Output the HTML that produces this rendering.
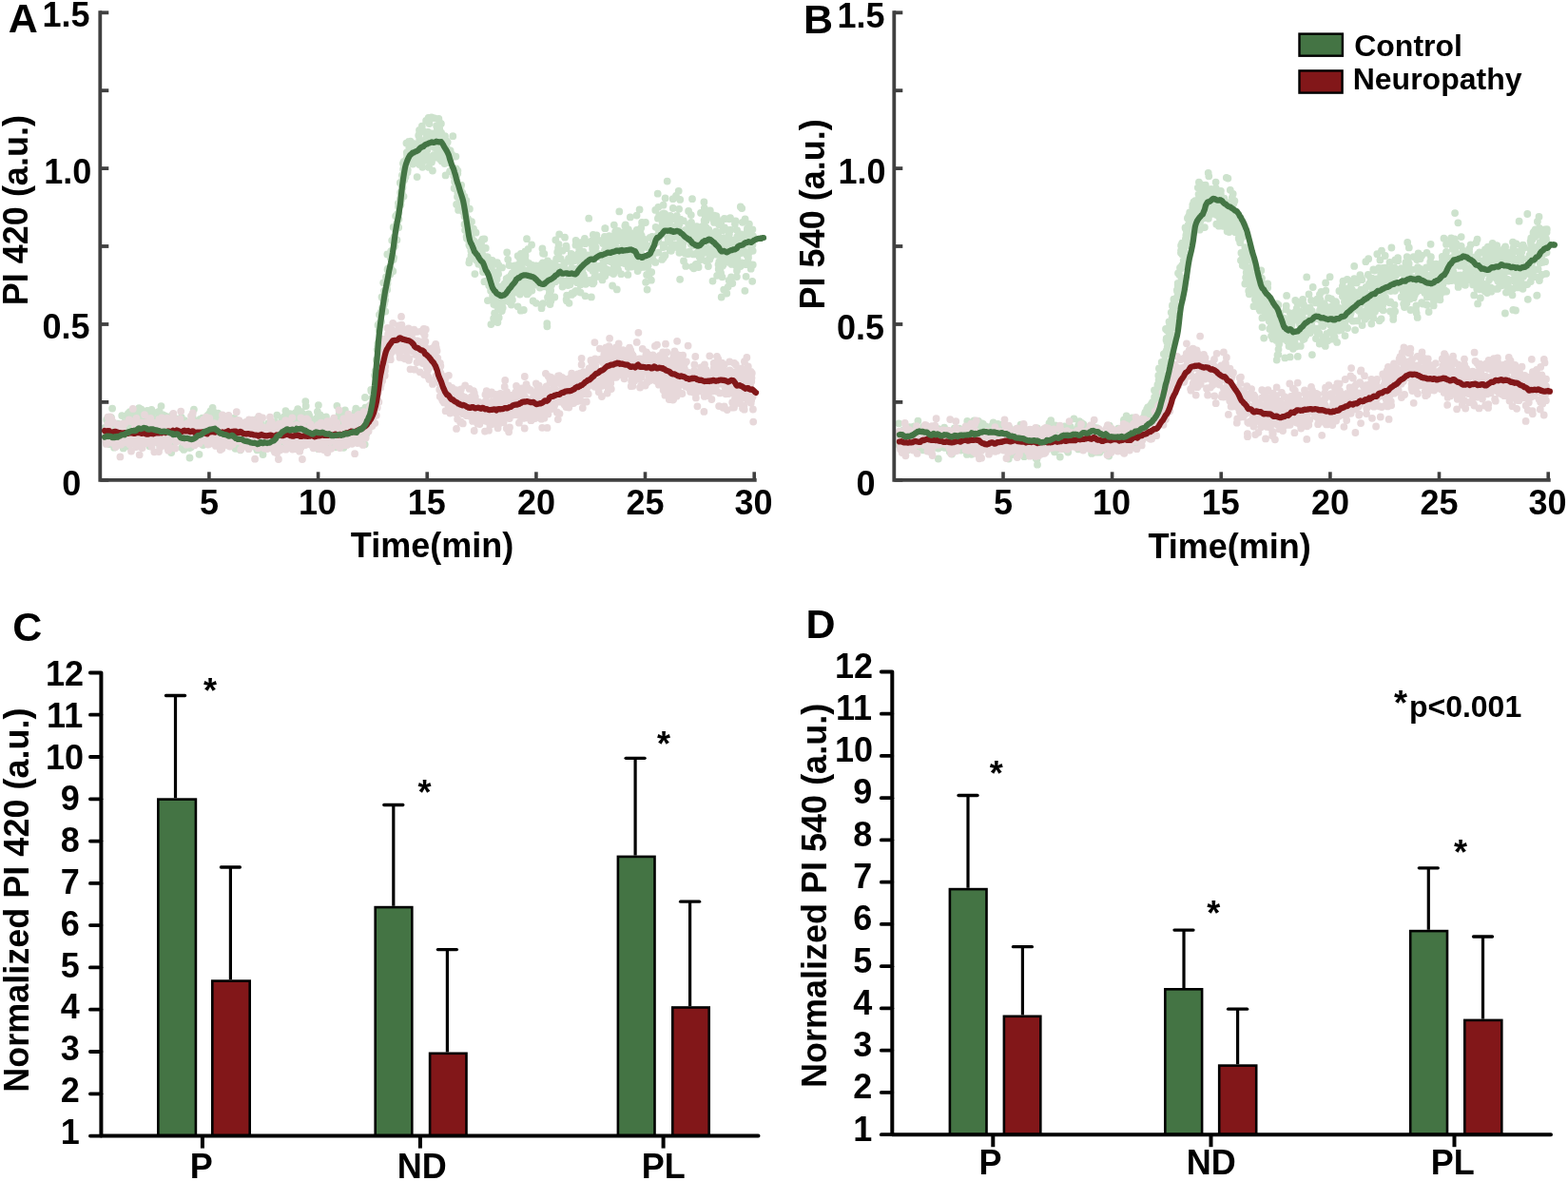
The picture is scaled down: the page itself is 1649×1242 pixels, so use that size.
<!DOCTYPE html>
<html><head><meta charset="utf-8"><title>Figure</title>
<style>html,body{margin:0;padding:0;background:#fff;}body{width:1649px;height:1242px;overflow:hidden;}svg{display:block;}</style>
</head><body><svg width="1649" height="1242" viewBox="0 0 1649 1242" font-family="&quot;Liberation Sans&quot;, Arial, sans-serif"><path d="M459.3 165.7h0M758.4 233.0h0M208.6 455.4h0M757.2 260.3h0M322.9 446.3h0M399.0 331.0h0M674.7 248.0h0M389.3 441.2h0M485.1 194.7h0M129.1 460.1h0M624.1 281.4h0M477.3 185.0h0M335.1 456.6h0M647.9 242.5h0M317.0 442.7h0M419.5 230.5h0M201.7 446.0h0M385.2 456.5h0M249.0 451.1h0M289.2 456.5h0M622.0 253.6h0M301.5 450.2h0M441.2 146.9h0M779.1 253.1h0M766.1 243.1h0M604.5 306.9h0M479.4 164.6h0M299.1 452.2h0M219.8 448.9h0M771.7 268.0h0M462.2 135.4h0M189.3 462.8h0M535.5 317.3h0M639.9 267.3h0M528.3 314.2h0M735.8 253.4h0M137.3 454.8h0M470.7 149.6h0M423.5 197.2h0M152.8 449.2h0M547.6 267.8h0M691.7 203.7h0M514.6 289.2h0M287.7 457.0h0M683.0 285.7h0M457.7 148.2h0M458.7 141.6h0M623.8 247.0h0M211.2 450.8h0M669.2 255.3h0M576.2 276.0h0M647.0 261.1h0M241.0 462.0h0M657.4 263.3h0M240.8 444.0h0M165.9 450.3h0M693.5 227.5h0M697.6 215.7h0M708.0 249.5h0M432.1 154.5h0M297.2 459.0h0M115.1 457.0h0M550.6 276.0h0M601.2 290.3h0M680.1 289.0h0M302.5 445.2h0M257.1 449.2h0M546.3 280.2h0M659.3 247.7h0M767.4 242.0h0M212.9 439.6h0M439.1 161.6h0M720.4 266.3h0M398.6 347.3h0M512.3 295.8h0M127.0 461.1h0M569.5 324.2h0M737.0 252.3h0M674.1 263.1h0M714.1 249.3h0M560.6 292.7h0M277.7 463.2h0M634.4 288.2h0M254.6 453.9h0M677.1 272.1h0M153.1 437.4h0M673.2 266.1h0M222.5 440.4h0M366.1 443.9h0M326.3 448.0h0M581.7 282.5h0M232.1 452.6h0M380.5 454.5h0M114.3 441.6h0M289.3 465.5h0M397.5 341.9h0M182.5 453.5h0M542.1 304.7h0M369.7 444.3h0M604.9 282.9h0M556.2 276.9h0M404.4 318.8h0M701.7 190.6h0M541.4 279.5h0M662.8 228.4h0M343.4 452.6h0M481.0 207.0h0M244.2 464.3h0M789.6 263.6h0M276.1 462.9h0M285.5 452.7h0M160.2 457.1h0M286.1 464.3h0M630.7 253.0h0M586.2 265.2h0M198.0 451.9h0M366.9 459.4h0M397.3 378.1h0M563.8 318.8h0M421.2 202.4h0M510.2 275.0h0M682.9 288.6h0M605.7 290.1h0M359.2 458.0h0M416.1 227.3h0M361.0 448.1h0M185.1 452.3h0M248.9 452.8h0M303.8 443.2h0M324.5 435.4h0M323.8 462.8h0M503.6 271.5h0M772.9 235.5h0M638.5 283.4h0M649.8 264.0h0M628.0 280.6h0M517.4 296.3h0M736.1 242.8h0M580.6 278.6h0M451.5 152.3h0M162.9 453.8h0M443.4 159.4h0M255.4 463.4h0M200.8 467.4h0M455.4 151.1h0M645.6 280.8h0M311.5 456.3h0M634.5 271.5h0M468.7 154.7h0M211.9 447.7h0M768.3 241.8h0M384.2 430.0h0M311.6 458.1h0M687.9 256.6h0M195.2 452.2h0M610.5 307.6h0M238.4 460.6h0M377.9 449.8h0M268.4 470.1h0M683.9 261.8h0M376.3 452.7h0M774.9 291.1h0M536.7 318.0h0M583.3 284.8h0M465.9 159.7h0M321.0 457.9h0M380.0 447.5h0M751.9 249.2h0M247.5 471.8h0M784.2 250.5h0M627.4 247.3h0M355.6 453.9h0M547.7 326.7h0M370.1 455.9h0M370.4 458.7h0M453.8 123.3h0M121.7 450.5h0M446.9 166.3h0M772.8 255.2h0M305.0 458.9h0M620.5 281.9h0M412.2 273.5h0M253.0 472.4h0M727.4 246.7h0M121.8 451.5h0M317.3 448.7h0M791.5 257.5h0M289.1 443.9h0M689.3 275.9h0M523.3 313.4h0M659.9 260.9h0M540.1 307.9h0M357.6 449.6h0M629.1 290.8h0M128.4 454.6h0M415.0 258.9h0M363.9 444.3h0M435.6 156.9h0M197.3 461.5h0M262.0 453.0h0M493.6 242.9h0M374.7 450.2h0M650.1 283.9h0M522.9 321.2h0M697.6 260.1h0M609.7 288.8h0M520.7 320.7h0M306.4 460.9h0M644.1 268.7h0M281.6 464.8h0M161.6 453.0h0M766.9 230.3h0M478.5 182.4h0M638.0 274.3h0M471.2 171.0h0M527.3 306.2h0M133.4 460.0h0M237.7 447.4h0M570.4 296.2h0M499.4 288.1h0M218.4 437.0h0M759.5 263.3h0M215.6 448.8h0M458.3 147.7h0M208.5 449.3h0M599.5 299.2h0M298.7 440.3h0M201.8 446.4h0M141.7 452.5h0M229.5 438.7h0M241.1 457.1h0M476.5 176.8h0M417.9 225.2h0M763.1 258.7h0M760.9 263.0h0M653.5 271.3h0M568.3 287.8h0M686.5 257.4h0M750.4 230.9h0M125.7 452.1h0M190.8 439.0h0M356.0 452.3h0M174.1 445.7h0M519.1 335.0h0M287.8 469.7h0M290.6 454.8h0M306.9 455.3h0M176.9 452.5h0M615.6 256.2h0M554.0 251.2h0M523.9 325.7h0M133.5 454.4h0M403.2 297.3h0M577.5 304.2h0M216.9 456.4h0M373.3 444.2h0M123.8 461.3h0M166.1 433.3h0M257.9 457.0h0M393.0 413.1h0M426.2 183.4h0M713.5 249.1h0M326.2 452.1h0M124.9 459.0h0M673.7 258.4h0M152.5 458.6h0M173.7 446.3h0M767.1 276.1h0M624.0 270.5h0M340.7 448.5h0M200.4 462.4h0M374.0 453.6h0M341.6 462.2h0M706.6 259.8h0M395.8 378.5h0M166.2 452.1h0M742.3 254.0h0M534.7 291.9h0M189.9 445.1h0M187.5 455.7h0M428.0 162.4h0M173.1 437.2h0M541.1 293.8h0M530.6 313.0h0M132.2 452.3h0M660.9 241.4h0M646.8 253.8h0M734.4 280.1h0M567.4 284.0h0M582.8 283.9h0M222.0 466.0h0M126.6 456.7h0M155.0 441.9h0M768.0 229.2h0M550.6 293.8h0M756.0 236.1h0M348.5 452.5h0M625.3 255.0h0M154.9 431.9h0M223.6 460.2h0M299.3 447.4h0M485.6 217.3h0M490.4 239.3h0M450.6 140.3h0M399.7 340.6h0M502.9 263.6h0M769.5 277.9h0M422.7 202.6h0M681.4 260.3h0M148.4 459.8h0M373.2 454.1h0M492.5 249.5h0M533.3 294.0h0M280.8 463.6h0M382.6 433.0h0M756.1 267.4h0M552.8 273.8h0M509.2 281.0h0M154.8 443.6h0M145.9 448.1h0M254.5 460.6h0M204.3 455.0h0M781.1 255.1h0M112.2 441.5h0M359.8 435.3h0M150.1 456.3h0M546.7 299.3h0M142.0 434.9h0M156.9 462.5h0M164.8 441.3h0M295.6 454.9h0M503.3 275.1h0M659.5 263.4h0M292.5 458.5h0M303.4 435.0h0M672.5 267.9h0M619.0 268.3h0M196.8 457.8h0M660.1 256.8h0M677.1 257.5h0M231.6 443.0h0M537.8 313.0h0M244.5 447.1h0M276.3 463.9h0M447.2 155.0h0M466.4 150.4h0M437.0 162.7h0M479.3 191.5h0M255.7 453.3h0M641.2 270.0h0M299.8 464.1h0M732.7 238.1h0M461.6 143.9h0M317.4 440.2h0M229.2 464.7h0M441.2 139.2h0M366.9 450.2h0M535.2 317.2h0M450.2 138.8h0M135.5 448.7h0M678.4 255.8h0M145.5 434.8h0M674.6 267.8h0M664.5 269.7h0M740.4 246.3h0M563.4 295.2h0M219.8 452.7h0M411.7 283.9h0M409.9 266.8h0M541.5 303.9h0M370.2 444.5h0M571.0 266.5h0M249.3 449.3h0M351.2 458.0h0M480.8 193.7h0M401.9 313.2h0M193.9 469.7h0M768.9 268.4h0M581.7 288.7h0M678.3 258.7h0M354.1 455.9h0M754.6 251.3h0M664.3 280.6h0M778.2 263.0h0M244.9 459.7h0M435.7 155.0h0M373.4 437.1h0M528.9 317.5h0M280.9 451.6h0M178.8 449.2h0M435.3 158.5h0M546.4 278.3h0M372.2 457.3h0M783.6 230.5h0M387.1 451.4h0M314.7 441.7h0M665.3 277.9h0M428.5 181.2h0M296.6 442.6h0M305.7 440.5h0M756.2 275.5h0M766.1 265.6h0M551.0 289.9h0M300.4 432.1h0M595.4 258.7h0M258.1 463.1h0M329.9 462.2h0M479.7 177.3h0M383.8 436.4h0M349.7 454.4h0M774.6 267.4h0M226.4 451.3h0M528.8 302.8h0M136.6 433.1h0M172.8 461.0h0M253.5 453.0h0M786.5 274.7h0M605.6 252.9h0M702.2 247.8h0M144.0 442.5h0M575.0 277.3h0M410.3 288.4h0M394.3 413.5h0M593.3 276.1h0M320.5 452.7h0M460.4 134.9h0M288.1 452.8h0M377.2 447.0h0M474.0 163.9h0M218.0 453.1h0M298.6 438.4h0M397.0 379.7h0M432.7 171.1h0M655.8 258.2h0M548.7 270.9h0M493.9 219.7h0M703.5 240.3h0M244.9 448.4h0M181.3 451.8h0M378.8 439.8h0M203.8 455.8h0M489.4 222.3h0M501.5 266.7h0M200.0 459.6h0M598.6 291.2h0M489.8 238.2h0M398.9 339.8h0M735.9 268.2h0M693.9 248.4h0M261.0 456.0h0M223.9 437.6h0M734.6 281.0h0M217.5 450.0h0M626.6 260.2h0M323.4 449.3h0M356.6 452.0h0M487.9 207.7h0M741.7 229.0h0M111.7 455.5h0M221.0 445.1h0M601.4 282.0h0M379.3 456.7h0M306.6 435.7h0M766.9 246.2h0M290.3 457.2h0M597.3 300.1h0M767.8 272.3h0M630.4 279.8h0M594.0 249.7h0M603.5 295.1h0M659.4 268.6h0M295.2 456.6h0M537.6 289.2h0M657.8 270.3h0M716.0 260.4h0M728.0 280.6h0M726.7 256.8h0M176.9 438.5h0M367.0 450.7h0M421.5 215.3h0M718.3 254.3h0M396.2 398.2h0M290.9 453.5h0M123.8 445.7h0M307.2 441.4h0M642.7 275.2h0M124.1 447.5h0M222.8 437.4h0M322.3 441.2h0M473.1 180.1h0M357.9 453.8h0M712.2 235.7h0M251.8 463.9h0M493.3 257.5h0M640.7 248.2h0M744.2 265.0h0M705.9 245.4h0M202.7 439.1h0M650.2 243.0h0M570.8 301.4h0M397.8 364.8h0M127.7 450.8h0M224.8 437.8h0M621.4 275.7h0M167.6 432.6h0M323.5 453.6h0M284.3 458.3h0M619.1 272.4h0M355.1 446.8h0M169.8 455.3h0M362.9 431.4h0M333.2 443.0h0M599.2 296.3h0M328.6 444.3h0M583.3 312.5h0M477.6 184.3h0M715.6 230.7h0M610.4 299.4h0M388.5 434.5h0M441.0 162.3h0M431.7 154.5h0M704.7 231.7h0M204.4 461.7h0M399.6 342.2h0M475.1 162.5h0M407.8 282.6h0M518.1 310.9h0M450.5 169.3h0M392.4 409.4h0M578.6 304.0h0M334.9 426.1h0M524.1 288.2h0M607.1 297.2h0M199.4 471.0h0M332.9 451.1h0M754.5 267.7h0M769.0 266.7h0M787.0 271.0h0M139.3 439.8h0M673.9 280.5h0M748.1 245.3h0M725.3 246.6h0M597.8 287.0h0M571.0 294.5h0M601.0 274.7h0M502.3 264.9h0M647.9 248.0h0M452.6 165.4h0M264.4 466.8h0M174.6 446.0h0M729.6 282.3h0M625.1 292.0h0M231.2 453.5h0M671.1 259.3h0M315.1 449.3h0M543.8 301.7h0M353.2 464.5h0M256.3 457.0h0M230.0 444.0h0M158.7 466.2h0M161.1 459.0h0M157.4 449.4h0M171.6 441.2h0M679.0 276.7h0M463.4 161.7h0M198.0 464.0h0M468.3 164.9h0M480.3 189.4h0M448.9 163.3h0M251.1 451.9h0M406.5 293.8h0M704.1 233.8h0M372.0 444.8h0M454.0 170.6h0M744.6 223.2h0M269.0 463.6h0M605.0 271.1h0M440.2 142.5h0M647.2 265.7h0M355.6 439.4h0M480.1 187.0h0M361.4 470.8h0M700.9 240.6h0M734.1 264.9h0M541.1 282.4h0M779.3 266.0h0M609.5 257.4h0M676.6 272.5h0M720.4 246.0h0M295.7 469.1h0M783.1 254.1h0M376.5 446.4h0M449.3 143.3h0M233.3 440.1h0M670.5 280.1h0M340.0 462.7h0M580.4 285.3h0M259.2 465.1h0M349.9 449.8h0M372.3 453.3h0M271.7 465.2h0M134.2 438.4h0M635.5 253.1h0M758.3 278.0h0M264.6 444.6h0M221.2 446.6h0M347.3 449.6h0M166.7 440.0h0M553.4 289.5h0M361.6 453.8h0M493.9 258.7h0M728.0 209.2h0M697.8 271.1h0M738.8 246.4h0M747.9 269.5h0M512.5 283.2h0M452.8 141.0h0M135.9 449.3h0M180.2 476.0h0M467.6 172.1h0M694.0 239.9h0M405.3 306.6h0M112.8 463.8h0M255.1 462.7h0M628.5 269.7h0M218.3 446.0h0M246.4 445.9h0M305.0 453.1h0M525.8 325.6h0M680.6 304.6h0M259.6 454.4h0M519.1 312.4h0M471.7 161.4h0M413.7 272.9h0M506.1 271.9h0M665.4 250.7h0M258.6 444.4h0M449.4 157.7h0M177.1 451.0h0M460.3 160.8h0M649.7 253.5h0M791.2 295.8h0M434.7 151.0h0M312.6 451.1h0M505.5 278.2h0M363.8 460.1h0M190.1 453.0h0M468.0 143.1h0M655.2 245.2h0M718.0 259.1h0M777.3 260.0h0M361.1 454.2h0M281.9 453.0h0M185.9 453.9h0M407.8 293.7h0M660.6 271.9h0M270.3 448.8h0M689.6 238.8h0M595.6 314.9h0M247.3 451.9h0M541.1 293.6h0M669.2 258.5h0M746.4 225.4h0M220.9 437.3h0M670.8 273.4h0M639.4 253.4h0M276.5 478.0h0M311.2 434.0h0M762.9 230.1h0M357.2 448.6h0M307.4 436.4h0M601.3 309.9h0M200.9 453.4h0M439.8 162.2h0M354.5 440.2h0M481.2 199.7h0M521.7 316.1h0M546.8 309.5h0M405.2 307.3h0M715.1 251.4h0M680.1 269.7h0M746.8 266.6h0M414.4 249.5h0M608.1 292.9h0M404.0 305.8h0M300.4 453.5h0M554.8 284.3h0M755.4 247.5h0M658.8 249.9h0M304.8 459.1h0M265.8 447.6h0M636.5 240.2h0M591.1 296.0h0M699.2 224.9h0M210.1 448.0h0M697.9 233.8h0M405.3 327.6h0M296.7 444.1h0M344.4 445.2h0M787.8 246.2h0M762.2 266.9h0M167.4 452.0h0M325.2 437.0h0M601.0 294.0h0M134.4 466.9h0M134.8 434.9h0M140.9 452.7h0M702.5 254.5h0M337.9 451.5h0M327.6 448.3h0M651.3 222.4h0M327.5 460.2h0M613.8 270.4h0M362.2 449.2h0M313.2 457.1h0M374.3 429.6h0M224.9 445.5h0M161.5 452.0h0M704.4 253.5h0M702.5 251.8h0M424.5 206.6h0M579.7 296.1h0M698.5 259.4h0M376.7 455.7h0M595.7 261.2h0M625.0 256.5h0M163.5 464.9h0M204.5 453.1h0M622.0 269.9h0M591.5 263.7h0M236.6 448.5h0M674.0 246.7h0M656.4 251.5h0M337.2 454.9h0M342.3 443.6h0M185.7 447.4h0M414.1 270.8h0M185.1 456.4h0M480.8 196.5h0M536.2 316.8h0M507.1 267.1h0M159.2 443.3h0M534.2 272.8h0M623.2 282.9h0M207.0 452.1h0M516.1 295.4h0M668.8 246.2h0M242.3 458.8h0M733.2 267.1h0M773.0 263.2h0M595.6 259.5h0M704.9 226.9h0M295.6 450.3h0M563.7 279.5h0M741.8 258.6h0M140.8 456.5h0M670.0 253.3h0M271.9 459.6h0M656.6 250.1h0M548.4 305.6h0M656.9 277.0h0M383.7 467.3h0M417.3 234.7h0M740.6 237.1h0M158.9 450.0h0M216.8 446.4h0M773.7 263.2h0M733.0 277.6h0M210.4 449.5h0M774.1 272.0h0M291.3 436.7h0M718.6 263.8h0M727.3 255.2h0M126.5 451.5h0M116.9 450.1h0M333.3 462.2h0M745.3 242.2h0M649.9 284.4h0M374.1 445.3h0M695.4 245.1h0M320.0 450.1h0M347.2 469.6h0M240.2 454.9h0M764.6 266.9h0M658.3 260.6h0M425.6 173.8h0M290.5 450.5h0M769.0 292.5h0M380.9 460.0h0M254.0 451.6h0M399.9 340.2h0M600.7 267.0h0M635.8 282.0h0M184.6 458.2h0M755.3 260.8h0M570.3 284.3h0M152.9 452.4h0M681.3 277.0h0M773.0 257.4h0M681.6 278.9h0M117.0 443.1h0M432.9 153.5h0M512.1 270.1h0M715.8 245.5h0M453.1 167.2h0M163.0 447.7h0M746.9 270.6h0M759.3 262.3h0M441.8 150.3h0M146.7 454.6h0M682.3 275.0h0M616.0 298.8h0M772.6 277.1h0M115.3 447.5h0M407.3 267.4h0M303.8 448.0h0M183.7 441.9h0M611.6 254.8h0M343.0 438.4h0M136.9 444.1h0M201.4 455.2h0M659.9 261.7h0M523.4 339.0h0M256.9 448.0h0M584.9 287.1h0M199.2 446.8h0M569.3 281.1h0M557.0 290.7h0M114.1 457.9h0M459.1 132.4h0M605.6 305.9h0M627.5 252.8h0M591.5 301.6h0M713.8 241.1h0M626.0 284.7h0M739.0 263.8h0M393.2 409.0h0M133.6 454.7h0M233.7 438.9h0M306.5 435.7h0M138.8 445.7h0M184.1 463.7h0M464.1 139.7h0M282.5 454.8h0M305.0 460.9h0M615.9 275.3h0M693.1 246.7h0M698.1 224.5h0M363.0 451.4h0M594.2 295.8h0M691.5 247.7h0M213.2 456.9h0M247.1 458.0h0M552.1 305.1h0M291.4 461.6h0M241.7 452.2h0M360.9 458.6h0M121.2 469.8h0M409.2 287.1h0M142.5 436.9h0M277.2 462.3h0M258.6 457.1h0M334.9 472.2h0M195.8 463.2h0M431.6 148.7h0M579.3 288.8h0M341.4 462.9h0M742.6 231.9h0M696.6 234.8h0M319.0 446.7h0M136.8 448.2h0M634.1 256.1h0M274.0 462.1h0M336.8 438.1h0M505.3 263.8h0M791.4 241.3h0M314.7 444.1h0M429.8 160.4h0M538.2 298.7h0M576.3 288.0h0M255.0 454.0h0M516.2 301.1h0M481.3 202.8h0M559.4 305.6h0M188.7 443.8h0M196.4 458.9h0M775.5 271.5h0M670.3 261.7h0M674.6 276.6h0M747.3 247.1h0M765.4 268.7h0M378.6 435.6h0M624.5 277.3h0M547.8 281.9h0M492.1 230.1h0M573.5 290.6h0M328.1 458.2h0M698.2 257.9h0M387.8 438.6h0M211.3 458.6h0M117.8 450.7h0M546.2 270.8h0M268.2 445.1h0M762.2 262.2h0M243.3 452.4h0M325.9 449.9h0M781.4 256.6h0M464.8 163.4h0M739.0 238.0h0M643.2 250.3h0M191.4 471.0h0M257.6 464.7h0M374.3 446.8h0M711.0 205.9h0M338.0 442.8h0M426.1 170.4h0M438.1 156.0h0M331.8 451.5h0M646.6 258.9h0M147.7 455.2h0M264.3 450.2h0M672.9 263.4h0M530.6 298.4h0M459.3 156.2h0M362.3 452.2h0M199.0 463.7h0M421.8 206.2h0M783.4 305.8h0M516.1 305.7h0M503.5 258.3h0M785.5 253.2h0M714.1 234.7h0M791.7 263.8h0M760.6 279.1h0M565.5 300.1h0M318.5 444.9h0M538.6 287.5h0M347.7 465.8h0M663.2 279.9h0M203.9 430.6h0M425.7 177.1h0M683.6 249.9h0M420.2 214.3h0M520.1 329.5h0M177.3 439.9h0M304.7 437.7h0M761.2 304.6h0M558.3 282.3h0M359.2 449.4h0M462.8 161.0h0M638.7 256.1h0M647.3 263.6h0M674.9 273.0h0M307.8 458.6h0M272.8 447.3h0M545.7 277.8h0M469.8 155.7h0M495.5 268.6h0M256.6 452.7h0M327.6 453.9h0M623.1 261.7h0M354.6 448.9h0M626.8 290.5h0M142.1 445.4h0M758.7 312.5h0M252.2 459.9h0M436.4 171.0h0M738.3 267.3h0M283.1 446.5h0M265.4 447.7h0M782.4 263.6h0M727.0 234.0h0M473.2 159.4h0M151.9 442.8h0M522.6 293.6h0M281.9 470.0h0M256.2 464.7h0M745.9 253.7h0M532.7 315.5h0M413.1 253.0h0M153.0 453.2h0M363.7 443.5h0M699.5 268.5h0M316.7 441.0h0M330.4 445.4h0M524.1 325.9h0M282.2 465.4h0M490.1 214.7h0M634.5 276.4h0M305.8 446.7h0M432.7 160.5h0M503.3 277.7h0M358.1 457.0h0M262.8 468.8h0M188.3 457.7h0M495.9 261.7h0M749.5 251.3h0M123.1 467.1h0M700.6 228.6h0M766.6 294.8h0M480.1 214.9h0M770.3 298.0h0M590.9 283.3h0M482.1 220.9h0M426.5 186.0h0M428.3 179.4h0M575.4 343.3h0M270.2 462.9h0M598.1 296.1h0M445.1 137.9h0M570.4 261.4h0M751.9 260.4h0M269.5 464.9h0M385.3 448.0h0M297.9 451.7h0M146.2 429.2h0M534.5 309.9h0M538.9 315.4h0M791.8 278.4h0M520.1 290.2h0M380.4 440.2h0M724.8 239.4h0M120.8 449.0h0M316.7 433.0h0M623.0 259.0h0M220.4 460.1h0M356.6 443.0h0M689.3 220.9h0M345.3 449.4h0M276.0 456.5h0M717.6 256.4h0M163.1 440.8h0M694.5 242.0h0M325.4 442.5h0M252.0 448.5h0M443.0 158.1h0M439.9 157.6h0M768.1 260.9h0M623.4 279.1h0M424.1 178.0h0M491.8 238.5h0M327.4 451.7h0M780.4 276.5h0M373.5 433.5h0M714.3 236.1h0M557.7 296.9h0M735.0 246.4h0M352.1 453.2h0M394.4 405.8h0M362.1 455.0h0M674.3 239.5h0M760.2 242.4h0M672.6 220.4h0M418.1 237.6h0M675.7 272.3h0M608.2 306.5h0M464.3 149.3h0M235.4 441.1h0M272.5 470.2h0M590.2 263.5h0M245.8 454.7h0M492.4 239.7h0M658.7 274.7h0M556.2 303.6h0M526.1 302.4h0M286.0 452.8h0M192.1 454.8h0M133.4 445.7h0M141.9 455.5h0M268.3 464.4h0M490.6 249.0h0M399.2 369.9h0M249.5 448.6h0M316.7 441.5h0M424.8 187.2h0M655.1 268.8h0M557.6 284.2h0M138.2 434.3h0M438.6 186.1h0M237.1 452.3h0M693.2 226.5h0M713.7 200.8h0M488.5 236.0h0M612.5 283.0h0M578.6 292.4h0M667.3 245.2h0M300.4 446.7h0M266.7 457.7h0M619.2 229.7h0M764.3 308.5h0M267.0 464.8h0M497.5 255.3h0M481.4 179.6h0M365.0 445.3h0M621.9 312.4h0M200.2 460.5h0M363.8 439.2h0M404.2 319.3h0M760.2 271.4h0M576.9 302.0h0M595.1 283.6h0M792.1 248.3h0M264.9 462.5h0M521.8 303.4h0M183.7 439.7h0M221.1 437.7h0M585.0 287.1h0M673.5 241.4h0M543.9 289.8h0M505.7 267.9h0M649.4 275.2h0M762.4 265.7h0M741.4 247.1h0M661.8 256.1h0M405.0 310.5h0M632.9 282.6h0M269.8 451.9h0M726.8 226.1h0M301.1 440.8h0M778.8 217.5h0M316.0 439.9h0M290.4 462.8h0M339.6 458.6h0M441.1 173.0h0M246.8 455.6h0M290.1 457.3h0M713.3 231.3h0M745.4 241.6h0M216.3 451.0h0M411.3 282.9h0M396.6 379.2h0M675.1 233.9h0M560.6 298.9h0M388.5 434.7h0M648.1 252.7h0M523.0 309.7h0M253.1 464.7h0M650.8 264.8h0M427.8 160.3h0M715.1 293.8h0M563.9 282.6h0M213.4 454.2h0M626.3 290.4h0M506.6 261.5h0M479.6 192.5h0M396.5 367.6h0M562.3 287.4h0M153.5 439.1h0M453.9 168.0h0M748.2 227.9h0M250.0 460.4h0M203.7 456.0h0M390.2 410.0h0M464.6 169.5h0M367.1 445.1h0M440.3 152.7h0M570.4 300.3h0M650.9 246.7h0M145.5 439.4h0M370.6 449.3h0M532.6 293.2h0M124.6 454.8h0M757.6 282.5h0M547.3 273.7h0M441.0 136.9h0M416.0 240.5h0M210.7 455.0h0M155.5 451.6h0M574.7 276.8h0M740.4 212.4h0M650.6 277.3h0M124.9 459.9h0M136.9 462.2h0M459.9 135.8h0M501.2 273.7h0M523.8 323.1h0M707.7 209.2h0M722.6 267.1h0M784.9 278.2h0M337.8 455.0h0M429.8 169.7h0M787.9 265.2h0M587.9 281.0h0M149.5 433.1h0M730.5 239.2h0M530.8 306.0h0M242.4 446.1h0M347.4 460.9h0M504.2 264.3h0M555.4 286.8h0M390.4 411.3h0M617.9 279.7h0M473.6 158.3h0M775.0 284.7h0M692.3 217.8h0M212.7 453.3h0M180.6 447.0h0M692.3 241.0h0M524.7 334.0h0M776.0 274.8h0M407.5 283.6h0M232.6 461.4h0M135.5 444.1h0M634.4 279.4h0M167.3 432.8h0M549.4 283.6h0M494.6 249.7h0M614.6 269.4h0M753.9 229.6h0M271.6 444.8h0M439.4 156.1h0M622.8 280.6h0M248.3 455.7h0M173.0 445.7h0M204.4 442.4h0M745.6 245.7h0M648.6 253.1h0M247.0 448.8h0M121.1 455.7h0M545.2 293.5h0M329.8 453.3h0M265.7 458.5h0M246.4 447.7h0M432.3 158.1h0M343.7 448.3h0M751.4 226.6h0M496.2 252.8h0M724.1 221.9h0M740.8 218.8h0M724.1 236.1h0M450.1 141.1h0M508.0 286.1h0M474.6 165.8h0M124.1 458.5h0M755.7 283.1h0M213.3 451.2h0M487.7 218.2h0M575.8 282.6h0M646.5 276.8h0M480.0 187.7h0M546.1 291.3h0M674.3 249.4h0M549.1 274.1h0M565.0 282.8h0M692.7 248.5h0M160.4 455.8h0M463.9 130.1h0M128.4 449.5h0M213.5 447.4h0M129.7 471.4h0M701.0 237.8h0M335.1 445.4h0M465.7 159.0h0M647.1 243.8h0M580.1 299.6h0M742.0 223.0h0M444.3 175.8h0M589.3 284.3h0M702.0 233.8h0M183.4 440.3h0M430.7 160.3h0M170.3 448.7h0M490.1 217.4h0M324.0 458.9h0M683.4 258.6h0M429.7 164.8h0M221.4 448.5h0M705.9 263.8h0M400.7 328.2h0M123.7 454.6h0M293.5 454.5h0M371.5 454.8h0M128.2 437.1h0M205.8 464.1h0M312.5 445.5h0M340.5 444.0h0M408.7 286.0h0M313.2 430.2h0M329.0 443.4h0M425.4 180.3h0M350.3 464.0h0M621.6 269.5h0M642.9 270.4h0M122.3 451.7h0M220.8 453.7h0M179.7 446.8h0M350.9 456.3h0M353.2 449.4h0M621.2 254.7h0M607.8 267.2h0M712.0 229.9h0M576.0 312.7h0M516.4 341.1h0M788.3 249.1h0M548.1 277.9h0M375.9 453.7h0M318.1 450.8h0M134.7 445.6h0M754.1 289.8h0M623.5 285.0h0M367.4 458.1h0M707.0 242.1h0M630.5 269.5h0M427.5 180.5h0M762.0 239.4h0M718.8 232.2h0M414.5 254.3h0M401.5 312.3h0M213.7 464.1h0M180.1 445.2h0M353.9 448.7h0M256.6 460.9h0M157.1 459.1h0M611.8 277.6h0M765.7 249.5h0M579.0 276.8h0M729.1 258.3h0M703.8 231.5h0M550.8 326.0h0M466.7 166.9h0M354.4 426.8h0M447.8 139.7h0M329.4 453.1h0M227.6 466.7h0M448.1 126.9h0M561.1 284.3h0M509.4 296.2h0M613.4 264.6h0M339.4 450.9h0M110.4 449.8h0M255.3 463.5h0M307.8 437.4h0M487.5 212.9h0M375.9 437.0h0M558.8 305.8h0M263.0 465.3h0M429.4 164.2h0M111.8 454.5h0M578.3 293.1h0M700.4 235.5h0M695.8 246.5h0M706.7 247.4h0M244.0 453.6h0M779.5 246.8h0M486.3 202.6h0M236.8 447.6h0M172.4 452.5h0M158.7 447.8h0M544.6 322.3h0M538.9 295.1h0M646.8 264.5h0M559.4 280.6h0M464.5 150.1h0M221.3 442.6h0M611.1 264.7h0M113.1 455.6h0M560.6 316.5h0M223.0 438.7h0M218.6 441.9h0M728.2 253.0h0M742.6 255.9h0M601.5 308.5h0M266.2 455.4h0M430.4 161.2h0M346.4 445.3h0M190.5 447.1h0M271.8 457.1h0M149.8 436.0h0M773.3 267.5h0M271.4 470.0h0M374.3 445.0h0M278.5 454.4h0M554.4 309.4h0M493.9 248.4h0M632.4 291.7h0M118.1 429.6h0M249.9 454.5h0M518.6 286.0h0M503.5 261.5h0M672.5 281.8h0M165.2 456.5h0M363.4 449.1h0M385.6 449.1h0M460.1 134.0h0M349.9 454.7h0M611.3 276.0h0M181.4 436.3h0M151.6 453.1h0M324.1 443.1h0M171.2 451.9h0M377.9 442.2h0M504.7 273.3h0M167.7 452.8h0M423.8 188.5h0M489.0 213.7h0M495.3 263.6h0M130.9 453.4h0M637.6 257.7h0M602.6 287.1h0M312.8 445.8h0M431.7 157.0h0M614.3 290.6h0M679.1 296.8h0M279.2 455.9h0M635.9 263.4h0M399.6 331.6h0M760.3 240.2h0M709.3 260.0h0M354.4 446.4h0M355.7 454.9h0M441.6 139.3h0M765.4 251.5h0M208.5 456.8h0M484.6 207.9h0M552.0 291.9h0M601.3 293.3h0M156.1 447.8h0M519.0 317.2h0M417.5 252.4h0M341.7 455.2h0M772.1 258.3h0M182.6 442.6h0M593.6 277.4h0M249.7 453.1h0M756.8 284.5h0M451.5 130.0h0M419.5 214.4h0M279.8 451.4h0M474.3 179.3h0M699.7 229.8h0M159.4 430.9h0M559.1 257.5h0M210.2 454.4h0M263.8 446.3h0M692.5 265.6h0M159.6 455.5h0M609.2 262.5h0M149.8 442.5h0M457.8 147.4h0M535.5 279.0h0M210.5 441.0h0M657.3 250.3h0M261.0 458.9h0M434.7 161.6h0M274.1 444.7h0M631.0 270.6h0M281.6 458.7h0M289.1 454.5h0M118.6 450.1h0M723.9 267.1h0M133.2 463.7h0M324.8 445.1h0M551.5 285.1h0M336.7 436.3h0M517.5 292.7h0M358.9 457.0h0M710.3 238.5h0M218.7 450.0h0M122.9 453.0h0M178.3 450.4h0M467.6 160.9h0M514.2 300.3h0M678.9 234.0h0M761.3 259.0h0M383.9 418.0h0M672.0 268.0h0M386.6 434.1h0M363.1 445.6h0M200.8 470.2h0M702.6 247.3h0M339.5 459.8h0M551.3 298.2h0M463.0 167.5h0M790.0 247.8h0M284.6 457.2h0M486.4 206.9h0M648.8 304.4h0M240.6 449.2h0M671.6 268.2h0M490.9 250.8h0M180.9 458.6h0M770.4 252.6h0M391.1 440.3h0M434.5 164.5h0M645.2 288.1h0M768.1 272.1h0M277.7 467.2h0M203.2 449.8h0M618.1 297.2h0M572.0 285.3h0M414.8 251.8h0M551.9 305.6h0M754.1 251.6h0M684.4 265.8h0M497.8 260.7h0M729.9 257.6h0M732.8 266.4h0M636.2 240.2h0M191.1 450.4h0M493.3 276.3h0M524.4 278.8h0M709.9 230.2h0M462.3 157.0h0M528.0 281.4h0M598.0 271.9h0M167.5 441.0h0M148.7 458.9h0M131.0 444.4h0M183.2 457.0h0M284.5 454.1h0M143.3 447.0h0M517.0 281.2h0M500.5 244.7h0M420.8 209.5h0M116.4 442.7h0M464.3 146.7h0M196.5 458.0h0M113.8 457.7h0M653.2 288.2h0M731.3 279.9h0M159.6 437.3h0M559.7 278.8h0M146.6 460.3h0M507.3 274.4h0M535.7 296.1h0M510.4 296.0h0M785.6 243.2h0M528.7 323.7h0M223.6 443.4h0M746.4 272.8h0M314.2 445.5h0M478.1 190.9h0M405.2 315.6h0M660.4 288.9h0M167.6 441.0h0M361.0 448.0h0M412.2 252.8h0M517.7 274.0h0M729.4 246.1h0M315.9 448.0h0M345.9 462.6h0M568.5 290.0h0M252.8 473.3h0M458.0 149.6h0M328.3 457.5h0M535.6 298.3h0M506.2 255.5h0M578.0 318.6h0M403.3 312.8h0M269.6 470.6h0M120.3 451.2h0M520.5 313.7h0M263.6 458.9h0M113.6 451.3h0M366.0 449.0h0M297.2 455.3h0M575.9 274.5h0M313.4 438.4h0M361.0 459.5h0M603.9 274.3h0M570.0 300.0h0M219.9 435.3h0M510.4 277.4h0M746.4 269.4h0M730.4 256.5h0M689.5 255.5h0M302.6 443.4h0M764.6 264.3h0M246.4 439.7h0M384.3 428.7h0M188.1 456.9h0M496.0 233.2h0M603.1 308.5h0M579.2 305.5h0M115.2 443.9h0M780.2 219.1h0M321.7 427.0h0M615.9 279.5h0M742.2 249.9h0M642.3 286.6h0M467.1 158.0h0M477.6 198.0h0M208.3 460.3h0M370.8 441.6h0M671.2 263.9h0M574.8 280.8h0M562.8 286.8h0M575.0 286.0h0M348.7 450.4h0M778.7 280.1h0M339.6 445.4h0M237.9 441.5h0M566.3 284.6h0M225.7 442.0h0M775.3 248.8h0M502.7 265.5h0M192.2 451.5h0M126.4 462.8h0M520.3 317.9h0M139.0 442.0h0M146.1 454.2h0M391.5 434.7h0M416.0 242.1h0M675.6 254.2h0M198.5 460.8h0M702.4 239.9h0M386.5 442.3h0M691.9 229.7h0M213.5 468.0h0M143.1 445.3h0M407.5 298.2h0M257.4 453.2h0M436.4 159.8h0M669.6 226.6h0M714.1 219.8h0M169.5 427.1h0M285.6 467.5h0M318.2 434.9h0M229.2 434.6h0M428.8 178.8h0M146.8 441.7h0M244.8 453.1h0M154.7 455.1h0M421.9 210.3h0M751.3 260.2h0M214.7 455.2h0M715.2 209.9h0M325.6 460.8h0M619.8 295.0h0M684.9 294.7h0M522.9 276.2h0M600.8 272.6h0M541.3 286.1h0M744.9 280.1h0M641.3 274.2h0M396.9 389.0h0M308.7 450.7h0M217.2 442.8h0M459.5 132.5h0M266.5 456.4h0M270.4 473.3h0M711.8 227.0h0M587.5 256.8h0M478.2 184.7h0M685.2 286.2h0M468.6 184.4h0M379.3 459.3h0M577.7 309.2h0M525.4 282.0h0M252.5 453.9h0M327.5 447.0h0M492.8 247.7h0M259.4 451.3h0M735.5 270.1h0M140.5 458.9h0M707.9 243.3h0M778.5 253.0h0M529.8 312.7h0M254.8 461.0h0M662.5 275.2h0M411.2 264.2h0M596.1 310.6h0M330.3 450.6h0M261.3 458.3h0M761.0 275.3h0M162.0 441.2h0M149.9 453.2h0M644.1 300.5h0M639.1 272.5h0M322.7 450.2h0M365.4 446.5h0M579.4 316.5h0M519.3 320.1h0M552.5 264.8h0M407.2 304.8h0M778.7 246.1h0M211.2 441.5h0M541.1 293.8h0M250.8 450.8h0M338.6 460.1h0M313.2 436.0h0M673.0 246.8h0M505.8 259.3h0M335.9 449.0h0M475.5 179.7h0M424.8 169.8h0M481.3 182.5h0M272.3 447.7h0M365.4 448.7h0M422.9 184.3h0M167.0 466.2h0M120.1 470.7h0M515.1 278.5h0M251.5 457.7h0M657.3 268.7h0M127.4 448.5h0M262.5 456.6h0M539.8 306.3h0M200.3 454.8h0M397.2 364.7h0M313.7 446.4h0M293.4 462.7h0M270.5 458.9h0M775.8 265.4h0M328.3 452.0h0M190.7 460.6h0M734.4 253.0h0M218.3 443.3h0M612.7 265.3h0M559.6 294.3h0M599.7 288.7h0M637.7 260.7h0M233.2 451.8h0M135.7 469.8h0M404.0 319.6h0M413.7 239.0h0M271.6 472.1h0M662.6 263.6h0M184.6 443.5h0M449.6 164.8h0M470.7 158.2h0M116.7 462.9h0M663.3 250.7h0M354.5 461.2h0M422.6 194.7h0M220.0 454.9h0M382.5 452.8h0M418.9 213.8h0M521.0 311.1h0M134.5 454.2h0M401.8 324.4h0M443.8 132.7h0M759.8 267.5h0M516.5 291.9h0M577.9 312.3h0M410.5 265.8h0M447.0 162.3h0M780.3 258.7h0M393.3 434.0h0M787.9 235.6h0M525.9 323.2h0M735.2 247.1h0M503.7 256.1h0M670.6 285.0h0M671.0 277.3h0M373.3 458.5h0M334.8 436.4h0M751.0 233.9h0M334.9 455.1h0M644.5 249.1h0M231.3 460.2h0M443.8 172.3h0M368.0 448.9h0M298.5 449.0h0M272.6 461.3h0M768.4 256.7h0M566.4 294.6h0M427.4 167.4h0M500.9 271.6h0M686.8 253.1h0M571.8 288.3h0M197.9 454.7h0M254.1 452.2h0M718.1 243.9h0M490.6 237.7h0M512.9 316.1h0M221.4 432.5h0M203.7 444.1h0M258.1 458.0h0M332.2 450.4h0M491.4 235.2h0M364.3 466.5h0M572.3 266.9h0M404.4 307.7h0M461.0 132.5h0M759.4 257.5h0M139.1 453.0h0M544.6 269.1h0M612.3 295.0h0M233.1 442.8h0M697.1 225.0h0M194.1 442.2h0M661.8 249.5h0M241.7 447.0h0M401.0 338.4h0M380.0 434.7h0M500.6 268.1h0M543.0 305.8h0M137.9 446.9h0M665.9 274.9h0M469.3 147.9h0M736.6 262.7h0M225.5 443.4h0M413.3 285.2h0M761.8 258.3h0M543.1 288.0h0M456.1 152.2h0M431.0 155.9h0M734.3 253.1h0M115.6 457.2h0M785.7 268.6h0M431.4 154.7h0M670.7 267.9h0M439.9 154.3h0M674.2 280.9h0M177.4 456.7h0M400.6 337.3h0M635.4 270.4h0M789.7 282.7h0M460.2 137.2h0M161.0 460.8h0M620.0 281.2h0M552.4 264.4h0M212.4 452.0h0M253.2 445.1h0M452.6 146.3h0M223.6 428.8h0M735.3 268.7h0M785.9 240.3h0M623.4 298.4h0M685.8 248.9h0M336.2 450.7h0M183.0 440.1h0M607.4 282.6h0M651.7 263.3h0M584.1 296.2h0M231.0 469.9h0M128.5 466.9h0M488.5 227.6h0M212.5 448.1h0M311.3 444.3h0M435.2 155.3h0M281.4 452.9h0M746.4 262.5h0M329.5 449.7h0M492.8 252.7h0M773.8 256.0h0M567.8 302.6h0M373.4 464.8h0M623.8 276.5h0M242.3 461.6h0M181.2 444.0h0M136.7 448.5h0M565.7 289.1h0M559.0 299.0h0M567.8 301.8h0M569.5 286.9h0M507.7 281.6h0M752.5 258.9h0M423.9 171.8h0M194.4 456.5h0M280.8 470.8h0M388.8 426.7h0M527.8 327.0h0M354.2 458.8h0M407.4 295.8h0M310.5 451.2h0M606.5 273.5h0M686.6 272.9h0M341.3 439.1h0M656.1 244.3h0M244.7 459.7h0M775.1 242.1h0M353.2 470.3h0M561.3 298.4h0M520.9 320.7h0M166.3 456.7h0M509.8 275.2h0M142.1 448.5h0M441.4 161.7h0M476.6 177.2h0M759.5 291.3h0M234.5 460.2h0M143.4 449.7h0M537.8 320.6h0M321.7 449.3h0M485.5 216.6h0M284.5 461.7h0M581.1 287.8h0M196.1 449.8h0M459.4 140.3h0M636.4 268.2h0M718.7 254.9h0M333.9 432.9h0M484.5 197.6h0M760.2 274.5h0M204.7 454.7h0M676.4 251.4h0M610.0 265.3h0M769.0 291.5h0M443.4 136.1h0M420.7 212.0h0M482.2 205.8h0M356.6 435.6h0M150.1 451.9h0M498.0 240.7h0M376.1 458.5h0M454.9 179.5h0M587.3 266.3h0M378.8 448.6h0M220.8 450.2h0M676.8 260.0h0M754.2 267.8h0M270.4 455.7h0M526.8 301.5h0M367.6 443.7h0M588.9 285.7h0M147.6 450.3h0M737.2 273.0h0M693.1 245.9h0M204.9 446.6h0M547.4 283.3h0M335.7 446.3h0M253.5 454.4h0M688.2 266.3h0M623.8 268.8h0M503.9 272.0h0M533.4 307.5h0M703.4 240.8h0M343.1 447.4h0M446.5 160.4h0M266.7 460.7h0M419.3 223.8h0M226.9 437.6h0M346.0 446.4h0M548.9 280.5h0M299.0 453.6h0M555.5 261.9h0M653.9 275.2h0M539.6 299.3h0M430.3 155.3h0M376.7 442.2h0M159.6 451.2h0M632.8 270.8h0M761.8 230.0h0M274.8 455.3h0M585.1 272.4h0M521.3 305.4h0M664.5 250.9h0M576.0 302.0h0M244.0 449.9h0M202.3 454.4h0M340.0 461.1h0M237.2 449.8h0M521.1 298.6h0M170.2 448.8h0M570.8 276.5h0M645.8 236.6h0M138.5 448.8h0M715.3 233.2h0M669.7 241.8h0M139.4 456.5h0M483.7 208.2h0M129.2 454.5h0M435.5 152.6h0M165.6 445.9h0M503.0 260.7h0M162.9 454.5h0M171.1 436.2h0M772.3 265.1h0M661.7 261.7h0M569.0 278.7h0M647.2 273.7h0M256.1 455.1h0M180.9 466.7h0M329.9 460.1h0M629.2 267.0h0M625.4 263.0h0M599.6 275.1h0M394.6 390.3h0M457.2 151.2h0M614.9 250.9h0M510.9 295.6h0M261.2 465.5h0M430.9 160.5h0M747.8 264.3h0M765.7 301.6h0M163.1 449.7h0M191.9 469.8h0M149.9 443.1h0M454.9 140.4h0M722.8 266.6h0M461.4 124.9h0M337.1 458.4h0M711.1 241.0h0M274.9 456.8h0M485.0 204.6h0M714.1 244.0h0M704.6 262.5h0M200.4 464.3h0M318.3 448.4h0M388.4 433.3h0M637.1 249.3h0M578.6 295.7h0M476.3 143.2h0M367.3 458.3h0M305.9 446.7h0M507.5 251.7h0M658.4 271.2h0M349.8 445.0h0M304.1 442.7h0M117.0 439.2h0M185.6 446.2h0M199.8 458.6h0M405.0 304.9h0M639.3 269.7h0M386.1 433.7h0M209.9 456.9h0M224.8 433.5h0M760.1 253.3h0M533.2 265.4h0M312.5 444.0h0M686.1 251.1h0M756.4 256.3h0M483.1 204.5h0M419.2 239.2h0M373.9 439.5h0M366.1 448.2h0M699.6 208.4h0M595.9 316.3h0M731.9 277.9h0M132.9 454.8h0M200.1 467.4h0M468.1 164.4h0M510.6 271.5h0M403.7 320.9h0M463.2 161.7h0M724.9 264.7h0M494.1 251.3h0M289.0 453.9h0M451.1 175.9h0M313.3 449.0h0M540.2 304.4h0M510.8 260.9h0M593.1 297.1h0M774.5 263.8h0M450.3 138.8h0M135.9 460.7h0M447.8 150.5h0M456.7 155.1h0M649.5 270.6h0M742.9 239.6h0M220.2 449.2h0M714.4 265.8h0M228.0 437.8h0M512.8 270.4h0M113.5 446.5h0M686.5 272.3h0M391.4 418.6h0M258.1 461.1h0M755.5 278.2h0M168.8 438.4h0M350.3 465.1h0M428.2 167.9h0M290.4 454.2h0M354.2 465.3h0M685.8 269.0h0M244.4 443.1h0M490.0 226.0h0M255.1 451.1h0M532.6 311.0h0M281.1 456.1h0M325.4 446.7h0M469.5 168.2h0M282.0 445.5h0M607.8 288.9h0M263.4 458.3h0M681.3 271.7h0M588.2 246.4h0M198.4 449.2h0M465.0 144.7h0M155.4 460.1h0M227.7 436.4h0M323.7 439.3h0M593.0 282.5h0M531.9 312.8h0M473.1 158.2h0M234.7 451.3h0M313.1 432.8h0M578.5 320.0h0M444.8 148.6h0M330.3 451.2h0M157.4 469.3h0M141.7 442.8h0M740.6 231.8h0M394.0 394.6h0M719.0 274.5h0M275.8 459.2h0M512.8 274.2h0M284.5 459.1h0M712.0 240.4h0M262.9 468.7h0M482.5 204.4h0M769.3 267.8h0M608.1 292.0h0M488.4 206.6h0M358.7 440.9h0M471.7 166.7h0M113.0 458.7h0M199.4 458.7h0M300.6 450.0h0M142.2 452.7h0M272.8 451.4h0M397.4 361.1h0M695.5 229.4h0M737.0 223.9h0M124.4 458.7h0M423.9 185.8h0M576.4 300.5h0M623.3 281.1h0M218.9 439.6h0M115.2 467.2h0M280.4 462.8h0M324.6 457.9h0M237.9 466.3h0M260.6 455.4h0M561.7 281.9h0M261.5 461.2h0M239.1 461.8h0M295.0 460.7h0M420.8 192.2h0M245.4 466.9h0M448.3 145.0h0M749.2 261.1h0M670.7 244.4h0M622.7 255.7h0M753.0 262.6h0M738.8 223.9h0M487.4 222.9h0M582.0 280.7h0M350.8 454.9h0M477.4 180.1h0M738.1 245.4h0M456.4 162.9h0M397.6 385.7h0M559.1 300.5h0M427.4 150.6h0M175.1 450.2h0M368.7 448.0h0M202.9 464.0h0M734.0 257.5h0M615.5 311.3h0M409.9 287.7h0M158.6 451.6h0M187.4 450.3h0M289.2 449.4h0M467.8 152.8h0M182.7 453.2h0M357.8 455.9h0M233.8 452.0h0M181.3 448.5h0M192.6 455.9h0M192.5 451.5h0M677.3 251.6h0M233.1 442.6h0M186.3 457.0h0M676.8 280.9h0M765.6 258.9h0M611.0 277.2h0M160.1 451.4h0M202.5 455.3h0M209.5 477.8h0M177.0 450.7h0M438.0 151.5h0M148.4 430.3h0M652.4 265.9h0M390.4 437.3h0M243.5 453.5h0M173.7 459.4h0M498.4 253.5h0M640.9 262.7h0M507.7 273.2h0M272.3 454.7h0M657.8 236.5h0M461.1 136.3h0M509.4 251.3h0M729.3 267.4h0M570.8 294.3h0M189.8 453.4h0M583.9 278.5h0M308.3 454.8h0M649.0 248.5h0M493.8 273.7h0M479.0 197.2h0M206.7 448.1h0M128.8 451.0h0M775.0 270.0h0M131.0 462.4h0M145.6 439.5h0M423.0 189.7h0M749.5 295.6h0M479.5 196.9h0M786.9 268.5h0M598.5 318.8h0M669.9 273.6h0M669.0 257.2h0M753.3 227.2h0M771.0 275.5h0M333.7 440.5h0M593.3 296.9h0M457.0 124.3h0M777.7 249.9h0M513.5 287.3h0M383.1 434.1h0M133.3 446.1h0M607.4 270.7h0M118.9 455.5h0M552.5 268.7h0M291.0 452.8h0M571.0 319.2h0M786.6 277.2h0M347.9 468.5h0M490.2 233.8h0M489.7 219.3h0M221.4 449.1h0M613.5 288.4h0M589.7 290.1h0M636.3 290.3h0M260.9 453.9h0M156.5 444.4h0M378.8 435.7h0M190.2 450.8h0M299.0 458.9h0M121.9 454.8h0M384.6 449.3h0M356.2 455.7h0M332.8 458.3h0M373.2 442.6h0M137.7 453.7h0M406.9 302.9h0M556.1 307.5h0M331.4 462.0h0M496.7 252.0h0M657.3 237.4h0M468.4 147.0h0M742.3 274.3h0M635.9 248.8h0M490.4 211.0h0M167.4 436.6h0M429.9 149.0h0M133.8 456.7h0M762.0 250.1h0M141.8 442.2h0M252.2 466.5h0M235.0 458.7h0M697.6 257.5h0M729.2 241.5h0M605.4 257.7h0M692.3 253.6h0M287.9 473.1h0M720.9 241.8h0M179.3 447.9h0M321.3 422.1h0M696.2 272.9h0M581.4 286.8h0M746.8 221.4h0M689.0 252.3h0M254.2 452.4h0M395.6 391.9h0M784.6 290.8h0M589.7 272.2h0M651.7 265.1h0M166.8 444.4h0M760.7 251.9h0M485.6 211.5h0M215.0 462.5h0M501.5 272.6h0M734.5 249.2h0M481.6 199.1h0M787.5 257.1h0M742.8 265.4h0M449.3 143.0h0M769.8 263.6h0M633.5 294.4h0M284.0 459.7h0M177.5 458.0h0M128.9 452.6h0M465.9 151.6h0M625.1 256.9h0M199.5 481.5h0M248.0 465.7h0M774.4 279.7h0M660.6 281.1h0M330.7 441.4h0M753.1 243.5h0M435.8 156.3h0M283.5 445.3h0M345.6 444.1h0M295.9 457.5h0M584.3 252.5h0M365.2 442.8h0M504.3 269.1h0M533.3 304.4h0M454.3 147.1h0M419.0 217.6h0M350.5 460.3h0M269.6 441.1h0M174.6 452.6h0M587.1 260.9h0M121.2 448.2h0M610.4 279.1h0M624.5 297.1h0M659.9 245.9h0M547.8 267.0h0M759.7 279.4h0M371.1 449.1h0M423.2 193.6h0M307.4 451.4h0M117.3 462.9h0M408.9 287.3h0M450.6 124.0h0M426.6 170.1h0M135.1 450.2h0M219.4 437.2h0M296.6 441.2h0M389.5 437.6h0M250.3 458.3h0M358.6 443.9h0M306.2 451.5h0M184.2 453.2h0M707.8 219.0h0M524.8 304.3h0M780.9 233.8h0M521.7 293.5h0M529.8 314.1h0M358.4 441.2h0M659.2 240.3h0M425.7 180.7h0M671.7 250.7h0M428.9 162.8h0M614.3 271.3h0M562.1 289.2h0M380.8 450.7h0M172.4 444.9h0M269.0 454.6h0M410.7 271.0h0M434.1 172.5h0M256.9 466.1h0M288.4 457.4h0M331.3 460.6h0M483.8 208.5h0M171.3 439.3h0M387.8 450.4h0M575.3 340.2h0M680.6 272.9h0M462.2 128.3h0M758.1 287.2h0M611.8 288.7h0M648.9 261.1h0M202.4 439.1h0M455.0 146.3h0M134.5 447.7h0M566.2 290.0h0M332.0 446.5h0M710.2 257.4h0M199.5 453.7h0M161.1 450.6h0M380.0 431.8h0M218.2 439.2h0M485.3 204.3h0M406.0 291.5h0M126.2 454.0h0M276.3 460.4h0M214.6 451.3h0M232.1 446.6h0M783.0 266.0h0M506.0 253.8h0M641.3 257.5h0M373.1 462.7h0M233.6 446.7h0M339.2 463.4h0M584.8 293.1h0M391.8 418.5h0M117.2 455.2h0M489.1 242.1h0M459.2 143.8h0M574.9 276.8h0M129.3 456.8h0M716.3 256.0h0M425.2 189.3h0M356.5 439.0h0M307.4 450.1h0M689.8 252.8h0M291.0 452.9h0M314.9 442.7h0M717.6 252.8h0M430.7 161.6h0M143.2 446.6h0M193.3 472.9h0M624.3 270.9h0M332.4 440.3h0M317.9 438.9h0M311.6 440.2h0M773.6 232.5h0M441.6 167.5h0M721.2 279.9h0M652.1 251.6h0M647.5 278.5h0M640.2 251.7h0M318.9 440.9h0" stroke="#cde2cd" stroke-width="7.8" stroke-linecap="round" fill="none"/>
<path d="M288.7 456.4h0M313.8 473.1h0M665.5 400.9h0M173.0 464.1h0M519.5 444.5h0M607.1 407.3h0M238.4 461.6h0M147.9 455.3h0M297.8 451.3h0M558.6 442.2h0M493.7 408.9h0M212.6 454.8h0M405.3 366.8h0M566.7 405.3h0M398.6 401.8h0M542.1 427.2h0M770.0 406.5h0M576.1 410.2h0M377.3 458.1h0M238.0 456.7h0M346.2 464.7h0M458.8 365.7h0M718.0 390.9h0M639.2 378.0h0M327.2 463.9h0M740.5 391.4h0M431.4 354.5h0M583.4 403.0h0M183.4 443.1h0M181.6 445.5h0M248.0 462.2h0M713.4 382.3h0M573.9 392.8h0M689.4 390.0h0M549.7 418.2h0M387.5 449.0h0M462.6 403.4h0M515.0 426.4h0M698.2 382.5h0M409.1 358.6h0M718.7 396.1h0M528.8 420.8h0M675.8 388.1h0M449.9 389.5h0M582.5 408.7h0M341.5 452.6h0M466.8 402.0h0M257.7 461.1h0M179.0 459.2h0M136.6 467.4h0M589.0 422.6h0M421.5 357.3h0M722.5 402.4h0M679.8 370.3h0M372.9 457.9h0M774.3 406.0h0M514.0 452.7h0M632.6 405.9h0M388.0 436.3h0M244.1 449.0h0M227.4 461.7h0M233.9 436.5h0M522.0 420.0h0M187.1 456.2h0M123.9 460.2h0M678.3 388.2h0M178.1 463.8h0M417.6 354.0h0M443.4 369.8h0M533.3 426.4h0M454.0 366.7h0M749.5 400.9h0M622.0 390.6h0M502.0 429.9h0M531.2 400.0h0M455.7 382.2h0M768.2 393.9h0M264.8 452.1h0M580.1 418.1h0M488.8 421.5h0M138.9 463.3h0M312.2 468.7h0M742.5 411.0h0M645.3 394.2h0M119.0 457.6h0M312.6 458.4h0M117.0 443.5h0M674.5 381.5h0M185.6 463.4h0M149.5 462.3h0M779.8 400.1h0M414.3 359.4h0M327.4 468.0h0M143.7 454.2h0M376.0 466.0h0M359.9 449.9h0M467.3 418.7h0M114.9 460.1h0M211.2 456.1h0M253.4 457.6h0M410.7 367.5h0M316.4 439.3h0M528.5 434.9h0M304.9 467.4h0M730.6 403.4h0M766.2 414.1h0M150.8 445.8h0M252.9 454.3h0M494.2 431.8h0M635.8 384.1h0M154.0 466.0h0M236.3 458.2h0M421.7 350.7h0M566.3 433.7h0M726.3 407.6h0M701.5 384.2h0M651.6 389.5h0M146.3 458.9h0M776.3 409.3h0M529.4 415.7h0M169.0 466.3h0M284.1 463.0h0M533.6 428.3h0M373.3 456.1h0M414.8 361.5h0M658.9 380.5h0M672.2 378.8h0M483.2 425.7h0M650.7 374.7h0M387.2 440.3h0M774.8 390.5h0M523.0 427.2h0M770.2 413.0h0M140.3 457.3h0M712.2 395.4h0M491.7 424.1h0M596.9 406.2h0M241.6 441.2h0M484.5 443.3h0M307.6 451.6h0M182.2 440.7h0M112.5 457.5h0M728.7 401.3h0M567.8 418.2h0M250.1 441.8h0M286.1 445.8h0M427.8 375.4h0M668.3 384.2h0M190.5 447.6h0M770.2 423.2h0M754.0 393.9h0M277.1 449.6h0M547.2 430.5h0M355.9 460.0h0M585.8 433.8h0M169.6 442.1h0M430.8 362.9h0M511.6 411.2h0M537.5 432.6h0M582.7 409.0h0M718.1 390.7h0M274.8 451.2h0M214.8 461.7h0M376.7 465.7h0M498.2 427.7h0M765.3 397.3h0M594.8 406.1h0M613.8 409.2h0M773.6 391.2h0M292.9 483.0h0M287.2 455.5h0M398.4 422.7h0M311.7 459.3h0M554.3 406.9h0M759.3 381.6h0M215.0 450.9h0M463.5 392.4h0M572.3 419.2h0M446.6 358.6h0M733.4 427.3h0M612.8 429.1h0M711.9 372.9h0M186.5 457.1h0M243.8 464.0h0M155.1 453.0h0M675.8 383.1h0M766.8 413.3h0M119.8 459.0h0M648.5 367.1h0M606.6 421.5h0M729.6 392.3h0M294.7 473.2h0M597.7 399.3h0M272.2 437.8h0M162.1 456.7h0M618.5 414.2h0M139.1 459.6h0M587.4 416.5h0M303.6 449.5h0M442.7 378.0h0M718.2 373.6h0M276.3 464.0h0M429.7 345.5h0M352.4 451.9h0M240.1 442.4h0M433.3 350.7h0M234.2 466.4h0M655.1 368.1h0M529.5 431.1h0M303.4 450.3h0M773.9 415.6h0M345.7 445.7h0M568.0 423.6h0M610.3 415.4h0M291.2 476.4h0M118.3 443.8h0M719.0 385.1h0M762.5 399.1h0M226.4 466.5h0M215.0 445.3h0M405.3 379.8h0M517.8 422.5h0M784.7 393.7h0M767.3 380.3h0M783.9 407.6h0M277.8 465.4h0M518.7 428.2h0M407.5 344.9h0M268.1 452.1h0M154.9 463.6h0M225.4 461.2h0M354.7 458.8h0M170.3 467.3h0M213.1 443.0h0M140.7 444.2h0M535.1 454.3h0M446.3 377.8h0M276.4 455.1h0M469.2 407.4h0M399.7 371.2h0M559.8 432.0h0M746.3 374.3h0M351.2 439.7h0M550.2 421.9h0M259.6 468.7h0M751.2 394.6h0M531.5 432.4h0M218.5 450.1h0M285.6 460.3h0M218.8 439.4h0M232.5 471.6h0M319.5 449.7h0M671.6 391.7h0M422.0 332.9h0M299.3 472.2h0M396.1 425.3h0M292.6 474.2h0M610.6 396.0h0M150.4 464.2h0M307.5 455.6h0M330.7 457.9h0M234.1 464.7h0M613.6 391.2h0M233.2 459.9h0M315.2 474.7h0M148.8 470.4h0M625.5 406.8h0M358.4 458.9h0M557.6 410.7h0M258.4 468.1h0M125.2 448.5h0M330.2 468.9h0M641.5 379.6h0M681.4 385.7h0M348.2 457.2h0M687.8 393.4h0M144.6 451.4h0M466.3 409.6h0M285.8 452.6h0M409.7 368.4h0M261.4 458.9h0M719.6 401.2h0M316.4 450.8h0M754.9 403.8h0M184.7 453.2h0M403.4 384.5h0M412.7 359.7h0M594.1 400.2h0M345.6 463.7h0M446.1 362.9h0M158.3 458.0h0M322.4 440.5h0M604.7 413.4h0M182.5 458.7h0M425.7 346.3h0M271.7 462.1h0M223.1 450.7h0M193.0 464.9h0M665.3 392.9h0M578.5 402.9h0M369.1 452.1h0M377.4 435.9h0M607.0 402.2h0M522.1 435.8h0M734.9 409.0h0M737.2 397.9h0M439.1 362.3h0M559.8 424.4h0M481.7 416.7h0M321.9 461.3h0M419.6 368.0h0M602.1 410.9h0M487.2 435.2h0M541.5 417.0h0M442.4 362.1h0M760.1 404.1h0M639.8 409.3h0M199.5 462.4h0M665.4 405.9h0M736.0 400.0h0M667.2 400.4h0M344.3 443.2h0M361.2 460.4h0M276.1 439.3h0M148.3 466.2h0M432.2 365.8h0M690.2 400.7h0M634.6 392.9h0M561.9 417.7h0M688.0 377.4h0M559.7 425.3h0M262.6 469.9h0M658.0 391.4h0M360.9 451.4h0M717.2 389.2h0M332.9 452.7h0M173.0 453.0h0M608.0 405.2h0M183.7 449.1h0M703.7 390.9h0M391.2 424.0h0M642.3 403.0h0M146.1 457.8h0M481.1 440.8h0M571.9 425.9h0M198.6 452.2h0M525.2 431.2h0M207.8 456.6h0M317.6 453.0h0M359.4 453.2h0M532.8 450.4h0M199.0 462.1h0M236.3 449.7h0M643.0 390.1h0M598.5 400.8h0M420.0 371.6h0M302.6 449.0h0M582.3 427.6h0M429.3 359.5h0M322.7 459.4h0M706.7 383.2h0M247.9 452.0h0M658.7 375.1h0M531.6 419.6h0M550.8 428.8h0M575.5 449.9h0M620.5 394.4h0M711.0 406.9h0M738.0 400.1h0M284.5 451.6h0M222.1 466.1h0M721.5 404.9h0M249.3 464.2h0M261.7 458.0h0M659.4 386.3h0M769.1 390.9h0M686.2 383.5h0M462.7 416.9h0M366.4 435.6h0M784.4 412.0h0M612.2 422.1h0M539.3 436.4h0M117.9 462.2h0M243.4 451.9h0M119.5 464.5h0M728.8 412.6h0M271.5 457.5h0M226.9 468.9h0M507.6 424.5h0M248.8 433.2h0M483.0 424.7h0M758.0 399.5h0M699.4 378.4h0M277.5 453.9h0M735.0 393.4h0M382.6 433.1h0M467.0 423.4h0M331.9 459.2h0M792.2 443.6h0M319.7 458.9h0M613.0 408.7h0M533.0 412.1h0M580.1 430.0h0M181.2 444.5h0M476.3 427.4h0M790.2 421.0h0M494.3 436.9h0M244.5 447.0h0M146.1 449.1h0M335.3 465.3h0M618.7 414.3h0M127.2 467.6h0M143.5 455.6h0M558.3 421.9h0M711.6 416.7h0M409.5 358.0h0M536.0 436.8h0M285.7 455.1h0M296.2 445.6h0M434.2 349.8h0M259.7 460.5h0M419.8 358.9h0M211.5 459.0h0M740.4 396.3h0M552.1 417.4h0M174.5 457.2h0M242.0 452.6h0M675.7 366.8h0M364.2 451.9h0M287.7 472.2h0M126.2 448.5h0M570.7 429.7h0M499.2 428.1h0M683.4 395.3h0M226.0 447.0h0M623.3 381.0h0M674.3 391.5h0M672.3 377.5h0M619.2 399.0h0M411.9 357.3h0M142.6 463.9h0M549.6 426.6h0M127.8 456.3h0M168.8 447.3h0M389.3 427.9h0M192.7 446.3h0M418.5 365.6h0M690.6 395.1h0M229.1 459.3h0M654.6 377.9h0M790.5 397.4h0M135.7 465.1h0M398.8 405.2h0M592.8 419.3h0M609.2 394.4h0M301.2 451.7h0M662.0 392.8h0M363.5 461.9h0M247.2 445.5h0M463.4 403.3h0M527.9 416.8h0M681.6 400.9h0M563.1 431.5h0M167.0 475.1h0M502.3 445.7h0M345.0 452.3h0M591.1 416.0h0M141.0 451.5h0M558.6 424.5h0M650.1 391.2h0M137.7 455.3h0M120.8 455.1h0M718.5 380.3h0M720.9 403.7h0M230.7 454.0h0M739.3 407.6h0M387.6 453.4h0M464.2 402.9h0M431.4 367.8h0M338.7 453.2h0M713.3 406.5h0M526.7 429.7h0M746.2 393.3h0M534.5 425.7h0M741.0 383.3h0M461.6 388.0h0M434.1 357.1h0M499.9 429.1h0M114.3 453.4h0M633.8 380.9h0M205.5 452.9h0M754.0 374.8h0M140.5 456.2h0M593.2 419.3h0M634.4 397.6h0M479.6 434.7h0M175.6 452.6h0M663.7 384.2h0M329.3 454.8h0M306.7 453.6h0M582.4 418.1h0M773.0 419.0h0M175.9 439.9h0M407.8 361.5h0M569.5 426.7h0M299.1 449.0h0M741.1 405.1h0M521.3 415.0h0M161.9 452.9h0M215.8 440.4h0M208.0 456.7h0M421.2 347.5h0M731.0 406.1h0M186.9 450.4h0M213.5 446.3h0M254.7 451.5h0M501.1 430.0h0M403.7 377.7h0M395.5 421.4h0M209.1 451.4h0M672.4 385.5h0M437.2 373.0h0M700.6 381.7h0M130.8 458.5h0M422.4 341.6h0M361.5 463.4h0M684.0 390.2h0M582.3 412.3h0M465.5 402.1h0M220.3 439.9h0M575.8 420.6h0M721.3 393.5h0M639.9 368.0h0M769.8 395.1h0M513.5 435.9h0M324.2 460.2h0M261.0 458.7h0M655.4 375.9h0M663.9 395.0h0M543.1 425.3h0M643.6 393.1h0M441.7 391.3h0M691.0 362.6h0M584.0 410.0h0M275.3 457.3h0M510.9 421.5h0M557.7 434.1h0M248.6 451.0h0M748.4 420.0h0M659.6 393.1h0M209.4 458.0h0M260.2 456.2h0M111.8 461.0h0M750.9 406.1h0M229.2 466.5h0M678.9 390.9h0M459.2 399.0h0M149.2 459.2h0M254.5 458.0h0M286.0 444.4h0M631.5 390.4h0M361.0 459.4h0M207.1 444.7h0M755.6 383.9h0M461.2 390.4h0M155.7 458.4h0M773.8 383.5h0M570.8 426.6h0M411.0 371.2h0M209.7 452.5h0M583.1 419.3h0M176.4 458.1h0M750.8 392.6h0M622.8 404.0h0M596.6 416.7h0M635.6 372.7h0M699.3 394.3h0M430.1 368.9h0M663.7 372.5h0M185.4 460.5h0M587.9 411.7h0M622.5 380.9h0M254.4 446.5h0M186.2 445.7h0M735.5 406.0h0M718.2 390.5h0M185.3 449.8h0M512.2 416.1h0M233.6 454.3h0M249.9 443.8h0M743.9 392.4h0M562.3 430.7h0M627.5 401.1h0M302.7 453.1h0M639.3 384.6h0M566.7 430.4h0M346.4 457.7h0M448.7 386.4h0M280.1 468.8h0M515.7 429.1h0M237.8 443.6h0M416.2 355.8h0M693.5 402.9h0M558.9 435.7h0M521.0 443.2h0M186.6 462.5h0M670.6 379.6h0M532.8 431.8h0M757.0 413.4h0M747.0 403.6h0M745.7 410.9h0M474.7 409.0h0M635.2 373.2h0M179.6 470.8h0M140.8 462.0h0M646.5 389.7h0M569.4 440.7h0M756.1 427.1h0M317.9 483.0h0M447.8 346.4h0M646.8 387.0h0M525.6 441.7h0M688.9 363.9h0M379.5 435.6h0M686.6 384.5h0M697.6 410.3h0M726.0 409.2h0M381.7 467.9h0M729.7 402.1h0M321.1 468.1h0M515.3 446.9h0M778.5 411.4h0M549.8 423.5h0M514.3 431.5h0M356.5 431.3h0M460.5 395.5h0M444.8 349.6h0M572.3 412.8h0M478.4 430.2h0M327.4 462.5h0M240.4 437.0h0M783.6 413.1h0M532.6 437.2h0M228.4 456.0h0M340.8 464.0h0M553.6 429.1h0M273.0 443.0h0M720.8 394.2h0M478.9 419.3h0M574.6 406.5h0M562.7 423.2h0M220.6 447.5h0M745.9 399.3h0M687.0 376.0h0M209.8 463.4h0M498.7 453.0h0M470.3 409.0h0M321.4 459.1h0M366.2 455.3h0M287.0 461.2h0M540.8 424.6h0M402.6 360.7h0M178.8 456.7h0M265.2 456.1h0M213.6 445.3h0M539.6 424.5h0M488.2 420.7h0M378.0 453.2h0M483.4 420.9h0M539.1 423.7h0M257.9 456.8h0M148.2 457.7h0M766.4 400.3h0M236.8 463.8h0M275.3 459.4h0M590.5 404.5h0M782.5 427.0h0M194.6 454.3h0M384.7 460.5h0M693.9 373.8h0M168.2 460.2h0M281.0 472.0h0M528.8 443.5h0M675.8 386.8h0M180.3 448.4h0M394.2 423.5h0M514.1 427.7h0M483.3 413.7h0M475.5 412.0h0M787.4 395.8h0M781.4 394.0h0M253.7 456.9h0M284.6 442.3h0M383.1 449.6h0M179.2 459.4h0M210.1 446.4h0M495.6 418.0h0M783.3 406.6h0M310.6 457.4h0M245.6 461.8h0M530.7 406.7h0M313.2 457.4h0M119.6 466.3h0M174.2 455.1h0M708.8 414.8h0M184.4 471.6h0M547.7 417.7h0M395.8 436.8h0M635.0 393.7h0M457.5 383.5h0M267.7 455.0h0M254.3 453.2h0M270.7 449.6h0M269.7 455.9h0M281.3 465.4h0M314.4 468.9h0M518.2 425.7h0M470.2 420.9h0M157.2 459.9h0M397.2 393.2h0M744.5 408.8h0M751.0 385.4h0M328.3 449.1h0M216.4 461.6h0M309.9 472.1h0M200.8 444.5h0M286.6 449.8h0M740.9 388.7h0M708.4 387.0h0M418.7 352.3h0M485.2 416.0h0M588.1 395.2h0M588.5 435.1h0M583.3 410.2h0M612.2 394.5h0M513.3 439.6h0M201.0 450.7h0M578.7 430.6h0M566.5 433.1h0M221.0 462.6h0M243.2 450.3h0M544.4 432.3h0M373.4 439.6h0M663.2 368.4h0M299.3 457.9h0M564.6 420.3h0M529.6 444.2h0M185.7 450.6h0M300.2 442.2h0M351.3 457.7h0M316.2 455.8h0M172.3 456.4h0M270.9 447.4h0M476.6 412.5h0M264.5 457.6h0M543.8 433.8h0M393.3 436.0h0M421.5 364.0h0M251.4 442.1h0M646.6 379.5h0M163.1 457.7h0M754.3 411.8h0M512.2 432.6h0M754.2 397.4h0M484.8 423.8h0M350.1 456.6h0M362.5 443.5h0M744.0 400.7h0M465.5 414.8h0M379.2 456.8h0M216.7 438.6h0M213.8 454.5h0M394.0 416.2h0M418.5 368.1h0M658.7 390.5h0M193.3 459.4h0M420.0 349.1h0M201.0 437.6h0M283.5 448.6h0M446.6 367.4h0M708.3 375.5h0M200.5 445.5h0M229.1 469.1h0M591.9 397.7h0M469.8 420.7h0M170.1 439.4h0M574.7 423.5h0M763.8 410.4h0M613.7 408.4h0M789.8 423.7h0M616.8 422.5h0M334.6 446.9h0M656.1 386.3h0M497.5 434.4h0M172.6 458.5h0M357.4 470.3h0M755.6 403.8h0M556.9 436.5h0M362.5 465.7h0M593.4 414.6h0M576.1 426.3h0M218.3 448.2h0M424.5 360.3h0M659.8 387.0h0M189.6 452.1h0M483.7 420.0h0M191.4 461.7h0M297.8 456.8h0M632.9 417.0h0M354.2 468.5h0M671.1 395.3h0M605.4 401.1h0M543.8 436.3h0M212.8 456.2h0M418.7 358.0h0M709.2 381.3h0M541.7 433.4h0M157.1 458.5h0M452.7 372.7h0M428.7 351.8h0M442.5 365.7h0M393.0 421.9h0M665.1 379.4h0M473.3 434.5h0M695.6 380.0h0M760.5 428.8h0M720.7 381.4h0M635.2 401.4h0M124.9 464.5h0M111.5 464.4h0M227.3 459.6h0M462.9 381.8h0M314.4 468.6h0M200.5 463.6h0M742.3 401.6h0M403.4 356.6h0M245.8 463.5h0M459.1 378.2h0M779.7 403.3h0M603.3 424.0h0M740.8 416.9h0M189.5 456.9h0M615.6 395.8h0M340.5 473.1h0M355.9 467.1h0M421.8 355.0h0M425.9 347.2h0M649.6 385.8h0M312.0 447.0h0M425.0 376.7h0M405.7 376.7h0M534.8 424.7h0M491.2 432.3h0M142.6 441.7h0M692.6 386.4h0M548.5 417.1h0M214.0 441.4h0M448.4 366.4h0M724.2 401.9h0M712.3 378.0h0M385.6 444.8h0M272.8 445.3h0M759.3 403.1h0M611.6 383.4h0M562.6 432.2h0M389.1 448.3h0M700.3 398.9h0M241.8 469.5h0M674.9 388.2h0M656.0 384.7h0M466.4 415.1h0M358.5 452.6h0M578.3 396.4h0M375.1 442.1h0M392.3 424.4h0M294.2 459.2h0M644.4 375.4h0M215.2 451.2h0M447.9 378.8h0M411.7 362.7h0M782.7 430.7h0M185.5 452.7h0M495.9 418.1h0M261.5 467.7h0M758.4 395.5h0M196.0 453.1h0M735.2 411.6h0M550.5 425.4h0M240.4 460.0h0M392.9 428.1h0M298.3 455.1h0M435.9 370.3h0M672.7 379.6h0M438.2 360.7h0M782.1 406.2h0M731.9 418.4h0M257.8 468.8h0M200.8 456.4h0M576.7 420.6h0M355.7 451.3h0M291.3 469.2h0M741.4 405.9h0M504.7 440.3h0M293.4 446.0h0M494.4 437.7h0M485.6 427.9h0M655.3 392.8h0M391.4 448.0h0M454.1 379.8h0M214.1 452.1h0M689.1 395.8h0M737.1 386.3h0M111.8 466.9h0M625.4 399.8h0M773.9 391.5h0M696.1 403.7h0M655.5 395.6h0M257.1 469.7h0M785.9 420.6h0M364.8 460.3h0M695.2 387.8h0M641.1 373.0h0M524.0 439.8h0M768.3 408.9h0M763.1 396.7h0M412.9 366.7h0M432.5 352.2h0M726.1 411.9h0M418.1 359.6h0M702.8 394.6h0M265.0 452.1h0M282.5 466.6h0M374.6 455.1h0M320.9 454.9h0M419.3 361.7h0M261.4 456.0h0M222.1 464.2h0M369.9 442.0h0M231.5 445.3h0M344.4 476.0h0M380.8 446.5h0M752.7 407.6h0M394.6 424.9h0M513.2 433.4h0M740.4 432.9h0M413.2 339.8h0M298.2 463.0h0M497.1 430.2h0M672.7 387.4h0M304.0 451.7h0M613.1 393.2h0M438.5 381.1h0M470.5 422.3h0M549.7 411.0h0M429.3 360.0h0M237.3 443.4h0M268.1 482.7h0M143.3 459.5h0M711.6 374.0h0M554.7 434.1h0M750.6 408.9h0M326.9 462.4h0M491.5 430.3h0M499.3 423.6h0M205.4 453.5h0M489.2 405.4h0M523.2 445.5h0M404.7 395.0h0M348.4 462.5h0M271.4 463.4h0M162.8 445.0h0M518.6 426.3h0M244.3 442.5h0M165.2 445.3h0M780.9 413.5h0M717.4 414.0h0M356.6 456.8h0M431.5 388.3h0M249.9 461.9h0M782.9 380.2h0M315.4 455.5h0M680.1 402.6h0M620.0 401.4h0M121.8 464.1h0M135.7 441.5h0M410.4 376.0h0M131.2 445.5h0M736.5 404.6h0M772.0 428.5h0M528.1 431.3h0M318.9 457.2h0M255.5 462.5h0M203.0 447.7h0M496.9 418.7h0M217.6 463.4h0M260.1 444.3h0M600.9 395.4h0M702.9 412.2h0M542.1 412.7h0M762.3 406.4h0M667.6 399.5h0M405.3 372.2h0M354.3 448.5h0M245.1 461.4h0M657.2 372.9h0M455.0 403.9h0M707.7 420.6h0M446.8 360.7h0M707.0 400.4h0M603.0 400.8h0M498.8 433.4h0M613.5 400.7h0M611.6 393.1h0M142.1 460.3h0M662.0 365.6h0M184.3 456.2h0M478.9 421.3h0M441.9 359.4h0M629.8 402.9h0M259.3 457.0h0M586.2 411.7h0M648.4 380.3h0M345.2 456.2h0M505.7 440.1h0M392.3 433.2h0M625.4 360.1h0M712.1 358.8h0M457.6 372.7h0M118.4 444.0h0M738.0 397.0h0M510.4 415.1h0M233.3 447.4h0M609.9 421.6h0M419.1 342.5h0M229.4 461.7h0M343.1 457.2h0M525.7 444.9h0M338.3 466.3h0M206.1 455.3h0M148.5 465.3h0M373.0 455.4h0M607.7 393.4h0M345.6 462.5h0M390.5 445.0h0M657.9 383.0h0M546.2 428.3h0M780.9 401.6h0M678.9 390.7h0M750.9 397.9h0M457.5 367.5h0M637.7 383.6h0M791.9 430.5h0M118.1 462.0h0M430.4 376.9h0M617.5 401.3h0M267.9 454.6h0M158.4 447.5h0M453.9 381.1h0M154.8 465.2h0M217.9 462.1h0M144.6 462.5h0M608.7 400.6h0M143.8 457.1h0M737.5 391.4h0M490.9 437.2h0M384.2 453.3h0M210.8 449.7h0M378.0 453.0h0M284.0 438.7h0M699.9 397.7h0M457.8 376.1h0M123.4 452.1h0M749.0 408.4h0M783.4 415.6h0M787.1 400.5h0M295.9 471.6h0M451.4 398.9h0M598.3 428.6h0M185.4 464.8h0M402.5 384.0h0M329.6 471.3h0M697.4 377.6h0M128.3 446.0h0M741.1 403.0h0M123.5 457.4h0M740.7 390.6h0M420.5 375.9h0M236.6 442.0h0M323.9 441.8h0M750.3 396.2h0M239.7 468.4h0M665.4 395.1h0M716.7 400.7h0M313.3 459.9h0M508.2 436.4h0M465.1 409.1h0M747.3 402.2h0M237.2 453.4h0M366.1 441.7h0M564.0 435.8h0M207.5 451.3h0M287.9 461.1h0M634.6 394.5h0M550.3 435.6h0M495.2 420.0h0M702.5 400.5h0M275.9 465.1h0M735.2 398.7h0M332.0 458.7h0M735.7 401.9h0M606.3 395.3h0M603.1 403.6h0M525.8 417.9h0M639.9 399.7h0M323.1 452.6h0M610.9 392.3h0M190.3 454.8h0M556.1 429.1h0M773.7 399.6h0M767.4 389.4h0M277.2 461.4h0M724.4 408.0h0M517.0 412.4h0M408.9 374.1h0M371.2 438.8h0M417.9 364.1h0M419.0 352.1h0M758.9 397.7h0M628.9 401.2h0M220.0 467.0h0M642.8 409.1h0M518.8 445.6h0M786.5 416.2h0M305.6 446.5h0M615.9 397.1h0M463.6 402.5h0M263.3 452.3h0M191.8 458.5h0M722.2 394.4h0M121.7 470.1h0M282.8 456.2h0M432.9 347.4h0M308.5 453.7h0M487.6 418.6h0M231.6 460.4h0M640.9 401.6h0M508.1 441.1h0M550.5 435.2h0M775.3 396.7h0M225.5 445.1h0M428.7 350.1h0M217.4 455.1h0M314.4 455.7h0M453.0 381.2h0M628.0 405.5h0M235.2 455.0h0M663.7 406.2h0M606.7 398.1h0M434.5 369.6h0M706.1 392.1h0M400.2 403.8h0M780.2 406.2h0M768.3 394.6h0M395.2 424.7h0M762.3 390.4h0M635.9 374.5h0M471.1 425.7h0M529.1 423.3h0M656.5 398.3h0M764.7 431.1h0M727.8 394.0h0M762.6 411.3h0M384.8 446.6h0M115.7 438.5h0M203.8 453.8h0M370.2 466.8h0M176.1 444.2h0M481.4 422.3h0M191.7 452.0h0M317.9 446.5h0M318.3 461.5h0M731.3 397.3h0M429.1 365.5h0M187.9 453.7h0M625.9 377.5h0M749.4 402.2h0M596.6 419.0h0M113.6 452.1h0M686.2 393.4h0M255.7 460.3h0M669.7 359.9h0M671.1 393.4h0M576.7 395.8h0M162.7 445.0h0M361.8 454.7h0M196.7 445.3h0M642.0 374.2h0M156.8 465.3h0M412.9 348.2h0M617.9 414.2h0M673.1 407.5h0M400.6 404.8h0M167.5 446.0h0M709.5 375.3h0M312.7 458.5h0M446.1 394.0h0M111.9 451.9h0M316.1 453.4h0M752.1 398.5h0M607.9 415.0h0M599.0 424.2h0M496.6 428.1h0M204.2 453.0h0M262.7 461.1h0M759.8 400.4h0M186.0 449.3h0M563.8 403.3h0M364.9 456.0h0M609.1 398.1h0M209.3 452.3h0M182.3 450.6h0M482.0 413.9h0M286.0 461.9h0M647.5 394.5h0M791.3 416.1h0M204.3 448.5h0M280.6 458.7h0M229.2 459.9h0M376.5 450.8h0M270.0 463.2h0M526.2 414.0h0M367.1 452.6h0M465.6 421.6h0M697.4 399.0h0M697.8 385.7h0M231.2 454.9h0M289.0 475.6h0M498.9 440.5h0M432.9 353.0h0M133.0 457.6h0M612.9 397.9h0M649.8 374.5h0M405.4 359.8h0M194.4 459.4h0M586.8 441.1h0M154.6 463.1h0M153.7 444.7h0M501.7 434.8h0M408.1 351.3h0M782.8 409.2h0M281.8 466.4h0M234.1 466.6h0M330.4 459.9h0M705.9 396.1h0M585.2 415.9h0M112.9 452.6h0M198.2 467.1h0M758.5 389.0h0M498.0 411.1h0M394.3 445.1h0M162.3 475.3h0M263.7 443.6h0M122.9 462.7h0M689.1 396.3h0M745.9 395.4h0M475.4 409.9h0M650.8 383.8h0M204.1 451.5h0M300.1 464.5h0M531.0 422.1h0M575.2 434.0h0M521.9 423.3h0M172.7 468.7h0M746.4 411.1h0M280.9 467.2h0M577.2 414.6h0M698.2 385.0h0M200.8 453.3h0M423.0 369.1h0M531.5 421.7h0M785.3 397.8h0M592.6 410.4h0M403.8 381.0h0M585.0 414.9h0M461.4 393.8h0M185.5 442.0h0M259.4 451.1h0M536.5 415.7h0M570.9 435.2h0M409.4 363.5h0M288.0 463.3h0M149.0 444.6h0M620.7 397.7h0M246.6 457.1h0M597.9 398.3h0M752.4 392.7h0M671.3 379.6h0M514.1 431.6h0M147.2 458.1h0M591.1 396.8h0M779.6 409.9h0M318.3 460.4h0M682.1 389.7h0M477.7 412.3h0M643.7 382.4h0M607.0 422.1h0M316.2 468.2h0M438.7 358.4h0M175.5 468.0h0M191.8 449.7h0M305.7 450.0h0M597.7 424.2h0M378.6 453.8h0M699.4 415.7h0M561.5 420.8h0M736.1 401.2h0M649.3 390.6h0M409.9 365.8h0M182.2 449.9h0M444.2 369.4h0M461.3 393.8h0M186.1 452.9h0M212.4 454.3h0M780.1 387.5h0M674.8 396.6h0M355.7 451.6h0M129.5 452.9h0M292.5 450.8h0M486.0 423.4h0M770.0 412.5h0M126.4 465.6h0M600.2 413.7h0M764.0 402.3h0M768.0 394.1h0M516.3 427.0h0M646.1 385.2h0M574.8 418.8h0M123.0 446.3h0M297.4 458.0h0M752.0 387.9h0M178.6 471.5h0M219.6 457.1h0M531.9 422.6h0M720.6 402.3h0M361.5 449.6h0M520.2 427.4h0M777.7 424.1h0M681.3 401.6h0M119.4 444.4h0M571.6 409.6h0M184.3 448.8h0M761.7 427.5h0M600.9 410.3h0M727.5 401.1h0M445.6 364.9h0M150.9 467.1h0M252.2 462.9h0M167.4 441.0h0M625.1 384.7h0M708.7 371.7h0M419.4 344.0h0M681.2 376.4h0M257.8 444.6h0M408.9 358.2h0M397.2 421.8h0M444.6 382.1h0M130.5 456.0h0M226.4 460.5h0M182.7 441.8h0M552.3 439.6h0M436.3 388.7h0M788.6 406.8h0M544.0 432.0h0M249.5 457.3h0M182.3 434.9h0M576.4 431.3h0M671.0 391.5h0M201.3 440.3h0M462.9 394.1h0M763.3 414.3h0M726.5 404.7h0M188.0 441.4h0M446.9 365.3h0M705.4 383.6h0M523.5 431.9h0M124.3 448.7h0M348.9 458.0h0M302.1 456.0h0M341.1 445.5h0M776.7 410.0h0M667.7 388.6h0M790.3 401.2h0M652.0 390.9h0M770.8 428.7h0M394.3 414.1h0M749.0 403.0h0M482.5 433.4h0M663.9 385.6h0M247.6 449.0h0M708.2 419.9h0M381.0 445.5h0M752.4 398.8h0M319.3 453.1h0M379.9 460.7h0M458.2 361.8h0M713.0 384.2h0M609.6 399.9h0M288.3 460.1h0M450.5 378.8h0M690.0 398.5h0M715.5 394.1h0M617.5 391.6h0M334.3 458.1h0M738.9 389.6h0M373.1 448.6h0M607.9 400.5h0M658.8 387.7h0M579.0 427.8h0M146.6 446.3h0M255.5 450.4h0M643.0 383.2h0M555.3 422.6h0M686.9 383.3h0M590.4 420.6h0M578.5 415.7h0M710.8 373.4h0M743.6 416.1h0M305.9 447.0h0M678.6 405.6h0M768.3 403.5h0M191.8 456.0h0M411.6 345.8h0M481.0 426.6h0M493.8 425.7h0M701.9 379.5h0M115.6 458.9h0M155.6 462.3h0M643.8 397.5h0M298.0 447.1h0M425.1 348.2h0M209.4 466.4h0M764.3 406.7h0M446.7 380.3h0M157.5 451.5h0M728.2 402.4h0M512.3 438.8h0M283.4 447.2h0M173.1 449.1h0M130.8 457.3h0M701.4 405.9h0M193.1 449.9h0M260.3 462.3h0M488.6 417.6h0M155.6 446.0h0M602.6 416.5h0M550.7 411.9h0M553.0 423.4h0M353.8 452.6h0M304.0 462.1h0M636.3 372.2h0M779.0 389.4h0M516.5 414.8h0M733.1 396.9h0M218.0 465.4h0M630.3 401.1h0M270.3 459.2h0M300.1 456.4h0M131.3 465.4h0M749.9 399.3h0M213.4 463.4h0M265.9 468.9h0M346.6 463.5h0M403.6 382.2h0M665.3 390.1h0M165.7 455.2h0M160.0 458.4h0M260.6 449.3h0M710.2 384.3h0M674.4 404.4h0M722.8 395.7h0M456.9 364.5h0M114.2 465.5h0M524.5 445.0h0M301.2 461.3h0M200.5 443.7h0M315.0 474.6h0M604.8 420.6h0M511.6 443.2h0M613.8 400.1h0M535.9 432.5h0M511.1 426.8h0M486.9 423.4h0M638.0 372.1h0M576.3 410.6h0M566.3 418.5h0M344.3 458.2h0M257.0 464.0h0M640.5 391.2h0M543.0 405.9h0M629.4 404.0h0M326.7 446.3h0M122.1 458.7h0M643.0 381.2h0M226.3 454.8h0M622.9 390.7h0M146.8 446.8h0M175.7 467.8h0M190.2 432.6h0M207.8 447.0h0M664.1 400.7h0M127.0 454.7h0M318.9 458.7h0M484.4 415.6h0M475.5 408.0h0M573.1 428.2h0M476.7 419.2h0M203.0 456.9h0M163.9 462.2h0M640.4 364.2h0M305.2 448.7h0M212.4 448.8h0M306.6 459.4h0M195.4 459.2h0M631.7 377.6h0M255.2 453.4h0M508.5 428.1h0M391.9 435.5h0M504.4 446.0h0M743.3 391.3h0M442.9 369.8h0M202.8 434.5h0M580.2 416.0h0M319.3 459.5h0M289.6 463.2h0M669.9 379.3h0M269.1 452.6h0M310.9 447.6h0M407.7 361.4h0M638.7 413.5h0M637.4 365.5h0M377.2 437.1h0M115.8 454.9h0M113.4 445.9h0M188.1 463.4h0M789.6 390.9h0M410.8 378.2h0M450.1 369.5h0M587.0 395.4h0M445.6 346.0h0M220.8 446.6h0M595.3 404.0h0M232.7 456.9h0M342.4 446.9h0M126.4 480.4h0M544.8 434.4h0M659.5 381.8h0M338.0 453.5h0M146.7 478.3h0M347.9 451.0h0M223.2 460.6h0M255.3 467.8h0M562.1 412.8h0M534.5 434.6h0M523.8 424.6h0M398.1 422.1h0M517.5 446.0h0M425.4 362.9h0M369.8 455.4h0M167.1 445.3h0M703.7 420.1h0M364.9 468.1h0M684.2 395.0h0M714.8 413.5h0M383.8 448.0h0M557.6 409.9h0M465.8 417.1h0M658.9 372.6h0M783.5 400.4h0M112.2 460.5h0M701.3 370.5h0M270.2 457.8h0M253.3 452.5h0M590.9 400.0h0M273.2 447.2h0M448.6 370.9h0M200.6 451.6h0M119.6 455.9h0M438.8 348.8h0M217.9 455.2h0M730.3 383.4h0M129.2 448.1h0M189.0 461.4h0M746.7 392.3h0M282.6 453.3h0M531.6 419.9h0M134.9 455.2h0M583.2 426.2h0M461.4 390.7h0M668.1 393.6h0M585.9 400.1h0M562.9 429.2h0M437.4 363.1h0M499.7 429.6h0M635.8 376.1h0M360.1 451.0h0M565.7 427.8h0M199.5 443.9h0M699.8 397.7h0M527.2 425.0h0M213.6 458.4h0M264.4 447.7h0M337.6 444.6h0M160.8 461.4h0M441.8 375.0h0M466.1 407.1h0M487.2 433.3h0M386.0 445.7h0M244.5 459.5h0M615.2 403.9h0M410.0 353.2h0M114.7 463.6h0M622.0 385.7h0M138.0 474.6h0M527.4 428.2h0M479.6 412.8h0M735.1 396.9h0M729.0 399.1h0M351.6 458.5h0M503.4 435.4h0M196.5 448.6h0M471.9 394.8h0M314.3 451.1h0M392.9 438.0h0M368.0 464.1h0M731.3 375.0h0M500.3 430.2h0M684.0 399.9h0M409.2 350.1h0M342.8 472.7h0M761.6 391.4h0M327.8 458.2h0M143.2 451.5h0M261.6 472.2h0M613.6 414.2h0M406.8 369.9h0M641.7 380.1h0M578.3 399.0h0M724.9 394.2h0M217.2 449.5h0M712.1 393.5h0M239.7 437.8h0M405.2 385.4h0M748.9 411.6h0M335.8 472.3h0M503.7 423.0h0M354.3 456.9h0M186.2 442.8h0M458.8 396.7h0M151.9 454.1h0M143.2 470.0h0M411.9 368.2h0M333.7 465.4h0M671.5 392.6h0M435.4 346.7h0M342.0 464.5h0M285.1 444.0h0M717.1 399.9h0M648.5 389.3h0M497.3 416.1h0M199.0 448.7h0M480.2 421.6h0M151.3 458.3h0M193.6 456.1h0M368.1 454.9h0M154.0 448.6h0M153.6 458.5h0M480.0 450.9h0M654.6 375.9h0M271.4 471.3h0M680.7 372.0h0M208.2 449.2h0M400.0 408.0h0M357.2 464.1h0M638.1 405.4h0M487.7 433.1h0M493.6 421.3h0M163.6 456.7h0M232.4 450.4h0M287.2 466.5h0M584.5 423.3h0M697.0 402.4h0M736.7 391.6h0M684.4 383.4h0M668.9 380.6h0M678.7 381.7h0M549.4 421.9h0M146.0 466.6h0M184.5 454.5h0M152.5 466.0h0M589.2 416.8h0M579.6 397.0h0M214.2 442.8h0M295.5 456.0h0M206.4 464.5h0M684.5 386.5h0M638.1 368.1h0M579.4 419.4h0M521.5 427.5h0M447.3 378.6h0M412.9 368.0h0M200.8 456.5h0M454.0 371.7h0M499.8 417.5h0M545.7 420.9h0M166.3 455.2h0M735.1 403.9h0M580.1 412.4h0M561.2 416.2h0M279.4 461.7h0M448.2 381.9h0M536.1 431.0h0M244.6 445.2h0M559.7 419.6h0M510.0 453.6h0M638.5 372.8h0M477.4 417.8h0M576.1 430.4h0M756.4 388.9h0M553.4 419.1h0M112.9 465.1h0M154.4 464.3h0M376.4 436.7h0M408.8 370.9h0M525.5 426.6h0M394.0 417.2h0M396.7 428.7h0M154.2 451.5h0M674.1 385.4h0M452.5 367.7h0M747.3 410.0h0M728.5 409.1h0M765.2 410.1h0M551.7 450.5h0M149.0 461.2h0M386.4 442.9h0M454.2 385.4h0M272.8 460.9h0M134.8 462.0h0M611.6 376.8h0M639.9 396.3h0M233.3 472.1h0M117.5 462.8h0M603.0 402.7h0M570.2 449.8h0M203.5 462.2h0M231.7 473.1h0M266.7 467.5h0M551.8 421.9h0M697.1 370.3h0M672.1 389.8h0M233.6 460.7h0M332.3 457.5h0M471.7 405.5h0M535.8 440.1h0M270.3 453.3h0M348.4 471.8h0M519.8 426.9h0M544.9 432.4h0M619.4 398.4h0M481.0 430.9h0M127.1 461.7h0M265.3 441.6h0M483.5 420.0h0M316.3 455.8h0M780.7 402.0h0M281.7 458.9h0M700.7 405.4h0M249.8 447.7h0M634.5 397.4h0M586.6 413.3h0M788.3 402.7h0M565.3 409.6h0M741.8 393.7h0M709.5 383.4h0M356.5 462.4h0M484.1 443.9h0M179.3 460.1h0M252.7 462.8h0M711.8 387.3h0M249.2 461.8h0M333.8 453.2h0M240.4 447.8h0M665.4 390.8h0M214.9 450.7h0M519.0 439.1h0M222.5 457.2h0M686.3 385.4h0M211.4 451.3h0M524.9 434.3h0M763.4 405.8h0M570.9 426.1h0M497.1 442.9h0M614.8 397.7h0M396.4 409.4h0M184.1 443.7h0M600.9 400.2h0M707.6 384.5h0M280.7 457.9h0M426.2 377.4h0M678.5 376.2h0M293.2 452.0h0M330.0 456.0h0M338.6 451.5h0M210.5 449.7h0M726.3 408.3h0M550.1 439.9h0M565.8 418.3h0M631.4 391.7h0M699.4 401.3h0M464.1 407.5h0M770.0 400.8h0M113.7 458.7h0M274.2 458.2h0M232.5 450.0h0M515.0 437.5h0M621.3 392.3h0M681.0 382.4h0M780.9 411.8h0M742.6 388.8h0M429.9 368.8h0M450.7 369.3h0M468.2 403.2h0M111.2 460.0h0M429.5 368.0h0M593.7 425.6h0M150.1 468.3h0M305.3 450.7h0M207.6 453.8h0M177.1 446.4h0M334.6 453.7h0M412.2 370.3h0M191.2 457.1h0M554.1 427.2h0M559.2 429.2h0M789.2 405.7h0M595.4 428.1h0M124.0 447.6h0M200.0 460.7h0M737.2 394.5h0M215.4 448.1h0M253.2 472.8h0M425.5 354.4h0M656.2 392.7h0M430.5 352.5h0M125.5 449.7h0M358.7 467.4h0M763.9 406.6h0M265.5 458.9h0M578.5 424.9h0M314.7 464.4h0M145.4 463.7h0M349.7 462.5h0M439.6 374.5h0M698.4 392.7h0M233.8 456.1h0M708.6 408.0h0M201.8 436.9h0M328.3 466.7h0M403.8 379.0h0M764.4 403.7h0M366.0 453.7h0M338.2 453.3h0M134.7 461.0h0M271.2 448.3h0M545.5 415.0h0M603.2 397.9h0M402.1 400.5h0M747.5 401.1h0M133.3 455.5h0M546.1 409.8h0M369.7 455.1h0M458.4 395.3h0M332.5 450.1h0M202.8 455.1h0M213.0 456.5h0M174.9 459.8h0M497.2 439.3h0M781.0 429.5h0M201.1 454.2h0M707.7 393.7h0M564.4 417.1h0M303.9 465.6h0M212.2 454.4h0M237.7 457.9h0M772.9 411.2h0M507.5 428.0h0M785.6 405.2h0M286.5 458.9h0M201.2 455.3h0M483.7 425.4h0M169.3 454.2h0M430.1 359.0h0M462.2 409.7h0M758.8 393.4h0M589.8 415.2h0M115.1 454.4h0M136.4 464.2h0M114.6 450.0h0M483.6 422.3h0M502.4 423.8h0M492.8 436.5h0M711.0 402.1h0M252.9 458.6h0M472.3 419.5h0M700.7 415.3h0M587.2 418.7h0M361.3 440.3h0M153.8 444.1h0M166.9 444.4h0M766.0 395.5h0M201.9 441.8h0M136.2 455.4h0M647.8 365.4h0M490.4 426.6h0M416.5 350.9h0M556.4 428.1h0M273.8 458.5h0M366.3 446.9h0M300.0 472.3h0M218.1 445.2h0M577.8 412.6h0M369.4 442.6h0M376.7 459.9h0M504.3 439.3h0M554.3 421.4h0M641.1 355.8h0M581.7 425.8h0M307.7 472.5h0M163.7 448.6h0M522.8 435.2h0M245.4 461.3h0M382.3 449.2h0M706.5 378.8h0M148.3 454.0h0M360.1 450.8h0M254.4 459.7h0M446.7 352.6h0M467.2 415.5h0M283.5 458.0h0M750.7 382.0h0M495.7 417.4h0M198.2 458.2h0M648.1 396.8h0M565.0 433.7h0M373.1 477.2h0M633.7 390.7h0M627.5 379.0h0M341.7 458.2h0M730.0 389.8h0M551.8 396.0h0M149.3 464.4h0M235.8 445.7h0M123.0 446.8h0M545.9 444.7h0M188.3 447.6h0M425.5 347.7h0M446.8 380.4h0M149.6 471.0h0M786.8 385.4h0M750.8 387.3h0M787.1 400.3h0M349.4 463.9h0M305.4 459.6h0M205.0 463.7h0M790.8 392.4h0M638.6 384.0h0M200.7 466.1h0M113.5 438.6h0M672.8 398.3h0M293.5 450.3h0M360.3 458.4h0M640.9 371.8h0M656.2 390.4h0M472.8 426.5h0M696.8 385.2h0M427.7 375.8h0M400.1 385.1h0M531.3 439.7h0M468.1 399.0h0M292.2 465.4h0M616.8 410.7h0M571.1 414.5h0M218.8 467.6h0M497.1 427.9h0M463.4 384.9h0M487.3 422.5h0M490.5 436.9h0M579.7 418.2h0M414.6 367.5h0M465.0 420.2h0M721.2 406.6h0M148.0 460.3h0M617.6 402.9h0M148.8 459.8h0M123.7 467.0h0M705.6 385.1h0M189.2 451.6h0M158.7 462.7h0M665.7 373.9h0M334.5 467.1h0M415.4 358.1h0M511.2 435.3h0M452.5 370.6h0M606.3 404.8h0M403.9 388.9h0M646.0 369.7h0M333.7 467.4h0M192.6 462.9h0M636.2 388.3h0M755.2 377.5h0M686.6 373.5h0M163.8 459.4h0M427.9 370.0h0M548.8 408.3h0M507.8 433.7h0M671.4 388.8h0M784.7 389.3h0M540.1 428.9h0M710.6 385.6h0M354.2 444.6h0M468.6 432.2h0M719.9 387.7h0M258.1 444.1h0M498.8 413.4h0M536.0 449.4h0M315.3 466.8h0M618.3 406.6h0M623.7 386.2h0M521.6 434.5h0M253.8 455.8h0M280.4 463.8h0M484.9 409.4h0M265.0 463.5h0M594.6 423.8h0M611.7 393.7h0M171.1 447.3h0M539.0 425.8h0M579.0 402.6h0M560.8 420.1h0M651.7 378.5h0M576.4 435.4h0M219.2 446.0h0M299.1 454.8h0M572.4 437.3h0M650.7 361.4h0M262.7 465.7h0M412.7 354.9h0M191.7 458.2h0M598.2 410.6h0M668.4 393.2h0M139.8 429.9h0M674.0 377.3h0M307.3 439.3h0M356.4 454.3h0M388.3 437.4h0M722.6 397.9h0M357.6 470.8h0M656.5 389.6h0M789.0 413.7h0M582.1 424.4h0M570.9 420.3h0M572.4 439.7h0M491.8 435.0h0M124.4 455.3h0M373.4 463.6h0M348.7 454.6h0M231.8 450.0h0M590.7 403.7h0M233.3 442.3h0M239.1 443.8h0M172.9 464.9h0M342.7 454.5h0M403.0 380.4h0M744.9 409.2h0M171.8 453.8h0M619.6 387.3h0M268.5 450.4h0M679.7 380.7h0M375.7 460.9h0M537.3 421.6h0M549.0 417.2h0M644.7 389.1h0M699.9 388.7h0M489.5 427.4h0M472.9 420.8h0M357.4 471.0h0M394.6 424.6h0M723.1 391.5h0M300.6 472.7h0M525.7 420.0h0M348.1 442.9h0M668.0 395.8h0M350.7 453.3h0M248.0 453.8h0M397.7 413.0h0M479.6 410.2h0M231.6 458.3h0M157.6 445.6h0M318.9 465.7h0M156.7 465.5h0M647.3 373.7h0M341.6 467.2h0M572.2 424.2h0M702.6 411.9h0M481.1 423.8h0M714.2 373.7h0M459.6 368.9h0M153.8 463.3h0M456.1 376.4h0M369.6 457.3h0M353.6 447.6h0M430.3 353.0h0M700.0 361.7h0M639.0 389.8h0M630.9 400.0h0M235.0 447.3h0M611.5 410.2h0M626.4 385.0h0M260.2 459.4h0M756.5 394.6h0M372.9 445.5h0M695.2 392.2h0M443.7 348.1h0M429.9 378.9h0M565.0 405.5h0M630.8 366.6h0M291.7 459.4h0M584.0 403.4h0M195.3 458.3h0M263.3 444.8h0M362.5 468.0h0M116.8 464.8h0M679.4 372.9h0M450.3 396.2h0M237.8 449.9h0M535.5 427.6h0M301.9 451.6h0M226.8 456.2h0M352.8 460.2h0M269.0 456.1h0M269.7 459.7h0M738.9 401.2h0M156.6 459.7h0M462.8 383.5h0M478.6 417.3h0M466.8 395.8h0M769.6 399.5h0M127.1 454.0h0M650.3 379.0h0M153.6 449.7h0M168.1 470.7h0M391.6 428.3h0M479.5 428.2h0M482.4 418.8h0M316.4 470.7h0M778.9 419.7h0M691.5 391.4h0M503.8 436.3h0M758.0 389.8h0M308.2 448.8h0M716.6 404.7h0M398.6 404.7h0M117.4 440.9h0M741.3 397.8h0M270.5 446.1h0M189.5 440.6h0M252.4 453.9h0M604.2 408.3h0M598.1 406.5h0M699.0 381.5h0M269.1 448.2h0M253.5 452.9h0M750.3 398.3h0M271.7 453.1h0M177.1 473.7h0M650.5 377.8h0M235.3 454.6h0M540.1 417.6h0M303.6 455.7h0M570.3 423.4h0M380.6 454.4h0M671.4 349.8h0M278.3 466.1h0M128.9 459.2h0M349.5 459.3h0M143.4 446.5h0M261.9 441.5h0M269.3 447.6h0M272.5 463.0h0M244.6 459.1h0M323.2 458.6h0M571.5 430.6h0M157.3 447.8h0M664.3 371.9h0M198.3 464.2h0M639.3 398.2h0M594.4 421.2h0M450.9 387.3h0M411.0 361.0h0M152.0 436.2h0M751.2 397.0h0M546.1 437.0h0M271.4 455.2h0M225.7 460.1h0M744.2 407.6h0M526.3 419.9h0M670.9 391.7h0M647.4 382.9h0M137.1 443.0h0M707.7 405.8h0M564.1 411.7h0M442.7 373.1h0M461.9 401.1h0M459.7 380.9h0M699.5 377.1h0M300.3 461.1h0M158.2 457.9h0M231.0 464.3h0M592.6 415.0h0M380.9 454.1h0M384.0 449.1h0M746.2 411.6h0M462.5 386.6h0M158.2 440.0h0M354.0 461.2h0M412.7 357.5h0M778.3 397.9h0M196.1 467.7h0M601.2 392.6h0M639.0 381.9h0M201.6 461.7h0M759.6 397.9h0M296.6 453.8h0M159.4 458.6h0M747.8 395.8h0M772.3 382.0h0M460.3 376.6h0M270.0 463.1h0M141.4 461.0h0M751.2 386.2h0M445.1 372.9h0M776.8 412.7h0M518.7 437.3h0M636.4 403.9h0M409.9 372.8h0M379.3 450.1h0M512.2 427.1h0M133.5 460.9h0M384.9 436.8h0M553.5 404.2h0M257.0 462.6h0M227.2 463.7h0M340.3 463.2h0M307.5 460.4h0M621.4 378.9h0M187.4 441.2h0M691.7 379.3h0M204.6 468.3h0M259.3 453.9h0M453.6 380.2h0M330.9 452.2h0M313.1 469.4h0M143.5 439.8h0M159.6 469.8h0M679.6 386.2h0M785.4 375.9h0M753.5 401.5h0M464.0 408.3h0M239.2 458.9h0M421.2 361.2h0M537.3 424.3h0M422.4 353.2h0M556.6 424.0h0M418.7 350.3h0M629.7 412.2h0M697.9 373.6h0M616.4 403.1h0M559.0 419.8h0M761.8 383.3h0M562.6 440.1h0M155.8 458.3h0M786.2 399.5h0M743.1 390.3h0M231.1 452.0h0M244.8 467.3h0M757.6 403.2h0M444.8 360.1h0M667.4 387.3h0M640.3 376.6h0M694.0 393.4h0M378.5 455.0h0M682.6 395.4h0M489.4 430.6h0M363.4 456.7h0M402.3 371.7h0M739.1 403.4h0M341.1 467.8h0M721.9 380.3h0M592.9 424.1h0M338.4 453.6h0M172.5 449.9h0M687.9 379.7h0M169.3 461.7h0M755.6 401.4h0M312.2 460.1h0M756.8 389.0h0M123.2 468.4h0M149.9 448.2h0M713.4 411.3h0M243.1 464.8h0M246.0 460.5h0M447.4 359.1h0M467.7 412.1h0M240.8 448.1h0M713.2 414.2h0M174.0 457.4h0M202.5 458.4h0M777.3 408.8h0M425.1 360.5h0M162.1 465.3h0M176.7 472.8h0M328.4 466.1h0M361.4 467.1h0M714.6 404.5h0M373.2 457.5h0M380.2 441.2h0M421.5 352.9h0M336.4 454.1h0M391.9 443.0h0M723.6 363.6h0M709.5 369.3h0M491.3 423.0h0M178.8 458.0h0M615.7 398.7h0M344.2 458.0h0M697.4 397.2h0M585.9 433.3h0M486.8 445.4h0M306.4 463.6h0M502.9 442.3h0M758.3 397.6h0M604.9 399.0h0M363.6 461.9h0M558.3 442.2h0M307.5 463.7h0M302.1 443.0h0M574.3 435.0h0M706.2 417.1h0M598.2 421.5h0M320.8 458.2h0M256.6 450.3h0M650.9 371.0h0M278.3 471.5h0M611.1 403.8h0M629.8 391.2h0M112.4 454.3h0M791.6 411.2h0M791.6 417.2h0M247.7 452.5h0M350.7 462.1h0M746.9 396.7h0M293.1 452.9h0M389.1 428.5h0M191.5 456.1h0M692.9 404.7h0M385.0 454.0h0M744.9 415.9h0M783.6 404.8h0M478.5 416.5h0M347.0 453.1h0M162.8 448.5h0M650.4 393.8h0M776.2 422.3h0M143.7 451.5h0M667.6 393.2h0M266.9 447.5h0M419.1 361.9h0M355.6 465.2h0M492.3 420.9h0M341.6 470.1h0M727.0 395.1h0M135.4 459.1h0M523.6 450.3h0M567.0 408.9h0M763.8 408.3h0M511.7 429.1h0M404.9 389.9h0M239.6 455.2h0M319.7 458.9h0M661.5 392.9h0" stroke="#e7d8da" stroke-width="7.8" stroke-linecap="round" fill="none"/>
<path d="M110.0 453.0 111.0 453.8 112.0 453.6 113.0 453.2 114.0 453.3 115.0 453.2 116.0 455.0 117.0 455.2 118.0 455.5 119.0 454.3 120.0 454.1 121.0 453.9 122.0 453.9 123.0 454.4 124.0 454.7 125.0 455.2 126.0 455.0 127.0 455.2 128.0 455.4 129.0 455.7 130.0 455.6 131.0 455.1 132.0 455.1 133.0 455.9 134.0 456.0 135.0 455.7 136.0 455.5 137.0 455.3 138.0 455.3 139.0 455.3 140.0 455.8 141.0 456.0 142.0 456.0 143.0 454.9 144.0 455.2 145.0 454.7 146.0 455.1 147.0 454.9 148.0 455.5 149.0 455.9 150.0 455.5 151.0 455.3 152.0 455.5 153.0 456.3 154.0 456.6 155.0 456.7 156.0 456.6 157.0 456.3 158.0 456.0 159.0 455.8 160.0 456.1 161.0 456.3 162.0 455.9 163.0 455.7 164.0 454.9 165.0 455.4 166.0 455.4 167.0 455.5 168.0 455.2 169.0 454.6 170.0 455.3 171.0 454.4 172.0 454.2 173.0 454.1 174.0 455.0 175.0 454.4 176.0 453.8 177.0 453.3 178.0 453.7 179.0 454.2 180.0 453.6 181.0 453.8 182.0 452.8 183.0 453.5 184.0 453.3 185.0 453.5 186.0 452.4 187.0 453.0 188.0 453.3 189.0 454.2 190.0 454.1 191.0 454.0 192.0 453.6 193.0 453.0 194.0 452.7 195.0 453.4 196.0 453.3 197.0 453.5 198.0 453.0 199.0 453.7 200.0 454.2 201.0 453.9 202.0 453.4 203.0 453.3 204.0 454.2 205.0 455.1 206.0 455.2 207.0 454.7 208.0 454.6 209.0 454.5 210.0 454.9 211.0 454.5 212.0 454.6 213.0 454.3 214.0 454.8 215.0 454.8 216.0 455.7 217.0 456.0 218.0 456.4 219.0 454.8 220.0 454.2 221.0 453.4 222.0 454.3 223.0 453.6 224.0 454.2 225.0 454.3 226.0 454.6 227.0 453.9 228.0 453.2 229.0 453.6 230.0 454.1 231.0 455.1 232.0 454.9 233.0 455.0 234.0 454.3 235.0 454.9 236.0 454.9 237.0 455.3 238.0 454.3 239.0 454.0 240.0 453.2 241.0 454.1 242.0 454.4 243.0 454.5 244.0 453.9 245.0 453.8 246.0 453.7 247.0 453.6 248.0 453.7 249.0 454.9 250.0 455.2 251.0 455.1 252.0 454.0 253.0 453.9 254.0 454.5 255.0 455.4 256.0 456.0 257.0 456.2 258.0 456.2 259.0 456.5 260.0 456.1 261.0 456.1 262.0 456.3 263.0 456.7 264.0 456.8 265.0 456.6 266.0 456.9 267.0 457.4 268.0 457.5 269.0 457.6 270.0 457.6 271.0 457.9 272.0 458.6 273.0 457.6 274.0 457.7 275.0 456.9 276.0 457.7 277.0 457.7 278.0 458.2 279.0 458.5 280.0 458.3 281.0 458.4 282.0 458.0 283.0 457.9 284.0 457.6 285.0 457.5 286.0 458.3 287.0 458.4 288.0 459.3 289.0 458.6 290.0 458.1 291.0 457.4 292.0 457.7 293.0 457.6 294.0 457.7 295.0 457.4 296.0 458.2 297.0 457.8 298.0 458.2 299.0 457.4 300.0 457.3 301.0 456.7 302.0 456.6 303.0 457.0 304.0 457.6 305.0 458.1 306.0 458.3 307.0 458.6 308.0 458.7 309.0 458.6 310.0 458.0 311.0 457.5 312.0 457.8 313.0 457.3 314.0 458.2 315.0 458.0 316.0 459.0 317.0 458.9 318.0 458.7 319.0 458.5 320.0 458.4 321.0 458.7 322.0 458.6 323.0 458.8 324.0 458.9 325.0 458.6 326.0 458.6 327.0 457.9 328.0 458.2 329.0 457.8 330.0 458.9 331.0 459.3 332.0 459.0 333.0 458.6 334.0 458.0 335.0 458.3 336.0 458.3 337.0 458.1 338.0 457.8 339.0 457.4 340.0 457.5 341.0 458.0 342.0 457.6 343.0 457.8 344.0 458.0 345.0 457.9 346.0 457.4 347.0 457.1 348.0 457.2 349.0 457.9 350.0 457.9 351.0 457.7 352.0 456.8 353.0 456.6 354.0 457.6 355.0 457.7 356.0 457.6 357.0 456.9 358.0 456.8 359.0 457.3 360.0 456.8 361.0 456.9 362.0 456.0 363.0 456.2 364.0 455.3 365.0 455.6 366.0 455.1 367.0 455.3 368.0 454.2 369.0 453.7 370.0 453.6 371.0 454.0 372.0 454.2 373.0 454.2 374.0 453.8 375.0 453.2 376.0 452.7 377.0 452.3 378.0 451.8 379.0 451.3 380.0 451.0 381.0 450.5 382.0 449.5 383.0 448.6 384.0 448.4 385.0 447.6 386.0 446.4 387.0 444.6 388.0 443.9 389.0 442.1 390.0 440.8 391.0 438.8 392.0 436.7 393.0 434.1 394.0 430.4 395.0 426.8 396.0 422.3 397.0 416.2 398.0 409.2 399.0 402.1 400.0 395.2 401.0 390.5 402.0 385.3 403.0 381.6 404.0 377.1 405.0 372.9 406.0 369.4 407.0 367.1 408.0 365.6 409.0 363.7 410.0 362.2 411.0 361.0 412.0 359.7 413.0 358.3 414.0 358.0 415.0 357.8 416.0 357.9 417.0 357.7 418.0 357.6 419.0 356.6 420.0 355.5 421.0 355.3 422.0 356.0 423.0 356.6 424.0 357.0 425.0 356.9 426.0 357.4 427.0 357.6 428.0 358.1 429.0 358.1 430.0 358.3 431.0 358.8 432.0 359.4 433.0 360.2 434.0 361.3 435.0 362.3 436.0 364.3 437.0 365.2 438.0 365.7 439.0 365.8 440.0 366.3 441.0 367.1 442.0 367.9 443.0 368.3 444.0 368.3 445.0 369.0 446.0 369.9 447.0 372.3 448.0 372.7 449.0 373.5 450.0 374.5 451.0 375.3 452.0 376.8 453.0 377.8 454.0 379.4 455.0 380.5 456.0 381.5 457.0 383.3 458.0 384.9 459.0 387.6 460.0 390.4 461.0 394.4 462.0 397.0 463.0 399.3 464.0 401.6 465.0 404.5 466.0 407.5 467.0 409.5 468.0 412.0 469.0 413.5 470.0 415.1 471.0 415.3 472.0 416.3 473.0 417.8 474.0 419.3 475.0 420.2 476.0 420.0 477.0 421.1 478.0 422.0 479.0 422.5 480.0 423.0 481.0 423.5 482.0 424.6 483.0 424.6 484.0 425.5 485.0 425.8 486.0 426.3 487.0 425.9 488.0 426.1 489.0 426.7 490.0 427.1 491.0 427.9 492.0 428.0 493.0 428.8 494.0 429.0 495.0 428.9 496.0 428.0 497.0 428.0 498.0 428.4 499.0 429.2 500.0 429.4 501.0 429.0 502.0 429.0 503.0 428.6 504.0 429.3 505.0 429.5 506.0 429.8 507.0 428.9 508.0 428.9 509.0 429.6 510.0 430.3 511.0 430.2 512.0 430.2 513.0 430.6 514.0 431.2 515.0 431.1 516.0 431.0 517.0 430.9 518.0 430.9 519.0 430.3 520.0 430.7 521.0 430.5 522.0 431.4 523.0 430.3 524.0 430.4 525.0 430.0 526.0 430.5 527.0 430.3 528.0 430.1 529.0 430.2 530.0 429.6 531.0 429.1 532.0 429.0 533.0 429.4 534.0 429.2 535.0 428.6 536.0 428.0 537.0 428.0 538.0 427.4 539.0 426.6 540.0 426.1 541.0 425.8 542.0 425.7 543.0 425.4 544.0 425.6 545.0 425.0 546.0 424.9 547.0 423.8 548.0 423.9 549.0 422.8 550.0 422.7 551.0 422.4 552.0 422.6 553.0 422.5 554.0 422.0 555.0 422.3 556.0 422.5 557.0 422.7 558.0 423.1 559.0 423.0 560.0 423.1 561.0 422.8 562.0 423.7 563.0 424.4 564.0 425.2 565.0 424.9 566.0 424.7 567.0 424.5 568.0 424.2 569.0 424.3 570.0 423.8 571.0 423.2 572.0 422.3 573.0 421.4 574.0 421.6 575.0 421.8 576.0 421.2 577.0 420.0 578.0 417.8 579.0 417.4 580.0 417.0 581.0 417.0 582.0 416.8 583.0 415.9 584.0 415.8 585.0 415.2 586.0 415.0 587.0 415.0 588.0 414.9 589.0 414.5 590.0 413.4 591.0 412.9 592.0 413.0 593.0 412.6 594.0 411.9 595.0 411.5 596.0 411.4 597.0 411.4 598.0 411.1 599.0 411.4 600.0 411.1 601.0 410.8 602.0 410.1 603.0 409.7 604.0 409.2 605.0 408.0 606.0 407.4 607.0 406.7 608.0 407.1 609.0 406.4 610.0 406.0 611.0 405.0 612.0 405.0 613.0 404.2 614.0 403.4 615.0 402.3 616.0 401.4 617.0 400.9 618.0 400.0 619.0 399.6 620.0 399.4 621.0 398.5 622.0 397.7 623.0 396.3 624.0 395.9 625.0 394.7 626.0 393.8 627.0 392.9 628.0 392.8 629.0 392.3 630.0 391.4 631.0 390.2 632.0 389.7 633.0 389.6 634.0 389.2 635.0 388.4 636.0 387.4 637.0 386.4 638.0 385.6 639.0 384.9 640.0 384.8 641.0 384.5 642.0 383.7 643.0 383.5 644.0 383.7 645.0 383.6 646.0 383.0 647.0 382.3 648.0 382.4 649.0 381.7 650.0 382.1 651.0 381.8 652.0 382.8 653.0 382.5 654.0 382.8 655.0 382.6 656.0 383.2 657.0 383.4 658.0 383.7 659.0 383.5 660.0 383.6 661.0 384.4 662.0 385.0 663.0 385.8 664.0 385.9 665.0 385.4 666.0 385.5 667.0 385.8 668.0 386.5 669.0 385.8 670.0 384.2 671.0 383.5 672.0 384.7 673.0 385.7 674.0 386.0 675.0 385.9 676.0 385.8 677.0 386.0 678.0 386.1 679.0 386.6 680.0 386.7 681.0 386.2 682.0 386.3 683.0 386.1 684.0 386.8 685.0 387.5 686.0 387.5 687.0 386.3 688.0 385.4 689.0 385.8 690.0 387.0 691.0 387.5 692.0 387.2 693.0 386.7 694.0 386.8 695.0 386.8 696.0 387.5 697.0 387.2 698.0 388.2 699.0 388.4 700.0 389.3 701.0 389.9 702.0 389.9 703.0 390.4 704.0 390.8 705.0 391.8 706.0 392.8 707.0 393.3 708.0 393.5 709.0 393.3 710.0 393.6 711.0 394.4 712.0 394.7 713.0 395.4 714.0 395.5 715.0 396.0 716.0 395.4 717.0 395.6 718.0 396.1 719.0 396.1 720.0 396.6 721.0 397.2 722.0 398.0 723.0 398.0 724.0 398.4 725.0 398.9 726.0 398.6 727.0 398.0 728.0 397.7 729.0 398.2 730.0 397.6 731.0 398.1 732.0 398.1 733.0 399.2 734.0 399.1 735.0 399.8 736.0 399.8 737.0 399.7 738.0 399.8 739.0 400.5 740.0 400.7 741.0 401.1 742.0 400.8 743.0 400.8 744.0 400.8 745.0 400.5 746.0 401.0 747.0 400.3 748.0 400.7 749.0 400.0 750.0 399.9 751.0 400.1 752.0 400.5 753.0 400.8 754.0 400.3 755.0 400.4 756.0 399.9 757.0 399.7 758.0 399.5 759.0 399.7 760.0 399.8 761.0 399.9 762.0 400.1 763.0 400.3 764.0 400.8 765.0 401.2 766.0 401.7 767.0 401.1 768.0 400.6 769.0 399.8 770.0 400.0 771.0 400.1 772.0 401.2 773.0 402.4 774.0 404.5 775.0 405.6 776.0 405.5 777.0 405.5 778.0 405.1 779.0 405.9 780.0 406.0 781.0 406.7 782.0 407.5 783.0 408.0 784.0 408.8 785.0 408.3 786.0 408.2 787.0 408.2 788.0 409.2 789.0 409.6 790.0 409.8 791.0 409.3 792.0 410.1 793.0 411.1 794.0 412.3 795.0 412.9" stroke="#821719" stroke-width="6.2" stroke-linejoin="round" stroke-linecap="round" fill="none"/>
<path d="M110.0 459.7 111.0 459.3 112.0 458.8 113.0 458.5 114.0 459.1 115.0 458.6 116.0 458.9 117.0 459.0 118.0 460.1 119.0 460.1 120.0 460.2 121.0 459.2 122.0 459.8 123.0 459.0 124.0 459.7 125.0 458.6 126.0 458.7 127.0 457.8 128.0 457.3 129.0 457.3 130.0 457.1 131.0 457.3 132.0 456.2 133.0 455.8 134.0 454.6 135.0 455.0 136.0 454.0 137.0 453.8 138.0 453.3 139.0 453.1 140.0 453.2 141.0 452.7 142.0 453.2 143.0 452.8 144.0 452.0 145.0 451.1 146.0 450.4 147.0 450.8 148.0 451.2 149.0 450.9 150.0 450.4 151.0 449.9 152.0 450.0 153.0 450.2 154.0 450.6 155.0 451.5 156.0 451.6 157.0 451.7 158.0 451.3 159.0 451.3 160.0 451.4 161.0 451.4 162.0 452.2 163.0 452.0 164.0 452.6 165.0 452.3 166.0 453.0 167.0 453.0 168.0 453.4 169.0 453.9 170.0 453.8 171.0 453.8 172.0 453.7 173.0 453.5 174.0 454.1 175.0 454.0 176.0 454.1 177.0 454.6 178.0 455.1 179.0 455.4 180.0 455.7 181.0 455.9 182.0 457.1 183.0 456.5 184.0 457.0 185.0 456.4 186.0 456.4 187.0 456.6 188.0 457.5 189.0 458.8 190.0 460.4 191.0 460.5 192.0 461.0 193.0 460.5 194.0 461.2 195.0 460.8 196.0 460.8 197.0 460.8 198.0 461.1 199.0 461.6 200.0 461.6 201.0 462.2 202.0 461.9 203.0 461.7 204.0 461.2 205.0 460.7 206.0 460.0 207.0 459.0 208.0 458.1 209.0 457.9 210.0 457.7 211.0 457.4 212.0 456.8 213.0 455.8 214.0 455.2 215.0 453.9 216.0 453.9 217.0 453.2 218.0 453.2 219.0 452.5 220.0 452.0 221.0 451.5 222.0 451.5 223.0 451.4 224.0 451.1 225.0 451.0 226.0 450.7 227.0 451.9 228.0 452.2 229.0 453.3 230.0 454.0 231.0 455.3 232.0 455.9 233.0 455.9 234.0 456.0 235.0 456.9 236.0 457.0 237.0 457.1 238.0 457.3 239.0 457.8 240.0 458.4 241.0 458.6 242.0 458.5 243.0 458.3 244.0 457.6 245.0 458.2 246.0 459.3 247.0 460.2 248.0 461.0 249.0 461.2 250.0 461.9 251.0 461.8 252.0 461.8 253.0 461.8 254.0 462.0 255.0 462.3 256.0 463.1 257.0 463.7 258.0 463.8 259.0 464.1 260.0 463.9 261.0 464.5 262.0 464.6 263.0 465.2 264.0 465.5 265.0 465.7 266.0 465.8 267.0 465.8 268.0 465.7 269.0 466.2 270.0 466.4 271.0 467.1 272.0 466.8 273.0 465.8 274.0 464.9 275.0 465.3 276.0 466.2 277.0 466.1 278.0 465.1 279.0 465.4 280.0 465.8 281.0 466.1 282.0 465.6 283.0 465.6 284.0 465.4 285.0 464.6 286.0 464.2 287.0 463.6 288.0 463.4 289.0 462.5 290.0 461.4 291.0 459.3 292.0 458.4 293.0 457.6 294.0 457.6 295.0 456.2 296.0 455.3 297.0 454.2 298.0 453.8 299.0 453.0 300.0 452.7 301.0 451.8 302.0 451.3 303.0 451.6 304.0 452.3 305.0 452.7 306.0 452.3 307.0 451.6 308.0 451.6 309.0 452.2 310.0 451.9 311.0 452.1 312.0 450.8 313.0 451.3 314.0 451.0 315.0 451.3 316.0 450.9 317.0 450.8 318.0 451.5 319.0 452.0 320.0 452.6 321.0 452.5 322.0 453.7 323.0 453.9 324.0 454.7 325.0 454.8 326.0 455.2 327.0 455.9 328.0 456.5 329.0 456.6 330.0 456.0 331.0 454.9 332.0 454.4 333.0 454.5 334.0 454.9 335.0 455.1 336.0 455.1 337.0 455.4 338.0 454.9 339.0 454.6 340.0 454.9 341.0 455.7 342.0 456.1 343.0 456.5 344.0 456.3 345.0 456.7 346.0 456.1 347.0 456.9 348.0 457.2 349.0 458.2 350.0 458.2 351.0 458.2 352.0 457.8 353.0 457.9 354.0 457.7 355.0 457.5 356.0 457.0 357.0 457.2 358.0 457.4 359.0 457.8 360.0 457.3 361.0 457.3 362.0 456.2 363.0 456.3 364.0 455.7 365.0 456.4 366.0 456.2 367.0 455.8 368.0 455.3 369.0 455.0 370.0 454.9 371.0 454.4 372.0 453.8 373.0 454.6 374.0 454.5 375.0 454.9 376.0 453.3 377.0 452.5 378.0 451.8 379.0 451.6 380.0 451.6 381.0 450.4 382.0 449.4 383.0 448.3 384.0 446.8 385.0 445.2 386.0 442.4 387.0 440.7 388.0 438.3 389.0 436.2 390.0 431.9 391.0 426.9 392.0 421.0 393.0 414.4 394.0 405.5 395.0 394.0 396.0 383.0 397.0 371.3 398.0 359.1 399.0 349.0 400.0 340.6 401.0 333.5 402.0 326.1 403.0 319.4 404.0 313.1 405.0 306.7 406.0 301.9 407.0 296.4 408.0 291.7 409.0 285.7 410.0 281.0 411.0 276.6 412.0 271.3 413.0 265.4 414.0 258.3 415.0 250.7 416.0 243.5 417.0 237.5 418.0 232.2 419.0 227.4 420.0 221.1 421.0 214.2 422.0 204.4 423.0 195.9 424.0 188.3 425.0 182.1 426.0 176.2 427.0 172.5 428.0 169.7 429.0 167.3 430.0 165.2 431.0 163.4 432.0 162.4 433.0 161.7 434.0 160.6 435.0 160.5 436.0 159.9 437.0 159.3 438.0 159.1 439.0 158.5 440.0 158.0 441.0 156.5 442.0 155.6 443.0 154.9 444.0 154.5 445.0 154.3 446.0 153.2 447.0 152.4 448.0 151.7 449.0 151.5 450.0 151.1 451.0 150.6 452.0 150.2 453.0 149.9 454.0 149.3 455.0 149.7 456.0 149.9 457.0 149.7 458.0 149.3 459.0 148.6 460.0 149.2 461.0 149.2 462.0 149.5 463.0 149.3 464.0 149.2 465.0 150.6 466.0 152.1 467.0 154.1 468.0 155.7 469.0 157.2 470.0 159.1 471.0 160.9 472.0 163.2 473.0 167.0 474.0 169.9 475.0 173.1 476.0 175.6 477.0 177.7 478.0 181.1 479.0 184.2 480.0 188.3 481.0 191.9 482.0 194.5 483.0 198.0 484.0 201.3 485.0 204.4 486.0 207.4 487.0 210.8 488.0 215.9 489.0 221.6 490.0 228.1 491.0 234.6 492.0 240.9 493.0 247.6 494.0 252.5 495.0 255.3 496.0 256.9 497.0 259.5 498.0 261.8 499.0 264.9 500.0 265.7 501.0 267.2 502.0 268.1 503.0 269.9 504.0 271.6 505.0 273.1 506.0 274.5 507.0 275.1 508.0 276.4 509.0 278.8 510.0 281.6 511.0 284.3 512.0 285.6 513.0 287.7 514.0 289.8 515.0 293.2 516.0 296.4 517.0 299.8 518.0 302.7 519.0 304.2 520.0 306.0 521.0 306.5 522.0 308.4 523.0 308.9 524.0 309.8 525.0 309.8 526.0 310.9 527.0 311.1 528.0 311.1 529.0 310.3 530.0 310.4 531.0 309.7 532.0 308.9 533.0 307.3 534.0 306.2 535.0 304.5 536.0 303.3 537.0 302.4 538.0 300.8 539.0 299.6 540.0 298.4 541.0 297.3 542.0 295.9 543.0 293.7 544.0 293.2 545.0 292.2 546.0 292.2 547.0 291.2 548.0 290.5 549.0 289.9 550.0 289.6 551.0 289.4 552.0 289.4 553.0 289.3 554.0 289.5 555.0 290.0 556.0 289.9 557.0 290.4 558.0 290.4 559.0 291.2 560.0 291.1 561.0 291.6 562.0 292.2 563.0 293.3 564.0 293.9 565.0 295.4 566.0 295.9 567.0 297.4 568.0 298.1 569.0 298.4 570.0 298.8 571.0 299.0 572.0 298.9 573.0 298.3 574.0 296.9 575.0 296.4 576.0 295.4 577.0 294.7 578.0 294.3 579.0 293.9 580.0 293.3 581.0 292.7 582.0 291.9 583.0 291.2 584.0 289.7 585.0 289.2 586.0 288.7 587.0 287.8 588.0 286.4 589.0 285.7 590.0 286.8 591.0 287.6 592.0 287.7 593.0 287.6 594.0 287.5 595.0 287.3 596.0 287.6 597.0 287.4 598.0 288.0 599.0 287.9 600.0 287.7 601.0 287.4 602.0 287.5 603.0 288.0 604.0 288.3 605.0 288.5 606.0 287.8 607.0 286.5 608.0 284.8 609.0 283.5 610.0 282.3 611.0 281.3 612.0 280.1 613.0 279.2 614.0 278.1 615.0 277.2 616.0 276.5 617.0 275.5 618.0 275.1 619.0 273.8 620.0 273.3 621.0 272.6 622.0 272.6 623.0 272.6 624.0 273.1 625.0 272.8 626.0 271.8 627.0 270.9 628.0 270.2 629.0 269.6 630.0 269.0 631.0 268.5 632.0 268.1 633.0 268.3 634.0 267.9 635.0 267.6 636.0 267.1 637.0 266.8 638.0 266.3 639.0 265.5 640.0 265.6 641.0 265.9 642.0 266.0 643.0 265.5 644.0 264.9 645.0 264.9 646.0 264.4 647.0 264.5 648.0 263.6 649.0 263.8 650.0 263.6 651.0 264.3 652.0 263.3 653.0 263.7 654.0 262.9 655.0 263.8 656.0 263.5 657.0 263.4 658.0 263.2 659.0 263.0 660.0 263.1 661.0 262.8 662.0 262.7 663.0 262.7 664.0 262.4 665.0 262.9 666.0 263.5 667.0 264.0 668.0 264.3 669.0 266.0 670.0 268.5 671.0 270.0 672.0 269.7 673.0 269.8 674.0 270.2 675.0 270.9 676.0 270.7 677.0 269.8 678.0 269.5 679.0 269.1 680.0 268.9 681.0 268.2 682.0 268.1 683.0 267.3 684.0 266.5 685.0 263.9 686.0 262.2 687.0 260.0 688.0 258.1 689.0 254.4 690.0 251.7 691.0 249.9 692.0 250.0 693.0 249.2 694.0 248.3 695.0 246.9 696.0 246.2 697.0 244.8 698.0 243.7 699.0 242.5 700.0 242.6 701.0 242.6 702.0 242.9 703.0 242.6 704.0 242.6 705.0 242.2 706.0 243.2 707.0 242.9 708.0 244.0 709.0 243.8 710.0 243.5 711.0 243.0 712.0 242.8 713.0 243.1 714.0 243.5 715.0 243.9 716.0 245.3 717.0 245.6 718.0 246.5 719.0 247.5 720.0 248.7 721.0 249.4 722.0 250.1 723.0 250.7 724.0 251.8 725.0 251.6 726.0 253.2 727.0 253.9 728.0 255.7 729.0 256.3 730.0 256.6 731.0 257.8 732.0 257.6 733.0 258.5 734.0 257.9 735.0 258.6 736.0 258.1 737.0 257.0 738.0 256.0 739.0 254.5 740.0 254.1 741.0 253.1 742.0 253.8 743.0 253.2 744.0 252.8 745.0 251.8 746.0 251.6 747.0 251.9 748.0 252.9 749.0 253.6 750.0 254.7 751.0 255.0 752.0 256.3 753.0 257.4 754.0 258.3 755.0 259.2 756.0 260.3 757.0 262.1 758.0 263.7 759.0 264.5 760.0 264.4 761.0 263.8 762.0 264.1 763.0 264.7 764.0 265.3 765.0 265.3 766.0 264.4 767.0 263.9 768.0 263.6 769.0 263.1 770.0 263.1 771.0 262.3 772.0 262.4 773.0 262.4 774.0 261.6 775.0 261.0 776.0 259.2 777.0 258.7 778.0 258.1 779.0 258.1 780.0 257.8 781.0 257.5 782.0 256.9 783.0 255.7 784.0 255.2 785.0 255.1 786.0 254.9 787.0 254.2 788.0 254.3 789.0 254.7 790.0 254.9 791.0 254.2 792.0 253.5 793.0 252.7 794.0 252.3 795.0 251.8 796.0 251.5 797.0 251.0 798.0 250.8 799.0 250.9 800.0 250.3 801.0 250.9 802.0 250.1 803.0 250.0" stroke="#447545" stroke-width="6.2" stroke-linejoin="round" stroke-linecap="round" fill="none"/>
<path d="M105.3 11.3V504.8H795.7" stroke="#404040" stroke-width="3.8" fill="none"/>
<line x1="105.3" y1="504.8" x2="114.3" y2="504.8" stroke="#404040" stroke-width="3.8"/>
<line x1="105.3" y1="422.9" x2="114.3" y2="422.9" stroke="#404040" stroke-width="3.8"/>
<line x1="105.3" y1="341.0" x2="114.3" y2="341.0" stroke="#404040" stroke-width="3.8"/>
<line x1="105.3" y1="259.0" x2="114.3" y2="259.0" stroke="#404040" stroke-width="3.8"/>
<line x1="105.3" y1="177.1" x2="114.3" y2="177.1" stroke="#404040" stroke-width="3.8"/>
<line x1="105.3" y1="95.2" x2="114.3" y2="95.2" stroke="#404040" stroke-width="3.8"/>
<line x1="105.3" y1="13.3" x2="114.3" y2="13.3" stroke="#404040" stroke-width="3.8"/>
<line x1="219.9" y1="504.8" x2="219.9" y2="496.3" stroke="#404040" stroke-width="3.6"/>
<line x1="334.6" y1="504.8" x2="334.6" y2="496.3" stroke="#404040" stroke-width="3.6"/>
<line x1="449.2" y1="504.8" x2="449.2" y2="496.3" stroke="#404040" stroke-width="3.6"/>
<line x1="563.9" y1="504.8" x2="563.9" y2="496.3" stroke="#404040" stroke-width="3.6"/>
<line x1="678.5" y1="504.8" x2="678.5" y2="496.3" stroke="#404040" stroke-width="3.6"/>
<line x1="793.2" y1="504.8" x2="793.2" y2="496.3" stroke="#404040" stroke-width="3.6"/>
<path d="M1494.2 295.1h0M1496.2 286.7h0M1296.7 203.8h0M1140.2 451.7h0M982.1 453.3h0M1206.7 441.9h0M1223.8 372.3h0M976.2 454.7h0M978.5 460.7h0M1626.6 244.2h0M1390.2 341.3h0M1105.2 442.2h0M1241.9 265.8h0M1609.6 288.9h0M1557.4 286.8h0M1521.0 256.9h0M1212.9 425.1h0M1281.5 208.6h0M1406.7 325.9h0M986.8 471.5h0M1324.2 303.9h0M1130.4 460.4h0M1545.1 264.9h0M989.1 456.1h0M1408.4 306.0h0M1538.6 263.7h0M1100.3 461.1h0M1555.9 278.5h0M1540.1 276.1h0M957.9 458.0h0M1427.7 325.4h0M946.1 459.9h0M1288.5 235.5h0M1243.1 279.1h0M1083.9 477.7h0M1166.9 462.8h0M1495.1 318.2h0M1161.1 463.3h0M1046.9 447.7h0M1421.6 318.8h0M1251.2 231.7h0M1490.1 273.0h0M1105.9 455.8h0M1163.4 458.6h0M1490.7 333.9h0M1291.1 225.8h0M1290.6 243.3h0M1106.4 469.4h0M955.2 466.2h0M1581.7 294.0h0M1003.8 450.4h0M1521.5 294.6h0M1196.2 445.4h0M1593.8 289.5h0M1217.7 407.1h0M1583.9 307.6h0M1324.5 325.4h0M1109.0 475.3h0M1450.9 310.1h0M1405.2 333.2h0M1411.9 338.7h0M1261.6 241.7h0M1096.6 469.2h0M1382.4 335.4h0M1018.3 450.3h0M1417.3 310.8h0M1378.6 332.8h0M1202.0 453.0h0M1489.8 306.9h0M1077.6 466.6h0M1211.6 432.5h0M1489.4 321.4h0M1204.7 458.6h0M1431.7 332.0h0M1363.0 364.4h0M1587.0 302.4h0M1621.5 288.9h0M1438.8 288.9h0M1496.9 291.0h0M1049.5 461.7h0M1431.4 319.5h0M1523.3 295.5h0M1218.9 387.4h0M1322.6 309.6h0M1272.3 213.5h0M1598.9 268.8h0M1161.7 462.0h0M1219.5 408.7h0M945.9 465.0h0M1231.8 340.1h0M1375.9 337.4h0M1582.8 279.6h0M1575.2 295.4h0M1168.5 462.7h0M1619.6 276.5h0M1073.3 462.5h0M1506.7 293.1h0M1052.5 453.0h0M1221.5 389.3h0M995.4 467.7h0M1530.4 256.0h0M1510.5 284.4h0M1040.6 459.7h0M1304.7 245.7h0M1121.3 466.6h0M1280.6 201.0h0M1322.5 318.8h0M1017.8 468.5h0M1534.7 299.5h0M1135.3 458.0h0M1250.2 227.1h0M984.3 450.5h0M947.2 466.6h0M1078.4 473.4h0M1178.3 463.2h0M1578.2 286.4h0M1552.0 295.0h0M1273.0 206.8h0M1255.4 212.3h0M1400.1 314.3h0M1530.9 259.7h0M1175.3 455.8h0M1486.5 270.1h0M1217.4 406.1h0M1350.4 334.7h0M1448.2 314.6h0M1287.2 218.8h0M1416.3 335.9h0M1420.8 299.8h0M949.2 454.1h0M971.9 449.5h0M1046.9 461.8h0M1091.0 488.7h0M1083.9 469.9h0M978.7 458.3h0M1093.4 468.5h0M1355.1 349.5h0M1549.5 298.5h0M1183.6 459.0h0M1195.2 447.3h0M1229.5 338.3h0M1409.2 335.5h0M1480.8 310.3h0M1586.9 285.1h0M1201.5 442.7h0M1427.2 309.4h0M1178.3 458.9h0M1507.2 302.7h0M1102.6 463.4h0M1539.2 294.5h0M1289.7 219.2h0M1439.9 298.3h0M1310.1 291.8h0M1160.9 456.0h0M1282.4 207.4h0M979.7 476.1h0M974.6 463.1h0M1306.7 279.1h0M1270.7 181.9h0M1513.4 306.6h0M959.0 457.6h0M1325.0 312.5h0M1279.9 220.7h0M1353.1 310.9h0M1442.8 292.6h0M1303.1 249.4h0M1329.2 355.6h0M1280.6 206.7h0M1364.8 374.9h0M1114.5 466.3h0M1322.1 320.5h0M1403.8 319.9h0M1075.6 471.4h0M1620.6 246.6h0M1454.3 282.0h0M1596.7 302.3h0M1145.7 452.6h0M1247.7 242.6h0M1123.6 465.3h0M977.1 455.6h0M956.7 449.2h0M1113.6 463.5h0M1532.6 276.7h0M1056.9 473.1h0M1415.6 306.7h0M1115.4 466.7h0M990.0 466.8h0M1076.6 464.1h0M1407.6 329.0h0M1287.4 220.0h0M1319.7 290.5h0M1254.3 215.3h0M1132.4 463.9h0M1278.3 201.5h0M1574.3 264.6h0M1082.7 473.8h0M1445.0 296.8h0M1116.5 458.5h0M1077.2 457.4h0M1166.1 454.7h0M1008.6 450.6h0M1583.1 259.4h0M1194.3 462.6h0M1065.2 457.7h0M945.3 445.3h0M986.5 453.6h0M1091.7 472.4h0M1230.1 341.6h0M1355.5 348.5h0M1614.3 248.9h0M1552.5 255.1h0M1110.5 458.1h0M1362.3 328.1h0M1573.7 282.3h0M1014.6 464.2h0M1527.7 270.8h0M1215.4 438.6h0M1478.3 276.1h0M1165.3 472.4h0M1372.0 341.4h0M1291.0 238.5h0M1016.5 462.7h0M1463.4 260.5h0M1506.5 288.1h0M1274.6 222.8h0M1209.9 436.5h0M1591.4 260.8h0M1200.5 445.3h0M1545.1 283.7h0M1230.7 360.3h0M1200.0 445.3h0M1191.8 455.5h0M986.2 454.5h0M1134.4 449.5h0M1101.8 459.7h0M987.8 470.6h0M1314.6 294.5h0M1246.8 251.4h0M962.4 457.1h0M1051.6 463.9h0M1571.8 277.0h0M1036.4 454.8h0M1199.9 447.4h0M1593.6 291.8h0M1022.6 455.1h0M1224.8 381.9h0M1491.6 266.4h0M958.3 451.5h0M991.5 458.0h0M1579.4 288.8h0M1411.9 311.4h0M1123.3 455.9h0M1272.8 213.2h0M1115.1 460.1h0M1553.9 271.8h0M1593.0 275.9h0M993.7 454.5h0M1302.7 250.7h0M1070.8 468.2h0M1221.0 399.7h0M1450.7 337.3h0M1431.7 331.6h0M1074.7 469.7h0M1171.9 461.9h0M1235.3 339.2h0M1208.7 441.0h0M1410.5 324.5h0M1482.9 314.4h0M1174.0 465.4h0M1246.2 256.5h0M991.2 464.8h0M1195.4 467.0h0M1591.0 285.5h0M1287.7 224.6h0M1325.2 300.5h0M1358.6 341.6h0M1332.1 333.2h0M1493.9 298.3h0M1122.3 461.9h0M1161.2 471.2h0M1550.0 279.0h0M1286.2 237.8h0M1599.8 270.0h0M1040.0 454.1h0M1479.3 282.4h0M1267.8 194.7h0M1268.4 217.8h0M1546.1 281.8h0M1034.4 468.5h0M1296.1 220.8h0M1115.5 467.3h0M1179.1 470.6h0M1502.6 294.6h0M1216.8 411.0h0M1480.2 254.9h0M954.5 473.2h0M1626.7 256.2h0M1596.7 293.4h0M1408.0 323.9h0M1079.5 470.5h0M1393.2 320.6h0M1075.0 472.4h0M1199.9 451.1h0M969.2 457.6h0M993.2 465.1h0M1052.9 448.7h0M1069.3 467.0h0M1517.0 273.6h0M1111.7 472.5h0M1508.2 305.1h0M949.5 460.6h0M984.8 459.7h0M986.8 482.5h0M1580.6 265.6h0M1502.6 328.0h0M955.9 465.1h0M1580.5 294.1h0M1099.8 451.2h0M1125.7 466.0h0M1343.8 339.1h0M1084.9 462.0h0M1610.1 279.0h0M1195.1 448.5h0M1334.7 332.7h0M1335.7 314.5h0M1137.4 462.3h0M1446.2 312.0h0M1621.9 245.9h0M1351.5 336.0h0M1002.4 456.6h0M1496.3 290.7h0M1400.0 326.5h0M1279.3 235.7h0M1391.5 343.0h0M1123.5 457.8h0M1152.5 458.8h0M1296.7 219.7h0M992.0 463.5h0M1346.2 346.0h0M1069.7 460.7h0M1118.4 456.1h0M1559.0 276.8h0M1346.2 332.3h0M1111.6 462.7h0M1422.0 304.9h0M1624.9 266.3h0M1557.4 278.3h0M1490.0 305.4h0M1172.1 458.9h0M1342.9 319.3h0M1344.2 327.7h0M1005.6 458.7h0M1417.6 328.1h0M1300.6 241.6h0M1301.2 244.2h0M1448.0 314.7h0M998.1 464.3h0M1090.3 471.0h0M1618.9 257.6h0M1149.7 463.3h0M1119.4 460.2h0M994.3 461.2h0M1158.4 463.9h0M1327.5 344.1h0M972.0 450.3h0M1142.4 454.2h0M1120.1 459.0h0M1050.3 463.3h0M1485.3 295.3h0M1601.5 303.8h0M1569.6 255.9h0M1245.9 280.3h0M990.5 453.0h0M1183.3 454.1h0M1303.0 250.2h0M1204.6 446.5h0M1443.9 306.0h0M1452.0 303.6h0M1556.7 290.7h0M1265.2 223.1h0M1107.9 465.7h0M1566.6 261.6h0M1548.3 270.4h0M1031.8 468.0h0M1089.5 481.7h0M1395.4 351.0h0M1505.0 312.6h0M1600.0 284.1h0M959.7 472.1h0M1074.3 462.8h0M1233.7 322.3h0M1320.9 295.9h0M1476.1 319.6h0M1324.9 304.3h0M1299.0 239.7h0M1108.5 453.1h0M1388.6 315.3h0M1342.4 358.0h0M1590.1 294.6h0M1074.7 472.9h0M1030.4 459.8h0M1186.4 455.9h0M1167.3 460.8h0M1254.2 218.2h0M1062.3 461.4h0M1427.3 337.4h0M1506.3 291.9h0M949.6 452.7h0M1566.0 278.2h0M1007.1 454.0h0M1154.1 454.0h0M1276.9 211.9h0M1234.4 314.7h0M1092.1 458.7h0M1442.6 331.4h0M1517.5 307.0h0M1100.5 465.4h0M1057.7 473.0h0M1299.2 228.8h0M1046.6 459.5h0M1586.0 303.5h0M1525.8 278.3h0M1514.6 297.5h0M1226.0 345.9h0M1481.8 298.8h0M1212.4 425.3h0M1257.5 223.1h0M1017.7 448.6h0M970.8 455.0h0M1402.5 344.0h0M1077.1 471.4h0M1597.5 293.3h0M1330.6 329.8h0M1338.4 348.8h0M1555.3 290.5h0M1148.2 456.8h0M952.7 456.4h0M1095.1 463.3h0M1257.5 213.5h0M1048.9 453.0h0M1136.7 457.5h0M1448.3 267.2h0M1202.3 439.5h0M1178.2 455.5h0M1104.6 467.0h0M1307.8 274.0h0M1624.1 263.6h0M1060.6 463.1h0M1520.5 267.5h0M1473.7 312.4h0M1355.1 359.6h0M1315.5 282.7h0M1299.9 235.0h0M1015.4 462.3h0M1333.3 334.6h0M1619.7 255.5h0M1442.5 330.9h0M1263.5 226.5h0M1247.3 247.5h0M1538.4 272.0h0M949.6 455.3h0M1081.6 461.8h0M1598.2 285.7h0M1391.0 358.5h0M1509.7 314.1h0M1309.3 269.0h0M973.4 458.6h0M1311.0 264.6h0M1374.8 341.6h0M1005.6 458.0h0M1273.0 219.5h0M1588.1 281.6h0M987.7 464.1h0M976.8 457.9h0M1015.6 473.9h0M1410.4 346.8h0M1554.2 286.7h0M1051.8 455.0h0M1521.3 284.9h0M1096.7 471.3h0M1312.3 263.9h0M1466.1 299.0h0M1025.5 473.0h0M1270.8 213.1h0M1536.2 268.3h0M1187.4 462.0h0M1489.1 327.0h0M1255.1 224.8h0M1588.5 277.0h0M1218.4 403.5h0M1506.3 296.5h0M996.9 470.7h0M1176.4 464.7h0M1044.6 444.5h0M1220.6 399.6h0M1221.7 394.5h0M1109.3 467.6h0M1231.1 350.7h0M1410.1 328.5h0M1339.1 344.5h0M1111.3 458.1h0M1430.4 289.2h0M1428.7 311.3h0M1232.9 321.7h0M1258.6 241.1h0M1063.4 464.0h0M1514.5 310.5h0M1188.5 448.0h0M1145.1 449.5h0M1578.6 288.6h0M1153.6 450.2h0M1080.3 463.8h0M1206.1 430.3h0M1296.9 235.4h0M1364.1 317.7h0M1217.0 410.4h0M1411.9 300.9h0M961.0 461.2h0M1577.1 298.2h0M1259.8 219.9h0M1251.2 223.5h0M1249.9 241.5h0M1133.4 465.7h0M1501.0 310.8h0M1254.1 244.5h0M1010.5 473.5h0M1184.1 460.5h0M1276.0 209.6h0M1190.5 451.7h0M1015.2 459.5h0M1551.4 280.3h0M1048.3 456.3h0M1442.4 312.7h0M1234.7 339.8h0M1283.1 207.9h0M1407.1 324.8h0M956.9 455.6h0M1279.2 202.7h0M1258.4 233.6h0M1237.8 305.1h0M946.1 466.0h0M953.0 449.0h0M1279.3 220.9h0M1256.0 226.1h0M1173.6 452.6h0M1024.6 464.4h0M1193.4 460.9h0M1404.1 337.5h0M1504.2 303.3h0M1466.5 281.4h0M946.5 468.9h0M1176.2 460.2h0M1278.9 219.6h0M1500.6 307.9h0M1330.3 324.6h0M1492.1 286.5h0M1415.3 328.4h0M994.7 462.8h0M1614.3 283.5h0M1325.5 301.9h0M1356.9 362.5h0M1122.0 463.9h0M1561.1 284.1h0M1626.1 287.8h0M1179.1 466.4h0M1278.8 207.9h0M988.5 463.8h0M1465.8 284.9h0M1384.0 318.4h0M1104.6 459.9h0M1511.2 281.5h0M1318.4 322.2h0M1578.7 293.6h0M1504.6 256.8h0M1013.9 458.5h0M1107.1 458.0h0M1523.8 271.7h0M966.8 460.3h0M1034.2 458.6h0M1572.3 287.0h0M1498.1 286.7h0M1119.2 470.9h0M1176.2 460.9h0M971.3 469.0h0M1031.8 457.5h0M952.9 463.7h0M1345.6 333.7h0M1361.6 359.9h0M1043.4 461.2h0M1513.6 279.4h0M1277.7 217.7h0M1354.0 356.2h0M1397.0 313.4h0M1085.3 463.0h0M1493.3 282.6h0M1225.5 379.9h0M1284.9 220.0h0M1031.3 453.5h0M1119.1 456.0h0M1255.8 227.4h0M1439.2 272.2h0M1257.3 222.7h0M1327.4 334.4h0M1461.5 275.8h0M1219.9 388.4h0M956.1 450.3h0M1328.2 321.0h0M1589.1 270.6h0M971.2 473.4h0M1260.9 213.5h0M1391.6 329.5h0M1278.8 201.3h0M1015.9 464.1h0M1295.7 240.4h0M999.7 462.8h0M993.2 470.8h0M1175.9 470.6h0M1066.2 467.3h0M1289.2 221.7h0M1589.4 274.0h0M1091.9 469.0h0M1619.5 255.3h0M1183.5 469.3h0M1515.1 295.4h0M1301.8 237.6h0M1477.6 288.0h0M1535.4 279.7h0M1519.4 293.5h0M1046.0 461.6h0M1553.0 300.7h0M1027.0 455.2h0M1446.1 308.8h0M976.5 465.8h0M1150.0 461.2h0M1035.2 461.3h0M1369.2 352.7h0M1160.0 463.0h0M1331.5 333.4h0M1094.3 463.2h0M1217.5 413.2h0M1560.0 277.3h0M1352.7 344.9h0M1277.2 220.5h0M1440.3 329.3h0M1622.1 258.3h0M1173.0 464.0h0M1020.1 468.5h0M1109.6 457.3h0M1052.0 467.6h0M1221.7 381.0h0M1451.4 273.4h0M1467.8 302.9h0M1018.9 457.5h0M1055.8 458.9h0M1190.9 439.5h0M1521.1 282.1h0M1275.2 207.4h0M1312.9 265.7h0M1143.8 457.1h0M1320.3 290.3h0M1358.0 338.2h0M1174.6 457.2h0M1355.5 364.1h0M1459.6 298.2h0M1186.7 467.0h0M1256.2 218.7h0M1034.2 450.3h0M1122.2 473.2h0M973.0 451.5h0M983.7 470.3h0M1002.7 453.9h0M1557.4 296.2h0M1444.7 294.6h0M1344.5 367.3h0M1489.7 329.3h0M1065.3 472.3h0M1185.2 461.1h0M1342.1 339.5h0M1528.4 286.0h0M1313.8 309.3h0M1030.9 455.4h0M975.5 453.6h0M969.2 472.8h0M1460.9 296.1h0M1555.2 297.1h0M1044.4 461.1h0M1497.6 304.7h0M973.8 459.5h0M1514.8 282.8h0M1424.2 293.2h0M1268.1 205.1h0M1270.7 201.3h0M1095.0 475.0h0M1579.9 277.2h0M1130.9 460.4h0M1125.8 448.8h0M1471.2 297.6h0M1338.7 356.4h0M1297.6 233.9h0M1334.6 337.5h0M1020.6 457.1h0M1019.7 455.2h0M1612.8 282.8h0M1424.5 312.0h0M1364.4 327.4h0M1327.6 314.3h0M1105.4 461.0h0M1052.2 468.7h0M1343.6 356.5h0M952.2 451.1h0M964.2 462.4h0M1179.4 451.8h0M1344.7 349.8h0M1579.3 291.2h0M1253.9 225.6h0M1153.8 458.6h0M1596.3 295.2h0M1148.1 456.8h0M1273.4 199.0h0M1270.9 229.8h0M975.3 467.8h0M1017.5 463.1h0M950.9 464.3h0M1486.8 313.2h0M1204.2 447.4h0M1409.5 342.8h0M1249.6 242.0h0M1283.1 210.1h0M1534.4 291.0h0M1214.3 424.0h0M1014.7 454.6h0M1401.4 330.2h0M965.4 442.6h0M1296.8 211.2h0M1196.7 442.9h0M1236.2 321.7h0M1441.7 319.4h0M1517.4 299.0h0M1601.6 285.3h0M1477.0 323.0h0M1504.3 289.7h0M1584.1 270.9h0M1207.7 435.1h0M1179.3 462.4h0M964.2 454.1h0M1254.7 219.9h0M983.8 458.1h0M1091.3 469.0h0M1226.7 355.9h0M1226.0 370.4h0M1466.9 296.6h0M1261.4 234.0h0M1427.1 318.8h0M960.8 448.7h0M1437.0 314.5h0M1464.6 300.6h0M953.9 450.9h0M1184.6 437.5h0M1379.2 345.5h0M1039.1 457.5h0M1494.9 287.8h0M1608.5 268.4h0M1479.6 314.6h0M1367.8 363.9h0M1479.7 286.7h0M1585.2 306.8h0M1596.8 280.8h0M1172.1 463.2h0M1386.7 335.0h0M1009.6 459.9h0M1569.5 278.5h0M984.8 456.8h0M1141.2 457.8h0M1336.1 314.6h0M1097.5 469.3h0M1232.4 329.6h0M1184.5 462.1h0M1399.8 334.0h0M1298.4 211.3h0M1511.1 308.2h0M1368.9 342.2h0M1436.9 309.2h0M956.4 455.8h0M1406.1 359.9h0M1566.0 277.7h0M1038.0 465.3h0M1479.4 297.2h0M1480.4 272.7h0M1002.2 466.4h0M1364.6 319.3h0M1157.6 465.5h0M1197.5 454.7h0M1623.2 262.5h0M1334.3 314.5h0M1270.5 226.1h0M1488.9 324.9h0M1211.9 423.2h0M1033.6 455.6h0M1613.8 291.0h0M1055.3 458.7h0M1559.8 298.7h0M1611.4 252.0h0M1264.9 205.0h0M1027.3 460.0h0M1259.3 224.5h0M1315.7 273.7h0M1481.7 277.1h0M1626.6 265.5h0M1112.3 470.9h0M968.6 463.2h0M1614.7 269.8h0M946.9 464.8h0M1601.7 257.6h0M1554.3 290.5h0M1558.7 298.0h0M1219.7 404.1h0M1082.0 459.8h0M1353.0 336.1h0M1240.2 301.5h0M1429.3 292.9h0M1076.2 459.5h0M1266.0 229.3h0M1567.9 266.5h0M1347.0 337.4h0M1578.2 290.8h0M1457.0 312.6h0M1037.0 457.3h0M1385.3 314.6h0M1071.2 462.3h0M994.0 462.8h0M1356.9 335.9h0M951.3 454.2h0M981.2 470.1h0M1211.6 435.3h0M1068.7 470.8h0M1398.6 349.4h0M1134.9 451.3h0M1110.2 465.7h0M1321.4 321.1h0M1303.1 251.8h0M1522.0 256.0h0M1504.9 270.2h0M1582.1 268.5h0M1021.1 462.5h0M983.7 460.1h0M1457.8 304.2h0M1218.3 394.9h0M981.6 467.2h0M1306.8 249.0h0M1163.8 471.1h0M1091.3 467.4h0M1398.6 291.2h0M1446.0 301.6h0M1122.8 454.3h0M1399.4 323.0h0M1099.3 463.4h0M1549.1 299.4h0M1217.0 418.0h0M1268.0 226.4h0M1059.8 463.1h0M1262.0 193.3h0M1134.2 454.5h0M1479.8 279.2h0M1037.5 453.7h0M1309.3 298.5h0M1221.0 400.2h0M1567.7 265.4h0M1391.7 354.6h0M1329.1 312.7h0M1045.2 449.9h0M1016.2 467.5h0M1358.0 341.3h0M1572.9 282.1h0M1001.0 477.6h0M1233.0 321.0h0M1197.6 459.0h0M960.5 455.3h0M1371.0 320.4h0M1261.1 212.5h0M1274.2 213.2h0M1511.2 292.0h0M1370.1 314.9h0M1109.0 468.3h0M1600.4 264.7h0M1575.6 285.1h0M1417.6 325.4h0M1028.8 454.2h0M1377.0 342.7h0M946.4 456.6h0M1140.5 451.0h0M1242.0 263.7h0M1259.8 197.3h0M1483.0 282.8h0M1326.3 284.4h0M1386.9 330.7h0M1252.0 226.7h0M1443.9 332.1h0M1072.9 458.1h0M1557.6 302.0h0M1517.9 284.2h0M1567.6 285.5h0M1594.1 272.3h0M1479.2 280.4h0M1143.4 455.1h0M1568.9 279.6h0M1498.3 308.0h0M1267.4 204.8h0M1012.2 470.6h0M1609.8 296.0h0M1090.9 450.3h0M1063.3 465.0h0M1323.2 306.9h0M1531.5 256.1h0M1129.4 440.4h0M1087.7 456.1h0M1480.3 290.6h0M1331.4 328.6h0M1332.5 327.0h0M1351.1 356.1h0M1496.9 295.5h0M1477.4 310.2h0M1125.9 463.2h0M1192.7 462.6h0M1626.1 255.2h0M1516.7 269.8h0M1313.9 264.1h0M1163.6 473.9h0M1559.1 274.1h0M1138.2 450.6h0M1260.9 191.7h0M1350.0 356.6h0M1468.5 273.7h0M1427.4 316.8h0M1413.6 329.7h0M1086.6 478.3h0M1176.2 456.8h0M1456.7 269.0h0M1339.1 347.7h0M1567.5 285.1h0M993.3 457.2h0M1616.3 262.2h0M1281.9 237.7h0M1147.0 458.2h0M1013.6 454.9h0M992.0 461.1h0M1621.4 268.8h0M1481.8 299.7h0M1612.7 271.5h0M1523.1 279.3h0M1239.0 287.3h0M1076.5 471.3h0M1311.5 286.3h0M1108.5 467.2h0M1054.0 460.8h0M1324.0 308.6h0M1334.3 326.8h0M1616.5 263.6h0M1493.6 272.2h0M957.9 456.7h0M1062.3 472.7h0M1326.2 308.3h0M1427.7 307.4h0M1619.7 270.5h0M1320.2 305.4h0M1265.2 204.2h0M952.5 461.7h0M1242.0 296.1h0M1533.6 301.9h0M985.2 462.7h0M1303.4 242.9h0M1593.6 302.3h0M1601.7 285.0h0M956.6 462.0h0M1154.6 461.6h0M1078.0 458.4h0M1614.7 241.3h0M1489.7 296.1h0M1128.3 452.1h0M1208.7 445.7h0M1405.7 347.5h0M962.4 468.4h0M1059.0 463.9h0M1483.4 326.0h0M1153.7 470.8h0M1106.9 465.8h0M1566.1 294.2h0M1436.6 302.0h0M1530.1 224.1h0M1479.1 311.4h0M1295.5 234.0h0M1071.3 478.1h0M1419.3 329.5h0M1318.9 300.2h0M1442.7 299.6h0M1405.3 324.6h0M1483.7 297.7h0M983.1 449.0h0M1057.6 454.9h0M1547.3 295.0h0M1412.5 295.7h0M1536.7 249.1h0M983.7 457.5h0M1300.9 232.9h0M953.8 460.3h0M1052.9 467.1h0M977.5 463.4h0M1074.6 471.0h0M1120.5 456.8h0M994.7 462.1h0M1388.0 326.3h0M1344.2 344.7h0M1412.6 335.5h0M1611.7 275.6h0M1137.5 444.9h0M1111.3 454.3h0M1153.1 475.6h0M1500.5 265.8h0M1391.3 338.2h0M1456.9 281.7h0M1106.1 461.6h0M1036.6 454.5h0M1267.6 211.8h0M1561.6 265.4h0M1122.2 468.0h0M1465.3 332.3h0M1424.2 279.9h0M1195.1 447.5h0M1422.5 295.6h0M1573.2 282.4h0M1089.3 478.1h0M1123.0 470.3h0M1211.2 443.0h0M1080.1 469.5h0M1218.6 399.8h0M1444.5 324.0h0M1529.2 262.8h0M1398.4 324.5h0M1314.8 288.3h0M1573.3 260.6h0M1072.8 465.1h0M1420.5 306.1h0M1204.2 447.0h0M1583.7 297.6h0M1078.2 463.7h0M1119.1 464.4h0M1023.5 465.3h0M1255.4 220.0h0M1414.7 323.7h0M1144.3 455.0h0M1556.9 313.4h0M1491.1 289.9h0M1130.0 460.2h0M1356.9 329.4h0M1392.8 323.4h0M1038.5 463.0h0M1387.7 332.4h0M1372.0 346.9h0M1539.3 276.7h0M1148.1 476.9h0M1039.1 457.2h0M1316.1 305.4h0M1530.3 261.0h0M1027.3 455.2h0M1086.5 457.7h0M1016.9 477.9h0M1618.5 228.0h0M1463.8 299.8h0M1008.5 457.4h0M1523.5 287.1h0M1243.1 267.3h0M961.8 471.2h0M987.1 469.8h0M1114.7 465.6h0M971.7 464.3h0M1060.2 471.0h0M988.6 465.0h0M1041.5 470.6h0M1012.6 466.4h0M1235.0 319.1h0M1508.6 300.0h0M1479.6 298.5h0M1306.6 272.4h0M987.7 460.4h0M1591.7 286.1h0M990.3 453.4h0M953.9 465.0h0M1455.8 306.1h0M1372.0 327.7h0M1462.0 327.3h0M1132.7 459.6h0M1554.2 267.4h0M1539.7 295.7h0M975.4 460.5h0M1597.6 232.7h0M1469.7 302.7h0M1527.4 274.1h0M1272.0 212.5h0M1487.4 294.1h0M1566.8 269.8h0M1557.0 287.5h0M1134.1 447.3h0M1061.9 463.2h0M1387.4 350.5h0M1248.5 253.6h0M1531.1 265.6h0M1253.1 253.9h0M1053.6 464.0h0M1201.0 446.7h0M1601.6 281.4h0M1421.5 310.5h0M1059.9 469.9h0M1073.4 460.5h0M1208.9 434.6h0M1586.6 265.4h0M1297.6 222.3h0M1129.3 458.0h0M1089.4 481.8h0M1114.1 464.0h0M1310.7 286.6h0M1090.5 468.8h0M1017.6 466.4h0M1506.1 278.7h0M1392.0 321.5h0M1351.3 376.4h0M1119.4 464.2h0M1231.7 328.6h0M1544.9 290.3h0M1123.9 459.5h0M1240.2 288.8h0M1012.1 466.2h0M1210.9 425.0h0M1003.1 470.4h0M1470.7 300.8h0M1626.0 251.1h0M996.7 452.8h0M1191.0 468.5h0M1594.5 277.9h0M1027.7 449.0h0M1497.9 297.9h0M1020.6 462.6h0M1260.0 225.5h0M1479.4 318.7h0M1483.4 304.4h0M1493.4 298.8h0M1166.2 479.6h0M1313.2 305.9h0M1033.3 450.8h0M1622.8 275.8h0M1445.5 296.8h0M1213.3 437.6h0M1282.2 206.1h0M1343.0 350.2h0M1189.8 467.9h0M1170.7 466.2h0M1564.1 301.0h0M1053.9 456.9h0M1593.4 264.2h0M1319.6 289.4h0M1259.5 226.7h0M1266.1 205.0h0M955.3 469.6h0M1167.2 461.6h0M1259.4 235.1h0M977.3 464.2h0M953.6 452.7h0M949.6 462.6h0M1367.1 347.4h0M950.2 465.6h0M1595.1 282.0h0M1372.0 353.3h0M1435.2 327.6h0M973.8 468.2h0M1291.8 215.0h0M1086.4 454.0h0M1572.8 290.8h0M1187.7 451.9h0M1080.9 464.6h0M1238.7 299.5h0M1165.5 466.2h0M1043.6 447.4h0M1476.9 293.2h0M1093.5 477.0h0M1564.8 259.7h0M1447.6 300.6h0M1532.9 296.7h0M1442.2 321.7h0M1548.8 293.4h0M1597.8 284.4h0M952.6 450.9h0M1121.5 462.0h0M1562.6 268.5h0M1317.1 299.9h0M1573.7 269.2h0M1260.5 204.3h0M1178.3 461.6h0M1513.1 305.0h0M1124.8 457.2h0M1223.0 386.2h0M1508.9 304.4h0M1211.5 436.4h0M1392.3 319.2h0M1048.7 456.6h0M1088.4 471.3h0M1613.7 266.8h0M1077.1 480.2h0M1057.6 467.2h0M956.3 452.5h0M997.7 467.1h0M1217.7 418.0h0M1365.3 350.8h0M1546.5 289.9h0M1618.8 239.8h0M1187.4 457.5h0M1283.9 225.1h0M1219.7 396.5h0M1261.0 212.7h0M1528.2 281.0h0M1227.3 359.8h0M1452.2 288.8h0M1529.3 271.0h0M1223.9 379.8h0M1177.5 467.8h0M1007.3 459.9h0M1404.6 317.2h0M1490.3 306.0h0M1377.6 323.5h0M1133.5 464.3h0M1424.9 309.5h0M1097.8 469.6h0M1493.8 304.8h0M1587.5 280.4h0M1167.3 455.0h0M1357.2 344.1h0M1255.4 245.0h0M1172.1 464.9h0M1553.2 303.8h0M1160.5 463.8h0M1485.8 296.3h0M1458.9 284.9h0M1021.4 461.8h0M1510.3 277.6h0M1201.2 443.7h0M1196.5 460.2h0M1248.9 229.4h0M1218.0 426.2h0M1232.6 334.6h0M1459.9 291.0h0M1157.4 472.2h0M1053.5 454.7h0M1460.9 301.7h0M1238.0 306.2h0M1312.2 288.8h0M1063.1 476.7h0M1405.6 339.2h0M1363.7 324.3h0M1379.0 315.8h0M1580.3 274.1h0M996.2 467.8h0M1299.7 237.2h0M976.9 463.5h0M1195.7 451.2h0M1383.9 356.1h0M1500.0 281.4h0M1134.2 472.4h0M1556.3 304.3h0M1573.4 292.4h0M1573.2 280.7h0M1243.8 267.5h0M1371.8 336.9h0M1269.9 204.7h0M991.7 459.1h0M1132.1 453.6h0M1516.4 294.0h0M1068.9 466.5h0M1248.7 246.1h0M1405.3 323.0h0M1226.5 357.6h0M1343.2 333.4h0M1330.7 322.4h0M1033.1 450.3h0M972.0 465.0h0M1302.2 230.0h0M1377.7 328.2h0M1325.2 314.7h0M1610.2 250.5h0M1049.4 445.8h0M1004.3 469.4h0M1514.7 281.6h0M1553.4 274.4h0M1606.2 299.1h0M1554.1 319.4h0M1216.4 414.0h0M1332.3 325.5h0M1379.9 373.1h0M1334.5 316.7h0M1231.8 353.2h0M1509.3 307.0h0M1471.2 286.4h0M966.8 452.4h0M1569.2 268.8h0M1232.5 337.1h0M1443.6 312.2h0M1606.8 314.8h0M1389.0 321.9h0M1125.3 461.6h0M1358.9 336.6h0M1239.0 308.3h0M1069.5 468.8h0M1049.5 451.2h0M1468.1 289.5h0M1238.5 303.3h0M1244.7 274.1h0M1188.9 460.7h0M1361.4 354.7h0M1372.6 336.6h0M1486.5 305.9h0M1152.2 461.9h0M1356.0 363.9h0M1291.6 230.5h0M1010.2 454.3h0M1532.6 272.2h0M1361.0 335.0h0M1275.0 211.0h0M1298.6 240.2h0M1302.4 243.2h0M1225.2 373.4h0M1295.1 220.7h0M1507.9 317.1h0M1202.4 448.5h0M1462.7 283.5h0M953.7 456.8h0M1162.3 470.1h0M1452.6 335.3h0M1391.7 356.8h0M1010.8 458.2h0M1189.5 462.9h0M1246.6 239.9h0M1500.8 312.6h0M1019.8 457.7h0M1049.6 462.4h0M1151.2 452.3h0M1222.0 392.6h0M1426.9 297.4h0M1214.0 410.5h0M1435.3 335.7h0M1101.4 455.8h0M1192.2 462.0h0M1472.9 286.9h0M1241.2 283.2h0M1292.3 224.5h0M1234.8 331.4h0M1009.5 463.7h0M1291.5 213.3h0M976.4 457.9h0M1053.1 470.7h0M1446.1 327.4h0M1452.2 295.4h0M1606.9 287.7h0M1456.2 300.3h0M1216.9 420.2h0M1085.4 461.7h0M1087.4 474.4h0M1118.8 457.5h0M1568.1 261.3h0M1237.9 312.5h0M1304.2 255.2h0M1297.5 213.7h0M1024.4 442.5h0M1357.9 347.2h0M948.7 465.2h0M1379.8 327.2h0M1102.9 464.6h0M1599.7 272.9h0M1375.0 327.1h0M1283.7 222.0h0M1025.8 467.1h0M1132.2 462.3h0M1135.9 456.2h0M1580.5 270.5h0M1297.3 233.1h0M1293.8 199.8h0M1267.8 212.2h0M1186.5 457.1h0M1401.0 335.4h0M1263.8 210.1h0M1328.2 313.0h0M1431.0 291.1h0M1385.4 345.7h0M1065.9 462.7h0M1565.4 282.3h0M1061.8 460.4h0M1330.0 298.9h0M1570.9 290.6h0M1616.1 259.8h0M1188.0 455.4h0M1323.4 313.9h0M1387.7 361.6h0M1105.0 463.1h0M1227.9 367.8h0M1356.7 375.4h0M1087.3 466.4h0M1461.3 318.3h0M1625.1 259.0h0M948.2 469.0h0M1624.9 260.4h0M1279.6 226.0h0M1485.2 283.6h0M1283.3 211.7h0M1263.8 206.5h0M999.1 459.8h0M1129.7 467.2h0M971.9 463.9h0M1314.2 293.5h0M1395.4 334.1h0M1219.8 400.1h0M1557.9 291.3h0M1596.0 288.3h0M1111.4 458.6h0M1169.7 461.0h0M1081.4 460.9h0M1092.8 472.7h0M1408.1 347.5h0M1467.1 327.4h0M1606.3 225.0h0M1299.2 244.3h0M1221.6 395.9h0M1591.3 325.9h0M980.1 458.4h0M1302.6 233.4h0M1148.8 460.6h0M1444.3 283.4h0M1167.9 453.8h0M1033.4 462.5h0M1594.6 256.3h0M1600.2 261.2h0M1579.5 300.3h0M1055.6 466.1h0M1164.8 454.4h0M1203.6 456.7h0M1222.4 387.6h0M1303.6 241.7h0M1504.9 297.7h0M1625.7 256.4h0M1460.3 317.6h0M1467.0 305.8h0M1265.6 201.8h0M1148.4 454.9h0M1608.2 283.7h0M1214.1 417.7h0M1603.0 260.5h0M1453.0 263.6h0M1170.2 469.3h0M1085.5 468.3h0M1435.7 307.5h0M1401.1 322.0h0M1338.4 326.8h0M1314.7 286.2h0M1133.2 450.7h0M1568.8 282.3h0M1292.6 244.1h0M1570.1 272.1h0M1494.3 299.1h0M1454.6 326.3h0M1058.3 463.4h0M1041.3 469.9h0M1195.6 460.2h0M1594.5 297.4h0M1034.1 457.1h0M985.8 458.3h0M1081.5 477.3h0M1118.0 462.1h0M1348.6 346.8h0M1029.0 442.8h0M1463.6 295.4h0M1342.7 378.6h0M1353.9 358.8h0M1507.7 321.4h0M1176.6 463.5h0M1591.6 261.1h0M1259.2 221.7h0M1393.8 363.9h0M1483.0 297.7h0M1200.5 447.9h0M1506.4 291.7h0M974.3 453.0h0M1309.3 262.6h0M1302.6 244.2h0M1005.9 467.8h0M1334.0 334.4h0M1614.8 247.1h0M1416.8 293.9h0M1163.5 461.0h0M1357.9 338.0h0M1476.8 308.1h0M1458.5 283.8h0M1455.3 311.1h0M1493.7 292.4h0M1220.7 405.0h0M1455.2 302.3h0M1278.6 191.6h0M1184.6 442.2h0M1247.6 252.3h0M1609.6 253.6h0M1443.3 322.2h0M1282.2 215.9h0M1616.8 291.3h0M1388.2 336.2h0M1332.0 310.8h0M1389.5 307.0h0M1238.7 305.9h0M974.1 459.4h0M1241.0 281.6h0M1114.8 480.5h0M1587.6 295.2h0M1441.3 292.5h0M1026.1 462.9h0M1068.1 454.4h0M972.8 456.2h0M1484.9 308.4h0M1450.0 281.8h0M1171.4 463.2h0M1061.5 464.1h0M1123.2 461.6h0M1349.6 335.0h0M1036.8 448.5h0M969.1 459.7h0M1141.4 462.0h0M1626.8 241.2h0M1039.6 464.4h0M1402.3 351.5h0M1582.5 286.6h0M1550.4 299.5h0M1385.6 350.3h0M1263.8 226.5h0M1447.5 308.5h0M1541.3 281.4h0M1206.9 445.2h0M1325.2 326.7h0M1309.3 260.1h0M953.1 470.6h0M1536.7 258.9h0M1521.2 306.6h0M1541.5 287.3h0M1060.8 482.6h0M1106.8 464.9h0M1283.7 225.4h0M1149.2 448.3h0M1053.5 459.4h0M950.1 463.1h0M1062.3 467.0h0M1060.8 468.3h0M1288.5 222.5h0M1554.5 283.9h0M983.5 468.3h0M975.7 450.7h0M1609.7 262.8h0M952.1 465.7h0M1079.0 467.2h0M1454.1 321.0h0M1351.0 340.1h0M1229.3 353.3h0M1597.0 291.8h0M1020.3 471.5h0M1343.7 328.4h0M1518.5 250.7h0M1556.0 265.3h0M1010.5 451.5h0M1335.2 329.8h0M1109.4 469.2h0M1190.6 455.9h0M1024.7 460.2h0M1005.2 465.5h0M1614.5 270.9h0M1184.1 461.0h0M1265.2 215.0h0M1411.3 345.5h0M1561.6 265.3h0M1513.8 278.0h0M1367.7 342.9h0M1594.0 326.5h0M1127.4 453.9h0M1505.5 307.7h0M1001.7 456.5h0M1445.4 303.1h0M1461.0 286.6h0M1425.1 347.1h0M1391.4 343.1h0M1610.3 261.4h0M1073.9 473.7h0M1284.2 209.7h0M1152.9 463.5h0M1267.0 196.3h0M1465.5 292.6h0M1489.5 303.0h0M1254.2 234.3h0M1006.1 455.1h0M1073.5 461.3h0M1376.5 309.4h0M1394.3 305.7h0M1484.2 291.3h0M1205.8 452.4h0M1352.0 356.4h0M1143.4 461.8h0M1455.1 301.5h0M1028.5 458.2h0M1222.7 385.2h0M1550.2 310.4h0M1410.0 324.4h0M1294.8 241.2h0M1278.8 198.2h0M1022.7 451.2h0M980.7 461.1h0M1546.7 257.3h0M1097.3 476.4h0M1348.9 352.2h0M1092.1 470.6h0M1594.7 275.9h0M1328.2 322.3h0M1132.4 454.7h0M1371.7 356.2h0M1181.2 469.4h0M1082.6 463.9h0M1034.6 452.8h0M1162.3 453.1h0M1613.2 243.7h0M1266.7 226.4h0M1228.7 367.1h0M1250.2 254.4h0M999.0 466.1h0M1542.6 293.6h0M1381.5 346.5h0M1193.1 452.1h0M1226.0 373.1h0M1533.8 289.7h0M1355.1 353.7h0M1168.9 457.7h0M1043.0 453.3h0M1616.2 310.8h0M1324.9 301.6h0M1413.9 317.3h0M1226.9 368.5h0M1195.0 453.9h0M1102.1 472.1h0M1285.5 215.4h0M1516.0 294.8h0M973.2 462.5h0M1320.7 308.2h0M1328.5 315.6h0M1054.6 456.5h0M977.6 458.7h0M1320.3 291.9h0M1238.7 298.0h0M1454.4 305.5h0M1341.2 346.9h0M1207.9 433.7h0M1365.7 331.5h0M1370.0 334.5h0M1143.9 467.7h0M1109.6 464.9h0M1545.7 288.0h0M1313.0 296.3h0M1138.6 462.3h0M1546.5 274.6h0M1201.1 461.8h0M1059.4 463.2h0M1092.1 476.7h0M1138.6 461.7h0M1448.5 316.1h0M1131.9 469.0h0M1575.3 275.4h0M1028.5 449.2h0M1229.4 360.2h0M1430.0 315.5h0M1610.9 266.1h0M1508.7 293.9h0M1191.0 445.6h0M1162.7 463.9h0M961.5 456.5h0M1065.6 467.5h0M1021.5 458.8h0M1396.9 332.6h0M980.8 466.6h0M976.0 469.3h0M1467.0 296.5h0M977.5 455.8h0M1346.6 339.1h0M974.9 470.0h0M1243.2 255.6h0M1623.7 260.0h0M1152.0 463.0h0M1617.3 270.0h0M1352.7 321.7h0M1479.9 297.4h0M1135.2 443.1h0M1326.8 305.8h0M1186.7 450.4h0M1054.0 446.7h0M1564.0 308.0h0M1623.4 250.9h0M1204.4 433.6h0M1137.5 449.1h0M1426.8 311.3h0M992.2 465.4h0M1042.0 457.9h0M975.0 451.5h0M1370.4 357.1h0M1584.2 285.1h0M1313.2 298.4h0M974.4 469.8h0M1304.7 252.2h0M1496.2 319.5h0M1050.1 459.0h0M1195.5 459.9h0M1246.5 239.4h0M1207.1 428.5h0M1617.9 243.1h0M1429.4 321.7h0M1355.8 350.5h0M1006.6 455.2h0M1134.4 453.9h0M1202.5 443.5h0M1291.5 223.7h0M1294.7 238.4h0M1262.4 224.3h0M1420.8 316.3h0M1256.5 225.6h0M1230.5 355.7h0M1019.8 451.0h0M1572.4 279.5h0M1349.2 355.9h0M1010.6 462.9h0M1127.8 456.2h0M1360.3 333.8h0M1360.0 332.9h0M955.7 468.1h0M1569.6 280.6h0M1148.1 449.6h0M1553.6 251.7h0M1522.7 274.2h0M1574.4 303.9h0M1070.0 463.6h0M1357.9 335.5h0M1090.3 473.4h0M1417.2 317.5h0M1504.3 293.1h0M1234.0 326.7h0M1128.1 457.2h0M955.0 463.5h0M1592.9 295.7h0M965.1 457.8h0M1402.2 326.4h0M1526.8 277.6h0M1181.9 441.7h0M1070.0 462.6h0M1187.5 453.3h0M1408.7 340.9h0M1562.0 265.3h0M1154.3 469.1h0M1266.7 209.4h0M1273.8 215.5h0M1066.8 473.9h0M1008.8 461.3h0M1423.1 308.9h0M1160.3 464.7h0M977.6 463.2h0M1180.5 473.5h0M1067.7 464.6h0M1115.8 467.8h0M1082.0 477.3h0M1377.8 350.1h0M1177.6 459.7h0M1169.3 455.3h0M1440.6 324.8h0M1239.5 312.9h0M1380.5 344.4h0M1462.2 317.3h0M975.7 462.4h0M1487.8 310.2h0M1445.1 327.4h0M1550.7 284.4h0M1284.8 232.8h0M1390.0 337.4h0M1086.7 462.5h0M1143.9 460.7h0M996.4 461.2h0M958.0 461.3h0M1096.2 470.3h0M1117.4 460.6h0M1109.6 465.9h0M950.6 458.9h0M952.7 466.6h0M1610.0 256.0h0M1445.5 284.6h0M1152.7 469.0h0M1062.2 450.6h0M1105.4 461.8h0M1141.6 456.6h0M951.2 467.4h0M1365.5 337.5h0M1174.1 461.3h0M1033.1 445.8h0M1536.2 289.3h0M1491.0 281.2h0M1323.5 308.8h0M1473.6 282.1h0M1305.4 265.9h0M1086.8 461.8h0M1612.5 244.7h0M1315.5 306.6h0M986.5 456.9h0M1034.1 459.9h0M1200.1 452.9h0M1470.1 271.2h0M1537.8 290.4h0M1623.6 241.9h0M1398.0 337.0h0M1545.2 286.3h0M1394.7 335.4h0M1577.2 266.1h0M1610.2 283.8h0M1268.8 200.3h0M1137.0 448.8h0M1263.1 226.6h0M1259.8 231.8h0M1095.9 452.7h0M1534.3 268.8h0M1550.4 282.9h0M1073.5 446.6h0M1199.2 446.5h0M1282.8 229.7h0M991.0 454.5h0M951.5 470.0h0M1344.3 372.8h0M1140.9 456.5h0M1469.9 283.5h0M1443.4 307.2h0M1176.1 451.7h0M1308.8 279.9h0M1258.8 226.3h0M1467.3 273.4h0M1166.4 457.7h0M1510.5 284.7h0M1414.4 341.4h0M1267.8 220.1h0M1163.5 458.6h0M1343.6 347.8h0M1530.0 265.0h0M1016.0 462.7h0M1568.4 276.3h0M1465.0 330.9h0M1100.5 467.4h0M955.2 456.9h0M1312.2 263.3h0M988.0 451.7h0M1585.3 293.7h0M1254.3 239.1h0M1206.5 454.6h0M951.3 453.8h0M1292.7 232.9h0M1416.1 304.3h0M1330.5 327.5h0M1595.6 291.2h0M1454.2 304.9h0M1418.3 317.1h0M1250.4 229.9h0M1281.0 211.1h0M1325.1 286.1h0M1605.2 284.8h0M1528.4 254.1h0M1031.2 459.3h0M1034.5 457.9h0M1446.6 316.1h0M1146.4 458.1h0M1193.2 454.6h0M1063.3 466.3h0M977.8 468.2h0M1086.4 465.6h0M1456.1 286.5h0M1359.3 347.6h0M1257.4 223.6h0M1439.0 321.0h0M1402.2 341.5h0M1082.6 469.4h0M974.8 469.2h0M962.8 460.3h0M963.1 462.7h0M1331.6 315.4h0M1068.6 476.3h0M1409.6 340.2h0M977.7 455.0h0M1366.6 327.5h0M1202.0 461.2h0M1163.7 465.2h0M1519.5 305.3h0M1465.2 335.9h0M1351.5 352.2h0M1616.1 269.0h0M1484.2 308.8h0M945.4 456.0h0M1295.9 207.6h0M1304.9 273.8h0M1299.1 225.0h0M1486.6 294.8h0M1119.1 472.1h0M1396.3 339.1h0M1610.1 285.6h0M1029.5 461.1h0M1432.3 294.2h0M1397.5 326.3h0M1227.7 365.2h0M1570.5 266.5h0M1003.4 468.7h0M1140.5 460.9h0M1479.7 270.1h0M1546.8 289.9h0M1499.0 292.1h0M1172.3 461.4h0M1264.9 221.3h0M1119.5 448.4h0M1504.5 281.8h0M1573.5 285.8h0M1387.4 315.5h0M1054.2 470.9h0M1374.2 291.4h0M1524.3 291.8h0M1544.8 291.7h0M1278.1 206.5h0M1428.5 316.9h0M1443.9 294.7h0M1156.4 475.7h0M1418.5 322.0h0M1319.8 310.1h0M1298.9 237.0h0M1206.9 432.7h0M1242.1 258.2h0M1218.3 407.0h0M1396.4 358.2h0M1311.2 281.1h0M1333.6 321.0h0M1095.1 469.4h0M1419.2 316.1h0M1249.6 251.7h0M1009.6 464.7h0M1207.0 444.9h0M1090.4 482.9h0M1431.3 304.7h0M1029.6 451.8h0M991.1 460.2h0M1184.4 455.0h0M1007.3 456.7h0M1361.3 353.7h0M973.1 464.7h0M993.1 449.7h0M1164.0 458.5h0M1167.7 459.8h0M1032.4 445.2h0M1445.5 315.1h0M1508.0 294.2h0M1247.1 258.5h0M1357.4 339.3h0M1080.0 463.5h0M1514.6 287.7h0M986.0 461.9h0M1130.3 455.9h0M1346.1 353.5h0M1000.4 456.5h0M1319.8 315.1h0M1378.7 339.9h0M1220.8 389.0h0M1529.8 251.3h0M1197.3 453.8h0M1204.0 454.0h0M1499.7 298.8h0M1500.7 320.7h0M1594.9 294.0h0M997.2 470.7h0M1333.2 302.6h0M947.5 457.0h0M1245.5 263.7h0M1427.4 319.3h0M1482.6 291.5h0M1083.9 465.2h0M1271.3 185.3h0M1039.2 466.5h0M1317.2 306.6h0M1284.4 211.7h0M1624.4 258.5h0M1368.4 328.8h0M1437.9 325.2h0M1000.6 459.8h0M1345.1 362.1h0M1183.2 455.4h0M1337.6 319.3h0M1139.3 446.1h0M1141.6 460.5h0M1395.0 327.0h0M1235.8 320.6h0M1336.6 343.2h0M1471.8 299.9h0M976.7 471.6h0M1059.1 460.0h0M1159.9 457.0h0M976.5 463.0h0M1025.7 457.1h0M1513.9 310.6h0M1033.9 445.9h0M1283.9 204.4h0M1252.2 246.7h0M1303.9 237.1h0M1036.9 456.8h0M1152.4 457.5h0M1428.4 314.2h0M1063.1 478.6h0M1228.3 370.7h0M1434.6 311.3h0M1122.2 473.8h0M1017.3 452.4h0M952.2 461.8h0M1619.2 291.5h0M961.1 448.6h0M1091.2 461.0h0M1459.3 283.8h0M1032.1 455.6h0M1000.4 467.0h0M1466.6 320.6h0M1600.0 297.1h0M1617.6 283.1h0M1407.4 336.9h0M1323.9 302.5h0M1356.3 336.4h0M1458.1 299.6h0M1139.5 451.3h0M1420.0 301.7h0M1379.3 342.1h0M985.8 455.4h0M1497.3 294.1h0M1343.5 373.5h0M1113.0 465.2h0M1462.5 306.0h0M1128.7 457.7h0M1261.0 205.2h0M1420.7 328.9h0M1221.7 386.6h0M1314.5 283.5h0M1553.1 273.9h0M1463.8 303.4h0M1235.5 318.8h0M1380.7 302.0h0M1319.2 290.1h0M1518.2 274.6h0M979.0 474.1h0M1338.4 320.7h0M1526.5 278.3h0M1625.1 275.2h0M1071.8 473.6h0M950.5 457.6h0M1528.6 286.6h0M1112.7 463.5h0M1126.4 460.2h0M1313.0 273.1h0M1387.9 309.7h0M1466.8 287.6h0M1204.0 435.2h0M1187.0 463.3h0M1574.8 286.4h0M1246.6 275.2h0M986.4 450.8h0M1327.0 292.6h0M1271.3 207.3h0M968.9 460.6h0M1155.5 467.6h0M1149.0 450.3h0M1495.2 268.7h0M1418.4 305.1h0M1582.9 329.5h0M1545.2 261.7h0M1570.9 268.7h0M1377.1 344.9h0M1077.2 470.7h0M1243.2 266.7h0M1291.4 187.6h0M1593.4 291.1h0M1527.9 262.1h0M1422.8 337.7h0M1519.7 275.5h0M1002.4 464.6h0M1227.2 347.3h0M1280.7 215.3h0M1294.1 223.9h0M1033.6 454.5h0M1186.5 460.2h0M1481.1 302.2h0M1442.4 298.9h0M1477.0 303.3h0M1246.9 270.6h0M1097.4 468.8h0M1258.9 218.4h0M1591.9 287.2h0M1161.7 461.4h0M1141.4 459.4h0M1439.7 320.9h0M1276.4 208.3h0M1075.2 471.4h0M1262.4 232.6h0M1518.8 273.7h0M1453.2 289.3h0M1264.7 207.7h0M1003.1 465.9h0M1492.1 304.3h0M1325.0 303.2h0M1103.4 445.2h0M963.0 461.3h0M1035.1 461.4h0M1006.6 463.6h0M1277.8 205.2h0M1166.8 447.7h0M1478.0 287.7h0M1335.1 315.4h0M1440.1 317.3h0M1263.6 230.4h0M1309.2 276.4h0M1504.5 290.8h0M1574.4 293.2h0M964.9 454.8h0M1453.4 313.9h0M1054.7 462.3h0M1389.5 329.8h0M1342.5 350.1h0M1059.2 464.3h0M1401.9 356.7h0M1151.6 460.5h0M1465.2 295.5h0M1541.0 299.8h0M1261.0 220.5h0M988.9 463.7h0M1442.3 340.5h0M1533.4 234.3h0M1153.5 451.9h0M1456.5 292.3h0M1417.1 345.1h0M1199.3 462.3h0M1071.9 469.5h0M1180.2 457.2h0M1135.4 450.0h0M1429.4 327.0h0M1332.7 329.9h0M1452.2 296.7h0M1591.0 303.7h0M1514.5 315.3h0M1462.0 288.0h0M1300.7 244.0h0M1405.2 317.9h0M1184.3 462.2h0M1262.0 203.1h0M1034.6 460.6h0M1123.2 475.6h0M1319.0 298.0h0M1071.9 478.2h0M1568.3 306.7h0M1242.3 292.1h0M1367.1 337.1h0M1185.9 449.7h0M1379.2 338.4h0M1602.1 290.7h0M1320.0 299.7h0M1159.7 458.0h0M1624.5 241.5h0M1616.5 310.6h0M1344.4 320.7h0M1039.9 465.7h0M979.6 459.1h0M1075.7 476.5h0M1359.9 366.8h0M1264.3 202.9h0M1377.9 335.6h0M1339.2 334.4h0M1364.1 351.8h0M1256.1 227.8h0M946.0 468.5h0M1257.9 230.5h0M1540.6 269.4h0M1373.3 353.1h0M1109.8 466.9h0M1165.1 468.1h0M1202.1 446.5h0M1117.4 467.4h0M992.4 460.0h0M1570.4 304.0h0M1514.1 294.3h0M1109.7 447.4h0M1418.7 333.9h0M1023.0 463.4h0M1061.5 465.2h0M1286.4 230.3h0M1470.1 274.2h0M969.2 463.4h0M1562.3 273.0h0M1095.0 468.9h0M1081.4 464.0h0M1558.4 265.6h0M1090.5 466.6h0M1120.9 449.9h0M1602.5 279.4h0M1052.5 467.0h0M1093.6 476.9h0M1142.7 461.3h0M1256.8 222.2h0M1249.6 236.6h0M1118.9 461.2h0M1285.8 234.6h0M1108.4 456.9h0M1282.6 212.0h0M1362.3 315.9h0M1526.7 295.0h0M989.6 454.1h0M1163.0 455.1h0M1333.2 298.5h0M1565.8 287.6h0M998.3 460.6h0M1385.1 331.9h0M1257.0 211.2h0M1265.1 207.0h0M971.4 469.2h0M1209.5 426.9h0M1140.1 459.1h0M1257.5 240.0h0M1134.6 451.0h0M1543.4 289.5h0M1475.5 306.0h0M1565.4 270.1h0M1148.9 458.7h0M1327.3 323.4h0M1364.8 354.1h0M1003.9 457.4h0M1048.7 450.1h0M1241.9 281.1h0M1286.0 221.1h0M1012.9 464.8h0M1233.0 344.5h0M973.4 469.1h0M1034.3 465.0h0M1448.8 299.7h0M1403.6 354.7h0M1530.0 292.1h0M1461.5 294.0h0M1441.6 300.9h0M1346.1 329.5h0M1022.0 455.8h0M1430.8 315.4h0M1045.6 458.5h0M1420.1 331.3h0M1608.5 273.0h0M1527.8 260.2h0M1567.7 302.3h0M1176.1 450.7h0M1306.8 271.3h0M1294.1 227.7h0M1372.2 341.2h0M1622.1 250.2h0M1005.7 462.4h0M1207.9 453.7h0M1283.7 211.0h0M1337.8 337.9h0M1094.9 467.9h0M1289.8 186.8h0M1574.1 272.5h0M1115.6 464.3h0M998.6 457.6h0M1292.8 223.0h0M1360.0 330.2h0M1590.5 310.3h0M1494.2 305.0h0M1289.7 220.1h0M1447.5 293.4h0M1107.0 470.0h0M1575.6 283.7h0M1621.0 274.1h0M1162.4 467.8h0M1504.2 275.4h0M1082.4 472.0h0M1017.3 443.0h0M1394.1 297.5h0M1626.2 253.6h0M1337.0 353.3h0M1437.0 319.2h0M1159.8 466.8h0M1586.5 269.0h0M1021.2 457.7h0M1113.4 465.5h0M1481.8 260.4h0M1581.2 268.9h0M1540.1 268.2h0M1448.9 317.8h0M1093.5 475.4h0M1181.9 455.4h0M1335.3 346.0h0M1367.0 341.5h0M1310.5 269.6h0M1450.7 324.0h0M1101.4 458.6h0M1159.6 458.2h0M960.3 448.8h0M964.6 452.9h0M1436.3 275.2h0M1266.9 239.1h0M1073.2 471.3h0M998.7 475.0h0M1306.6 238.5h0M1616.9 233.0h0M1561.7 306.3h0M1450.0 298.4h0M1499.3 293.3h0M1166.0 460.0h0M1017.6 449.7h0M1230.3 344.5h0M1618.9 295.0h0M1187.8 449.5h0M1575.0 303.7h0M1399.1 341.7h0M1487.0 308.7h0M1127.4 467.8h0M1187.4 450.4h0M1065.9 470.8h0M1280.5 220.4h0M1021.7 477.8h0M1555.6 291.4h0M1122.6 467.8h0M1121.1 462.3h0M978.1 464.0h0M1525.3 278.2h0M1095.2 466.2h0M1103.9 471.1h0M1463.2 303.3h0M1282.7 223.0h0M1135.7 464.8h0M1521.0 265.0h0M959.9 455.7h0M1515.4 288.3h0M1429.7 322.8h0M1444.4 334.6h0M1101.6 449.4h0M1287.3 210.7h0M1359.5 333.2h0M993.3 462.3h0M1586.0 278.3h0M1352.6 325.5h0M1015.9 452.7h0M1287.5 208.7h0M1591.0 254.6h0M1575.3 263.3h0M1351.5 340.3h0M1095.2 473.4h0M1378.9 335.4h0M1217.4 404.7h0M1315.5 281.1h0M1494.5 294.9h0M1443.8 325.0h0M1266.3 225.7h0M1590.2 268.9h0M1464.9 291.0h0M1132.9 459.6h0M1559.7 288.0h0M979.8 453.8h0M994.0 465.7h0M1438.7 321.8h0M1252.3 242.2h0M1432.6 342.1h0M972.0 467.5h0M980.5 460.2h0M1283.9 200.8h0M1116.5 460.9h0M1323.9 301.0h0M1276.0 224.8h0M1281.5 214.7h0M1581.8 261.3h0M1048.3 456.3h0M1437.7 333.2h0M1376.8 324.5h0M1375.1 337.2h0M1109.6 469.8h0M1495.8 304.7h0M1574.2 258.2h0M1526.1 250.4h0M1352.5 337.7h0M1598.1 287.5h0M1529.4 276.5h0M1267.0 202.4h0M1371.5 336.3h0M1625.3 261.6h0M971.3 448.6h0M1561.9 262.5h0M1184.8 458.9h0M1453.5 319.1h0M1294.0 223.2h0M1043.5 460.5h0M1011.7 470.3h0M1496.3 286.2h0M1606.5 272.3h0M1535.6 268.4h0M1414.5 353.1h0" stroke="#cde2cd" stroke-width="7.8" stroke-linecap="round" fill="none"/>
<path d="M1312.3 434.1h0M1179.4 452.3h0M1197.0 441.7h0M1200.7 468.4h0M1618.6 403.8h0M1376.8 433.2h0M1405.1 422.1h0M1170.3 460.8h0M1408.9 429.3h0M1029.2 461.7h0M980.6 479.0h0M1525.0 404.4h0M951.4 460.4h0M1612.7 408.2h0M1509.2 395.4h0M1480.7 388.0h0M978.1 468.1h0M1086.8 470.5h0M1524.8 395.8h0M1240.2 395.2h0M1373.2 413.4h0M1028.7 466.1h0M1072.4 460.8h0M1284.4 384.5h0M1463.2 397.2h0M1313.4 444.9h0M1018.2 452.8h0M1536.0 390.1h0M1040.5 466.3h0M1245.1 391.2h0M1345.5 433.7h0M1162.9 452.7h0M1230.4 407.6h0M1550.1 425.5h0M1255.0 367.0h0M1313.0 430.9h0M1607.1 417.0h0M1133.5 463.9h0M1555.5 429.4h0M1192.0 460.4h0M1158.1 458.0h0M1546.3 393.1h0M990.0 459.8h0M1536.3 418.1h0M1509.8 382.1h0M1555.4 404.9h0M986.0 455.3h0M1108.1 461.1h0M1473.9 418.0h0M1243.2 391.7h0M948.9 466.0h0M1417.6 416.4h0M1490.7 374.8h0M1609.2 396.4h0M1048.0 458.8h0M1117.1 460.7h0M1519.0 372.2h0M1007.9 460.2h0M1132.3 469.6h0M1253.4 377.0h0M1230.6 420.0h0M1315.4 432.3h0M1537.7 401.3h0M1375.8 425.0h0M1391.3 438.2h0M1349.1 453.1h0M1089.1 449.9h0M1251.9 393.3h0M1618.7 403.9h0M1565.3 403.0h0M1468.6 411.2h0M1309.2 429.4h0M1537.8 425.8h0M1375.5 440.7h0M1216.4 441.0h0M1304.2 432.1h0M1080.7 452.1h0M1335.9 438.1h0M1159.2 457.4h0M1478.1 382.2h0M1509.6 409.0h0M1623.0 412.2h0M1514.7 390.8h0M985.7 464.4h0M1439.2 415.1h0M1496.4 394.2h0M1540.1 383.3h0M1280.6 386.6h0M1269.8 391.9h0M1307.3 430.3h0M1050.9 462.7h0M1597.8 390.2h0M1618.3 400.0h0M1124.6 443.1h0M1598.1 391.7h0M1087.3 472.5h0M1003.1 474.9h0M1444.6 414.7h0M1502.0 396.2h0M1081.5 452.6h0M1595.7 405.9h0M1217.9 437.1h0M1072.0 478.2h0M1150.3 464.5h0M1022.2 460.0h0M1471.6 377.5h0M1139.9 469.4h0M1418.1 424.3h0M1259.6 406.8h0M1030.5 469.1h0M1345.7 435.0h0M1604.8 416.3h0M1071.4 468.6h0M1601.7 399.6h0M1025.8 472.1h0M1338.4 458.4h0M1063.7 457.5h0M1624.5 381.4h0M1320.2 440.3h0M1539.7 404.8h0M1427.7 421.2h0M1251.2 373.9h0M1122.3 472.6h0M1540.0 377.6h0M1549.0 418.6h0M1479.9 386.7h0M1495.5 370.5h0M973.8 454.8h0M1094.7 463.3h0M1323.4 454.8h0M998.9 471.4h0M1347.8 434.0h0M1591.2 401.7h0M1186.6 470.3h0M1416.1 433.7h0M1083.0 479.7h0M1488.4 385.6h0M1556.6 408.1h0M1501.2 389.9h0M1245.8 388.6h0M1182.8 449.9h0M1002.4 462.7h0M1523.5 379.9h0M1561.6 405.5h0M1326.1 449.3h0M1466.4 403.6h0M1100.7 464.4h0M1460.8 403.0h0M1115.6 451.8h0M1442.4 406.3h0M953.5 460.3h0M1207.6 443.0h0M1107.7 470.5h0M972.9 447.0h0M1122.2 453.2h0M1571.7 386.0h0M1151.6 459.1h0M1024.7 452.9h0M1400.0 414.2h0M1471.9 380.3h0M1180.4 455.3h0M1574.8 379.7h0M1420.7 434.8h0M1311.9 428.9h0M1556.7 417.4h0M1497.0 388.6h0M1357.3 436.9h0M1116.6 460.9h0M1301.6 420.1h0M1368.5 446.8h0M1556.9 411.2h0M1585.5 402.3h0M987.2 460.9h0M1304.5 403.1h0M1584.4 396.1h0M1239.2 389.0h0M1459.3 427.4h0M1102.0 459.1h0M1539.3 404.3h0M1064.2 461.1h0M1123.9 456.1h0M1112.9 469.3h0M1042.2 455.9h0M1401.8 437.1h0M1520.0 373.8h0M1052.7 457.7h0M1081.1 475.1h0M1216.3 442.1h0M1150.5 462.4h0M1380.3 431.8h0M1025.1 461.8h0M1342.6 407.4h0M1288.8 381.6h0M1025.4 468.0h0M1250.9 384.4h0M1200.9 443.4h0M991.3 452.4h0M1167.5 469.4h0M1383.6 422.7h0M1542.2 399.4h0M1594.9 396.8h0M1447.6 401.7h0M1223.6 434.0h0M1046.8 466.2h0M1411.1 422.3h0M1336.1 434.3h0M1532.5 390.4h0M1120.0 470.4h0M1393.2 413.4h0M1009.0 463.3h0M1156.4 466.5h0M1239.3 405.7h0M1494.5 395.6h0M1182.4 463.9h0M1367.3 426.5h0M1617.7 398.5h0M1590.6 401.6h0M1271.0 397.5h0M1088.0 468.1h0M1365.0 415.4h0M1486.4 393.0h0M1350.3 448.0h0M1455.2 412.2h0M1090.8 473.8h0M1140.2 458.9h0M1051.8 460.8h0M984.6 440.2h0M1259.3 397.5h0M1472.5 375.1h0M1200.6 450.4h0M1595.2 390.8h0M1184.9 455.0h0M1204.9 457.9h0M1526.5 378.4h0M1395.5 434.5h0M1309.7 414.0h0M1106.3 462.2h0M1005.0 464.9h0M1057.0 460.2h0M1058.1 459.5h0M1230.9 410.9h0M1170.8 459.0h0M1318.4 437.5h0M1122.5 463.6h0M1410.9 420.6h0M1590.5 427.2h0M1503.0 387.7h0M1338.4 455.9h0M1121.7 459.6h0M1484.7 407.8h0M1515.5 409.3h0M1009.5 459.0h0M1522.5 406.8h0M1572.8 421.7h0M1083.3 451.7h0M1070.4 453.0h0M1440.6 405.7h0M1272.9 407.6h0M995.7 466.4h0M1363.6 421.9h0M1510.7 394.4h0M1442.5 418.0h0M980.0 455.1h0M974.4 458.7h0M1298.5 413.8h0M1393.8 436.7h0M1573.1 409.0h0M1430.2 414.0h0M1407.6 425.4h0M1542.1 387.6h0M1222.7 432.6h0M1062.5 463.0h0M1023.7 460.6h0M1188.8 463.0h0M1534.8 389.1h0M1319.6 443.8h0M975.0 461.9h0M1563.8 414.4h0M1507.0 385.3h0M983.4 460.2h0M1481.3 393.4h0M1069.7 457.8h0M979.6 468.9h0M1215.1 445.3h0M1426.4 404.5h0M1128.7 467.1h0M1239.8 388.6h0M1517.6 400.5h0M1028.1 468.9h0M1382.0 417.1h0M1160.1 471.4h0M987.2 467.8h0M1466.0 382.3h0M1405.1 442.6h0M1259.7 374.6h0M1263.7 376.0h0M1210.1 461.8h0M1409.0 410.8h0M951.7 444.9h0M1019.4 461.8h0M1003.3 460.8h0M1019.2 454.0h0M1323.0 442.8h0M1229.6 402.9h0M1393.2 419.8h0M1301.5 426.6h0M1479.0 383.9h0M1424.5 409.9h0M969.1 458.2h0M1004.9 453.2h0M1398.7 416.3h0M1526.9 396.7h0M1508.0 390.3h0M1007.6 460.5h0M1355.1 421.8h0M1047.6 464.0h0M1150.5 463.6h0M1525.5 406.6h0M1369.2 421.9h0M1516.4 388.5h0M1357.7 416.9h0M1561.3 403.9h0M1132.2 465.6h0M1272.2 396.8h0M1582.9 407.3h0M1466.3 413.7h0M979.8 473.2h0M1088.8 464.8h0M1198.5 459.2h0M1380.5 419.9h0M1143.2 461.4h0M1517.4 407.4h0M1496.4 388.9h0M1230.2 432.3h0M1117.4 465.6h0M1106.6 468.6h0M1099.7 465.4h0M1284.7 417.3h0M1316.0 433.7h0M1554.1 414.1h0M1284.7 398.9h0M1328.9 429.5h0M1101.1 462.6h0M1615.0 403.1h0M1270.3 383.5h0M1048.5 469.1h0M1143.1 453.4h0M1443.9 411.3h0M1128.9 466.2h0M1622.3 424.4h0M1327.3 434.4h0M1485.4 389.7h0M1354.8 418.4h0M1413.2 432.9h0M1214.5 440.4h0M1497.2 390.1h0M1495.2 405.0h0M1494.1 390.4h0M1374.0 435.1h0M1488.2 400.1h0M1491.3 387.2h0M1104.0 462.2h0M977.3 470.0h0M1573.2 402.1h0M1211.2 450.7h0M997.5 453.6h0M1538.5 401.9h0M1519.6 412.2h0M1363.2 427.1h0M1016.0 463.9h0M1537.9 414.4h0M1277.2 416.4h0M1005.5 450.5h0M1065.6 469.9h0M1041.6 472.4h0M1537.6 404.0h0M1550.4 426.6h0M1580.4 384.1h0M1165.8 450.8h0M1343.7 435.8h0M1365.1 437.5h0M1191.3 451.4h0M956.9 463.6h0M986.6 458.5h0M1000.2 477.0h0M1252.9 377.5h0M1227.0 435.8h0M964.0 448.2h0M986.8 461.6h0M1205.7 452.1h0M1386.0 414.8h0M1288.2 395.3h0M1459.7 409.7h0M1325.8 429.7h0M1005.4 458.6h0M1018.1 460.1h0M1188.9 462.9h0M1357.2 436.4h0M1535.7 395.2h0M1544.3 414.0h0M1600.1 404.2h0M1532.1 430.3h0M1220.5 437.3h0M1326.9 435.3h0M986.6 454.6h0M1586.9 417.8h0M1346.3 434.0h0M975.0 463.3h0M1550.1 414.2h0M1434.6 414.0h0M1617.1 412.1h0M1012.3 458.4h0M1234.6 397.5h0M1018.5 451.6h0M1586.8 375.9h0M1048.0 455.2h0M1435.0 395.2h0M1406.9 436.6h0M1355.9 418.6h0M1270.1 415.5h0M1238.2 395.1h0M1488.3 384.9h0M1356.7 446.8h0M1176.8 462.2h0M1443.9 411.4h0M1402.2 427.5h0M1245.2 401.8h0M1424.0 412.4h0M1058.2 453.5h0M1237.0 397.9h0M1478.2 396.6h0M1483.1 366.6h0M1458.6 390.0h0M1626.0 398.7h0M1211.4 444.7h0M1568.5 396.7h0M1474.6 371.0h0M1464.6 396.0h0M1164.9 447.1h0M1007.5 466.9h0M1469.9 393.1h0M988.0 467.3h0M1395.0 446.4h0M955.9 465.0h0M1071.7 463.0h0M1247.9 377.8h0M1514.4 389.9h0M1149.8 464.4h0M1574.2 408.3h0M1587.5 421.5h0M1457.4 398.0h0M1182.2 453.7h0M1254.6 403.4h0M1606.8 408.1h0M1332.2 423.6h0M1350.7 445.3h0M1330.6 432.0h0M1052.8 458.8h0M1621.4 394.5h0M1349.1 444.5h0M1408.2 437.8h0M1499.2 416.2h0M1282.0 395.3h0M1114.4 459.5h0M1584.1 401.4h0M1066.2 464.2h0M1196.8 453.6h0M1424.9 405.9h0M1247.1 375.2h0M1350.8 433.0h0M1096.8 460.7h0M1522.6 417.9h0M1534.1 404.0h0M1245.0 386.5h0M1570.2 390.5h0M1537.8 410.7h0M1387.1 428.2h0M1100.7 470.5h0M966.6 463.1h0M1580.6 412.5h0M1577.7 397.3h0M1363.8 438.0h0M1312.2 444.1h0M1445.7 409.1h0M1215.0 457.4h0M1163.2 461.4h0M1182.3 476.8h0M1182.1 472.1h0M1314.3 443.5h0M954.6 471.3h0M1098.5 476.8h0M1328.5 429.4h0M1549.0 415.9h0M1302.9 421.6h0M1136.7 462.5h0M1588.3 408.5h0M1528.4 414.1h0M1128.5 456.4h0M1622.3 399.2h0M1419.5 407.5h0M1122.1 466.3h0M1361.4 426.1h0M1168.4 466.3h0M1575.3 411.8h0M1364.2 444.2h0M980.0 448.1h0M1296.8 413.3h0M1317.4 433.9h0M1504.2 386.0h0M1588.6 382.5h0M1408.6 432.8h0M1340.9 462.3h0M1307.8 413.9h0M1062.8 461.4h0M1448.3 418.6h0M1286.9 370.5h0M1216.2 458.2h0M1457.0 397.7h0M1188.9 467.9h0M1425.4 455.0h0M1167.9 463.1h0M1074.8 455.6h0M1326.4 433.2h0M1570.3 392.6h0M1074.2 467.9h0M1047.7 456.3h0M1162.9 469.6h0M1531.4 392.9h0M1257.7 415.6h0M1202.5 443.3h0M1196.9 462.3h0M1169.3 450.8h0M1318.3 445.3h0M1223.5 432.8h0M1046.4 449.2h0M1447.4 401.1h0M1049.9 457.8h0M1317.4 416.4h0M1276.4 390.4h0M956.1 455.7h0M1112.4 461.5h0M1491.9 401.3h0M1516.6 397.3h0M1533.3 396.9h0M1040.9 461.5h0M1453.7 415.1h0M1184.5 457.1h0M1099.7 462.7h0M1076.7 446.3h0M1545.5 391.4h0M1613.6 413.1h0M1322.0 430.0h0M1587.6 401.1h0M1039.1 465.3h0M948.8 473.6h0M1260.8 376.8h0M1553.4 381.8h0M1294.3 419.4h0M1122.1 462.3h0M1572.9 387.4h0M1384.4 413.8h0M1181.6 446.0h0M1340.3 426.5h0M1388.2 426.9h0M998.7 471.7h0M1320.8 426.5h0M1357.3 427.0h0M1002.6 456.5h0M1067.7 452.3h0M968.1 463.3h0M1096.5 464.2h0M967.0 459.5h0M1345.5 444.8h0M1501.8 377.3h0M1019.0 459.9h0M1542.4 397.4h0M1109.2 466.4h0M945.7 456.5h0M1230.6 408.8h0M1150.4 456.5h0M1187.9 460.7h0M1162.3 457.9h0M1477.5 386.3h0M1198.1 446.3h0M1517.3 384.7h0M1405.9 432.7h0M1410.5 415.3h0M1469.9 408.0h0M1063.7 474.7h0M1576.7 413.6h0M1334.9 439.8h0M958.0 465.9h0M1080.8 467.1h0M1565.0 398.4h0M1379.1 425.6h0M947.8 461.7h0M1014.6 454.1h0M1600.0 397.7h0M1092.2 475.1h0M1250.5 368.7h0M1328.3 418.8h0M952.5 449.0h0M1232.5 414.5h0M1338.8 456.0h0M971.8 468.1h0M1279.9 387.7h0M1473.6 403.7h0M1393.9 435.2h0M1088.2 467.8h0M1248.3 373.9h0M1070.5 468.5h0M1220.2 431.2h0M1183.7 462.8h0M1239.3 401.4h0M1439.9 425.8h0M1071.8 475.3h0M1582.0 416.2h0M1469.2 395.8h0M1595.1 429.8h0M1191.6 446.5h0M1371.7 421.7h0M1401.3 432.9h0M1602.0 413.1h0M1418.4 423.2h0M1295.0 406.7h0M1049.0 473.9h0M1481.1 371.1h0M1571.8 394.5h0M1387.1 420.7h0M1307.4 425.2h0M955.7 459.4h0M1621.9 415.0h0M1519.3 410.9h0M1376.3 447.1h0M1289.9 375.9h0M1430.1 413.3h0M1530.3 414.3h0M1183.7 461.0h0M1049.8 460.2h0M1191.0 458.0h0M1033.0 471.7h0M1259.7 382.2h0M1457.8 409.1h0M1205.1 450.4h0M1262.5 384.9h0M1067.1 464.6h0M1606.8 431.3h0M1074.8 467.8h0M1558.7 405.0h0M1121.6 469.7h0M1555.2 384.5h0M1051.4 459.9h0M1362.6 431.4h0M1343.1 424.6h0M1051.5 461.0h0M1355.4 428.4h0M1307.8 421.6h0M1550.7 395.9h0M1006.8 462.5h0M1279.7 403.0h0M961.5 460.5h0M1513.7 401.1h0M985.4 465.6h0M1529.2 393.3h0M1440.6 414.0h0M1581.6 410.9h0M1317.2 415.4h0M1017.7 461.5h0M1443.2 415.1h0M973.4 456.8h0M1025.2 446.0h0M1154.8 467.2h0M1311.9 456.1h0M1012.4 459.9h0M1299.3 423.6h0M1084.0 465.3h0M1136.7 460.9h0M1580.6 395.7h0M1323.2 436.2h0M1624.0 398.1h0M1430.1 419.1h0M1211.6 449.2h0M1513.3 398.1h0M1406.7 418.8h0M1125.5 466.4h0M1148.9 449.0h0M1180.6 451.4h0M1211.0 450.2h0M1574.9 376.3h0M1565.3 425.2h0M985.0 452.4h0M1241.5 387.2h0M1056.8 471.5h0M1500.5 380.7h0M1293.2 421.6h0M1245.7 400.6h0M1458.7 419.9h0M1527.4 399.1h0M950.2 474.0h0M1054.3 461.5h0M999.2 469.6h0M1588.7 389.4h0M1186.0 467.7h0M1167.6 466.7h0M1156.8 466.8h0M1059.5 468.9h0M1077.0 455.9h0M1194.9 464.1h0M1560.6 400.0h0M1216.0 445.3h0M993.1 466.8h0M1187.4 456.2h0M1229.8 423.7h0M1487.0 391.2h0M1423.9 430.5h0M1313.4 430.7h0M1156.9 456.1h0M1021.5 467.5h0M1075.5 462.8h0M1187.3 464.2h0M1538.7 397.5h0M956.2 452.4h0M1222.4 441.5h0M1394.0 407.7h0M1011.7 456.1h0M1279.6 371.8h0M1489.0 398.0h0M1327.2 410.2h0M1181.1 465.7h0M1565.1 428.9h0M1294.6 396.3h0M1336.4 447.4h0M1175.5 474.5h0M1474.4 379.5h0M1180.4 461.2h0M1334.5 428.3h0M1235.2 403.7h0M1228.6 416.4h0M1095.0 477.5h0M1135.7 461.0h0M1300.8 444.7h0M1320.2 457.1h0M1094.9 473.1h0M1391.6 427.5h0M1558.8 397.9h0M1379.3 422.0h0M1358.5 439.7h0M1507.9 399.1h0M1359.4 433.2h0M1116.7 464.1h0M1029.2 478.6h0M1139.0 458.7h0M1266.1 383.0h0M1155.4 465.6h0M1059.5 465.7h0M1583.7 416.2h0M1539.7 421.2h0M1035.5 460.0h0M1262.1 391.1h0M1622.5 406.4h0M1568.9 406.0h0M1127.8 458.9h0M1078.6 457.6h0M1090.6 462.6h0M950.0 467.2h0M1500.2 384.9h0M1546.9 409.0h0M962.0 463.8h0M1561.5 398.7h0M1143.9 462.3h0M1184.9 466.6h0M1413.8 423.4h0M999.2 441.1h0M1485.4 383.4h0M1069.2 471.1h0M994.6 453.7h0M1178.3 463.3h0M1089.5 451.0h0M1195.5 472.2h0M991.3 456.6h0M1222.2 440.5h0M1436.6 411.5h0M1191.8 460.0h0M1256.5 396.7h0M1163.6 461.4h0M1075.1 455.8h0M1525.2 416.4h0M1357.8 429.2h0M1437.0 435.1h0M1302.8 412.8h0M1364.4 426.5h0M1225.4 434.6h0M1282.4 404.6h0M1360.6 438.3h0M1166.7 455.6h0M1185.4 464.8h0M996.8 452.6h0M1484.5 403.7h0M1037.4 466.5h0M1274.9 399.0h0M1178.6 458.0h0M1006.0 461.6h0M1235.0 410.0h0M1310.6 414.9h0M1436.5 412.7h0M1011.4 468.7h0M1209.9 455.3h0M1600.2 402.5h0M1294.4 400.6h0M1253.8 372.1h0M1292.0 400.9h0M1013.9 466.8h0M1591.8 404.6h0M1079.8 455.4h0M1408.6 418.4h0M1074.6 468.1h0M1333.5 410.1h0M1006.1 474.1h0M1056.5 441.3h0M1417.5 423.9h0M1029.1 458.7h0M1311.6 421.3h0M1360.7 422.1h0M1433.0 422.1h0M1502.5 394.4h0M1444.8 409.8h0M1368.8 447.5h0M1206.5 454.3h0M1415.0 423.3h0M1092.9 452.7h0M1135.4 457.7h0M1128.6 460.2h0M1137.1 463.0h0M1166.9 461.1h0M1409.6 426.1h0M1602.8 400.4h0M1337.0 445.5h0M1571.0 377.1h0M1309.7 429.5h0M1332.6 448.9h0M1262.1 353.6h0M1028.6 473.0h0M1456.9 412.9h0M1105.8 465.2h0M1168.2 454.6h0M946.5 457.5h0M1186.6 453.5h0M1278.7 424.2h0M1134.7 452.7h0M1089.3 479.9h0M1367.2 427.1h0M1346.7 425.4h0M1329.0 440.8h0M1184.4 458.9h0M1121.8 454.9h0M1277.0 385.5h0M1133.8 464.7h0M1085.0 461.1h0M1379.2 421.8h0M1201.9 454.6h0M1002.9 465.9h0M1559.9 385.9h0M1165.5 470.6h0M1179.4 452.9h0M1277.3 389.4h0M1461.1 417.2h0M1412.4 431.8h0M1064.7 460.8h0M1383.7 425.4h0M1212.1 449.2h0M1498.6 411.8h0M1614.6 409.8h0M1607.8 423.2h0M1414.1 424.4h0M1254.1 406.6h0M1474.3 398.8h0M1558.9 419.5h0M1235.7 391.9h0M1069.6 463.0h0M1125.4 466.5h0M1192.9 445.2h0M1187.4 456.1h0M1259.1 372.6h0M1130.4 464.5h0M1333.0 426.0h0M1037.9 466.2h0M1337.1 434.9h0M1128.7 459.7h0M1329.8 415.5h0M1098.4 468.0h0M1342.1 415.9h0M1228.5 429.5h0M1553.0 404.0h0M1063.2 455.8h0M1200.7 452.5h0M1218.1 426.8h0M1200.6 449.8h0M1188.4 460.0h0M1361.4 455.2h0M954.1 453.2h0M1210.7 448.0h0M1220.3 429.9h0M1535.0 407.8h0M1597.4 421.2h0M1501.1 383.6h0M1520.1 399.4h0M1620.0 422.8h0M1623.3 404.8h0M1379.6 426.2h0M986.8 459.5h0M1533.7 402.2h0M1281.2 395.7h0M965.2 457.1h0M1053.0 460.3h0M1318.8 419.6h0M1429.2 422.5h0M1600.7 407.7h0M1501.1 409.4h0M1552.4 401.2h0M985.2 460.4h0M1241.5 378.2h0M1493.9 405.1h0M1496.6 398.1h0M1084.8 459.9h0M1340.1 440.9h0M1111.5 470.6h0M1044.0 468.3h0M1511.0 403.6h0M1202.2 459.0h0M1557.5 391.3h0M970.1 459.8h0M1575.0 402.6h0M1495.0 379.1h0M1269.9 382.9h0M1305.1 438.5h0M1136.1 451.3h0M1297.7 407.0h0M1440.9 414.7h0M1417.5 434.8h0M1336.2 422.8h0M1036.9 470.2h0M1135.5 469.8h0M1607.5 410.0h0M1201.5 446.5h0M1211.2 461.4h0M1220.3 443.3h0M1527.3 405.8h0M1210.7 460.5h0M1331.4 440.8h0M1215.5 443.2h0M1092.0 452.5h0M1152.4 474.5h0M1098.6 463.5h0M1491.4 393.0h0M1624.5 417.3h0M1470.2 409.4h0M1293.4 394.4h0M1353.3 432.7h0M1289.7 393.3h0M1526.3 385.6h0M1036.8 460.8h0M974.4 456.9h0M1433.3 416.6h0M1258.6 368.4h0M1456.0 397.5h0M1573.6 407.3h0M1075.3 452.4h0M1463.7 400.4h0M1442.2 398.8h0M1373.6 421.8h0M1210.1 450.0h0M1354.8 439.3h0M1304.4 432.1h0M1006.1 455.0h0M1335.2 449.3h0M945.9 453.6h0M1165.1 469.4h0M1406.5 412.1h0M1565.2 387.9h0M1550.4 409.7h0M1169.0 458.7h0M946.8 469.3h0M1564.8 402.6h0M1018.1 461.9h0M1414.8 437.0h0M1088.8 461.2h0M1516.8 392.2h0M1010.9 464.1h0M1587.9 401.8h0M1022.2 463.4h0M1361.4 436.5h0M1529.6 412.1h0M1056.3 457.4h0M1227.1 409.1h0M1146.7 459.7h0M1584.5 407.7h0M1358.1 433.8h0M1562.2 386.9h0M1616.1 388.8h0M1331.1 415.9h0M1491.7 399.2h0M1290.8 394.1h0M1232.3 419.3h0M1611.6 432.1h0M1196.5 461.8h0M1208.1 453.5h0M1176.6 462.1h0M1097.0 467.1h0M1181.2 475.5h0M1131.3 457.8h0M1534.9 387.8h0M1458.4 413.6h0M1326.4 447.6h0M1499.3 383.6h0M1454.2 393.5h0M1588.6 379.5h0M1053.7 461.2h0M1148.9 450.2h0M1532.7 419.8h0M1185.4 452.9h0M947.0 472.5h0M1112.5 464.5h0M1060.8 447.6h0M1385.1 431.5h0M1545.2 423.0h0M1239.6 402.7h0M1306.3 420.6h0M1191.5 457.6h0M1120.1 462.3h0M992.4 463.9h0M1617.8 408.2h0M1250.8 374.4h0M1436.4 405.1h0M1359.8 408.4h0M1606.7 407.9h0M1531.7 398.9h0M1463.1 390.3h0M1180.0 469.4h0M1621.0 401.4h0M1050.5 472.3h0M1347.7 432.0h0M1283.6 388.2h0M978.8 464.3h0M1502.9 383.5h0M1085.0 472.7h0M1285.4 414.7h0M1273.6 386.4h0M1176.9 463.7h0M1194.9 449.4h0M1475.9 399.3h0M1578.8 412.4h0M1403.7 424.6h0M1305.6 428.8h0M1072.0 464.9h0M962.3 461.6h0M1373.7 447.9h0M1451.8 438.5h0M1521.5 385.8h0M1158.0 466.7h0M1347.9 413.0h0M1193.9 457.5h0M1021.3 462.8h0M1458.9 403.5h0M1578.0 400.1h0M1247.1 389.6h0M1458.0 424.8h0M1525.1 397.5h0M987.3 456.4h0M1384.9 433.7h0M1168.4 475.9h0M1213.0 444.3h0M1485.3 411.1h0M1140.6 462.1h0M1539.9 387.9h0M1501.7 396.2h0M961.2 460.1h0M1075.6 467.9h0M1611.9 391.2h0M1169.2 463.0h0M1586.5 401.2h0M1420.4 395.5h0M1285.6 394.6h0M1187.9 455.4h0M1326.4 445.4h0M1308.4 434.4h0M1084.1 469.9h0M1492.9 397.3h0M1603.5 394.9h0M949.3 472.3h0M1516.0 406.7h0M1608.8 408.2h0M1374.7 430.1h0M1232.4 418.4h0M1077.4 469.3h0M1100.4 463.2h0M1611.5 405.1h0M1026.1 470.5h0M1422.9 423.6h0M1348.3 430.7h0M1284.0 395.9h0M1323.1 428.6h0M1599.5 409.5h0M1328.2 429.4h0M1317.6 431.6h0M1372.1 435.7h0M1410.3 422.5h0M1321.8 426.3h0M1475.2 397.5h0M1601.4 395.8h0M1425.7 418.4h0M1558.9 399.5h0M1052.1 463.9h0M1276.3 392.8h0M1258.5 382.3h0M1501.0 415.1h0M1171.7 454.3h0M1172.7 459.4h0M1275.3 404.9h0M1094.9 461.1h0M1264.5 384.0h0M1358.2 420.7h0M1116.9 463.7h0M1080.7 473.7h0M1456.0 406.0h0M1532.2 391.2h0M1363.5 428.2h0M1430.2 402.2h0M1013.3 455.8h0M1390.2 457.8h0M1319.6 416.8h0M950.9 453.4h0M1138.0 457.2h0M1548.6 390.7h0M1122.0 459.7h0M1088.9 477.9h0M1329.6 445.3h0M1037.1 458.0h0M1225.0 438.5h0M1437.2 429.4h0M1075.3 471.6h0M1267.5 380.2h0M993.5 465.2h0M1186.3 457.8h0M1557.7 408.6h0M1304.0 425.6h0M1518.7 412.9h0M1372.2 436.1h0M1208.8 448.7h0M1397.4 405.2h0M1491.3 400.2h0M1301.3 425.0h0M1371.5 440.2h0M1565.4 401.3h0M1124.4 462.7h0M1399.8 431.4h0M1437.2 415.3h0M1556.7 383.0h0M1264.3 377.7h0M1512.9 393.1h0M1459.9 385.8h0M1304.8 421.8h0M1117.1 454.3h0M1215.2 450.3h0M1364.4 432.8h0M1297.0 391.9h0M1483.4 367.0h0M1428.8 427.5h0M1307.1 438.4h0M1561.2 411.1h0M1200.5 441.0h0M1363.6 439.3h0M1137.6 457.4h0M1583.0 411.5h0M1499.3 398.6h0M1057.2 459.2h0M1596.0 402.2h0M1399.5 440.2h0M1208.8 453.8h0M1084.5 452.7h0M1180.6 459.2h0M1345.4 443.2h0M1454.1 412.0h0M1372.3 428.6h0M1230.0 415.6h0M1474.9 377.2h0M1373.0 414.7h0M1399.2 430.5h0M1134.0 458.4h0M1234.0 407.8h0M1065.3 456.2h0M1252.3 375.0h0M1100.8 456.4h0M1258.1 382.5h0M1248.8 385.1h0M1579.8 407.2h0M1199.3 460.0h0M995.0 467.5h0M1248.7 391.4h0M1386.1 446.2h0M1363.7 444.5h0M1519.7 396.2h0M1475.0 377.0h0M1239.6 391.2h0M1210.8 450.4h0M964.3 463.5h0M1444.8 406.2h0M982.4 468.7h0M1229.9 401.8h0M1177.1 461.0h0M1410.7 424.5h0M1151.2 470.9h0M1115.2 465.4h0M1601.7 398.4h0M1308.1 411.0h0M1126.3 454.8h0M1517.1 407.0h0M1035.1 462.6h0M1588.1 406.8h0M1130.1 463.3h0M1514.4 395.9h0M1250.6 395.5h0M1570.7 390.1h0M1048.8 464.5h0M1011.6 468.3h0M1539.3 404.8h0M1222.3 436.3h0M991.6 457.9h0M1422.1 410.8h0M1509.1 398.8h0M1478.4 395.1h0M957.3 458.9h0M1538.6 397.6h0M1271.6 385.2h0M1320.5 435.9h0M1145.3 468.6h0M1230.5 417.2h0M1020.6 460.7h0M1413.4 448.8h0M1219.4 425.4h0M1598.5 410.3h0M980.7 459.2h0M1425.8 425.1h0M1148.9 473.5h0M1354.3 420.3h0M1014.6 454.4h0M1482.5 394.4h0M1074.3 473.0h0M1141.5 457.5h0M1147.1 460.5h0M1236.5 402.5h0M1525.1 386.8h0M972.9 462.7h0M1410.2 422.1h0M1375.9 428.4h0M1115.4 463.6h0M1198.7 443.7h0M1032.8 464.2h0M1574.0 393.9h0M1523.4 394.8h0M1559.1 395.8h0M1356.3 436.8h0M1260.2 405.7h0M1336.5 435.0h0M1451.3 427.6h0M1324.3 430.2h0M1564.4 402.6h0M1598.1 416.9h0M964.1 460.5h0M1457.7 405.4h0M1266.0 372.9h0M1015.5 472.9h0M1057.8 451.1h0M1483.3 395.2h0M1358.3 428.4h0M1157.9 463.0h0M1595.3 391.5h0M1398.1 432.8h0M1548.4 409.2h0M1255.4 376.1h0M1387.5 421.0h0M1120.4 466.6h0M1357.4 436.9h0M1481.5 397.2h0M1168.4 467.8h0M1277.5 392.0h0M1381.3 424.4h0M1558.3 397.2h0M1046.6 468.9h0M1303.0 409.9h0M1094.1 462.7h0M1335.1 419.6h0M1144.1 455.7h0M1345.4 451.2h0M1365.9 435.2h0M1493.6 392.3h0M1394.6 417.6h0M1295.7 395.6h0M1384.8 417.0h0M969.1 461.7h0M1107.4 456.5h0M1530.3 407.9h0M1244.9 376.8h0M1443.0 439.8h0M1486.8 395.8h0M1523.4 405.7h0M1184.4 464.0h0M1622.2 402.3h0M1365.9 421.7h0M1080.8 456.8h0M1557.7 396.7h0M1092.3 479.3h0M1360.2 431.6h0M1205.2 456.6h0M1482.7 381.6h0M1337.3 431.9h0M1376.0 424.0h0M1422.9 397.7h0M1550.6 370.7h0M1130.1 455.4h0M1094.0 457.1h0M1293.2 388.1h0M1081.6 471.1h0M1208.5 460.7h0M1573.2 379.7h0M1360.2 442.9h0M1118.5 463.4h0M1155.6 453.8h0M955.7 452.0h0M1490.7 392.5h0M998.5 453.5h0M1091.5 464.8h0M1136.0 466.0h0M1509.2 401.8h0M1058.4 482.0h0M1043.7 469.6h0M956.6 471.1h0M1593.3 410.7h0M1202.2 456.0h0M1295.7 410.0h0M1165.8 463.8h0M1039.3 458.1h0M1294.6 427.6h0M1462.1 394.5h0M1296.0 427.6h0M1539.5 407.3h0M1572.8 409.8h0M1433.5 405.6h0M1362.5 418.8h0M1055.4 473.5h0M1072.4 466.0h0M1154.5 456.0h0M1000.9 455.0h0M1294.9 398.4h0M1307.2 419.0h0M1106.9 469.9h0M1477.1 414.9h0M1412.3 434.0h0M1288.7 410.4h0M1018.7 466.0h0M994.4 457.5h0M1236.4 403.1h0M1422.7 428.9h0M1623.2 421.6h0M1393.9 426.4h0M954.5 468.5h0M1572.1 419.8h0M1611.8 435.3h0M1623.2 421.9h0M1485.1 377.8h0M1130.5 457.6h0M1136.5 464.9h0M1603.9 398.1h0M1474.6 389.9h0M1009.0 467.7h0M1155.6 451.2h0M1318.4 448.6h0M1417.2 425.2h0M1361.7 428.7h0M1417.6 420.8h0M1067.9 457.7h0M1099.7 475.4h0M1174.2 466.8h0M1185.0 460.1h0M1508.1 410.5h0M1060.4 465.4h0M1563.7 398.0h0M1325.4 426.2h0M1387.0 443.2h0M1139.6 454.2h0M1026.8 459.1h0M1518.0 383.2h0M1497.0 394.5h0M1483.0 371.5h0M1285.8 387.1h0M1571.7 400.9h0M1177.2 465.3h0M1164.5 478.5h0M1097.2 462.0h0M1176.7 456.5h0M1068.8 457.8h0M1552.3 414.4h0M1592.0 402.5h0M1258.0 373.9h0M1358.0 435.0h0M1585.6 400.0h0M1430.8 420.7h0M1023.4 458.6h0M1333.9 448.9h0M1589.2 399.6h0M1494.3 402.7h0M1543.2 402.1h0M1619.8 430.5h0M1200.8 450.9h0M1441.7 424.2h0M1407.1 409.0h0M1366.7 446.1h0M1540.8 387.0h0M1087.9 457.9h0M1261.5 381.8h0M1276.6 396.9h0M1026.6 458.3h0M1343.3 446.6h0M1085.5 467.2h0M1444.1 425.5h0M994.2 453.2h0M1370.2 422.3h0M1492.4 386.3h0M1539.8 404.7h0M1066.7 462.5h0M1333.8 439.8h0M1118.1 464.4h0M1089.8 471.8h0M1623.5 403.3h0M1365.2 417.5h0M1515.9 402.8h0M1331.1 441.0h0M1449.7 416.7h0M1525.7 391.8h0M1150.7 441.6h0M1553.1 417.7h0M1551.7 406.5h0M1562.0 426.7h0M1210.1 446.2h0M1581.7 394.0h0M1430.9 390.6h0M1277.0 378.0h0M1406.8 424.2h0M1523.0 396.2h0M948.7 476.1h0M1301.2 440.5h0M1238.0 391.2h0M1027.3 468.0h0M1275.2 402.9h0M1153.7 466.6h0M1364.6 440.4h0M1029.9 482.3h0M1558.0 407.3h0M1335.1 440.5h0M1133.4 458.8h0M1379.2 432.0h0M1442.7 416.8h0M1573.9 394.3h0M1539.7 401.3h0M1251.4 377.8h0M1493.0 389.9h0M1555.9 390.8h0M1272.8 391.2h0M1028.7 464.5h0M1102.2 450.4h0M1377.3 441.4h0M1201.2 463.3h0M1072.4 469.1h0M1332.2 440.9h0M1413.5 430.3h0M1127.8 462.8h0M1524.7 391.7h0M1334.3 432.8h0M997.7 456.7h0M1331.2 427.6h0M1593.3 384.0h0M1011.3 462.4h0M1522.6 400.7h0M1060.2 476.1h0M1094.9 467.2h0M1548.8 409.5h0M1372.4 421.8h0M1270.5 386.4h0M1260.2 372.3h0M1254.1 387.4h0M1291.9 435.9h0M1455.5 405.2h0M1056.4 446.1h0M1169.8 471.9h0M1276.3 402.2h0M1265.3 375.0h0M1019.9 463.5h0M1191.5 454.6h0M1221.1 443.3h0M1118.0 454.7h0M1204.1 454.2h0M1449.8 427.0h0M1271.0 390.7h0M1291.8 414.1h0M1383.0 437.4h0M1622.2 408.6h0M982.4 462.6h0M1153.6 461.0h0M1472.0 403.7h0M1207.0 454.4h0M1355.1 446.9h0M1131.0 462.9h0M1501.2 399.0h0M1353.3 429.5h0M1117.2 462.1h0M1594.7 407.6h0M960.3 473.6h0M1548.8 414.1h0M1269.4 408.1h0M1594.6 398.0h0M988.0 459.9h0M1356.7 424.6h0M1320.2 440.7h0M958.4 460.9h0M1266.8 398.7h0M1603.5 413.5h0M1408.7 403.6h0M952.4 479.3h0M1290.4 401.5h0M1445.1 408.4h0M1548.1 412.2h0M1267.6 376.4h0M1517.5 396.8h0M1033.3 460.7h0M1383.0 415.9h0M1227.2 411.8h0M1568.3 405.9h0M1144.1 458.6h0M1106.1 463.0h0M1388.9 426.5h0M1538.4 391.9h0M1124.3 462.4h0M1364.9 428.4h0M1459.2 423.1h0M1057.2 458.1h0M1366.1 432.6h0M1238.7 388.2h0M1492.5 394.4h0M1497.5 386.6h0M1312.0 459.2h0M1049.9 471.5h0M1113.9 462.9h0M1031.5 473.2h0M1374.6 448.3h0M1488.2 405.0h0M1528.1 374.7h0M1457.7 420.1h0M1417.0 424.7h0M1492.9 393.1h0M1569.6 408.6h0M1017.2 462.2h0M1380.1 410.7h0M1437.4 406.5h0M1025.9 459.8h0M1408.3 436.2h0M1526.2 403.2h0M1303.8 397.4h0M1035.1 462.3h0M1529.5 380.7h0M1338.6 413.6h0M1293.6 389.0h0M1200.4 445.3h0M964.6 457.5h0M1554.0 400.6h0M1256.1 400.2h0M1399.2 438.3h0M965.0 467.9h0M1586.4 401.6h0M1484.5 408.2h0M1604.6 442.9h0M1286.9 408.4h0M1446.1 408.3h0M1402.4 421.4h0M1378.8 427.0h0M1347.8 446.5h0M1273.9 382.5h0M1016.4 452.0h0M1499.4 402.2h0M1032.1 481.7h0M956.5 463.4h0M1553.2 409.9h0M1375.0 433.8h0M1177.5 459.7h0M1498.2 402.2h0M1462.8 422.2h0M1390.8 424.9h0M1542.8 412.7h0M1526.0 409.9h0M1173.5 468.1h0M1399.9 433.1h0M1431.4 389.4h0M1296.5 418.8h0M1544.5 409.8h0M1413.6 426.1h0M1276.4 384.9h0M1340.6 428.5h0M1612.8 415.7h0M1458.5 418.3h0M1179.7 456.8h0M1143.7 455.0h0M1307.8 427.1h0M1502.8 389.2h0M1086.1 463.7h0M1001.4 470.7h0M1365.3 431.7h0M1360.4 428.4h0M1280.4 400.1h0M1551.5 379.8h0M1422.0 407.7h0M1142.3 462.6h0M1183.8 466.8h0M1078.3 456.5h0M975.4 474.6h0M1286.8 417.6h0M1006.9 463.2h0M1115.1 471.1h0M1625.9 421.2h0M1400.7 417.5h0M1475.9 400.9h0M1250.3 381.2h0M1002.4 462.1h0M1082.3 462.7h0M983.4 447.7h0M1522.5 398.5h0M1338.2 458.2h0M1128.1 458.2h0M1242.7 400.8h0M1214.4 432.8h0M1529.3 410.9h0M986.0 456.4h0M1446.2 419.4h0M1080.4 469.8h0M1073.8 451.7h0M1031.5 462.3h0M1306.1 434.5h0M1416.1 428.4h0M1311.3 406.1h0M1478.2 394.3h0M1318.6 415.3h0M1110.3 461.9h0M1015.6 448.5h0M1476.4 365.4h0M1252.6 384.2h0M1542.5 388.8h0M1610.2 417.6h0M1248.8 389.1h0M1588.5 400.1h0M1050.6 469.1h0M1027.0 460.1h0M987.1 466.7h0M1308.4 426.3h0M1623.8 378.0h0M1365.5 429.2h0M1225.0 415.6h0M1612.7 401.9h0M1288.3 408.2h0M1463.2 389.4h0M1561.9 410.0h0M1042.8 469.9h0M1169.1 474.6h0M1401.0 438.9h0M1327.2 418.4h0M956.1 462.2h0M1163.8 450.1h0M1484.4 391.6h0M1187.9 457.8h0M1121.9 470.3h0M1005.2 460.5h0M1291.2 391.5h0M1573.6 386.6h0M1206.2 448.6h0M1584.3 382.6h0M1144.6 456.1h0M1167.2 458.8h0M1428.4 414.0h0M1409.5 413.0h0M1078.4 460.5h0M1224.2 430.8h0M969.6 466.4h0M1486.9 390.2h0M1566.6 408.5h0M1565.6 378.8h0M1062.5 468.3h0M1235.1 383.4h0M980.1 452.7h0M1595.3 403.1h0M1254.4 380.2h0M1164.2 466.9h0M1003.4 466.9h0M1622.7 416.4h0M1134.6 458.3h0M1211.0 443.3h0M1487.1 401.2h0M1129.6 459.5h0M1464.9 403.9h0M989.9 463.8h0M979.3 461.3h0M1423.6 426.6h0M1507.3 401.0h0M1413.8 420.3h0M1247.7 372.0h0M978.8 463.0h0M1203.0 449.5h0M1570.8 392.7h0M1010.8 463.1h0M1322.5 423.0h0M1139.0 457.0h0M1395.6 430.3h0M948.7 469.6h0M1431.1 445.1h0M1074.2 462.2h0M1502.0 400.2h0M1316.4 427.4h0M1089.5 472.6h0M1218.0 443.6h0M1289.6 411.5h0M1453.1 428.0h0M1541.2 429.5h0M1150.0 460.5h0M977.5 452.8h0M1458.7 406.7h0M1524.4 378.0h0M1447.1 448.5h0M1101.9 463.7h0M1040.8 461.8h0M1073.0 473.5h0M1435.0 414.3h0M1327.2 447.1h0M1385.7 414.7h0M1600.5 385.7h0M1140.8 461.6h0M1236.8 386.7h0M1025.6 453.1h0M1231.6 420.7h0M1022.4 456.3h0M1344.9 435.7h0M1152.4 458.5h0M1210.1 457.7h0M1389.9 430.0h0M1618.3 406.3h0M1236.5 395.3h0M1130.1 462.5h0M1116.7 467.0h0M1586.3 382.9h0M1618.6 420.1h0M1475.7 391.4h0M970.6 462.8h0M1495.6 404.5h0M1592.4 395.6h0M1620.2 385.9h0M1372.0 410.5h0M1321.2 442.6h0M1083.0 472.4h0M1460.6 440.9h0M1223.9 429.4h0M1201.8 459.3h0M1294.7 404.8h0M1556.3 391.8h0M1139.5 464.4h0M1066.0 464.7h0M1414.6 429.8h0M1598.5 406.4h0M1447.1 421.1h0M1536.4 401.8h0M1462.9 414.6h0M1108.2 460.7h0M1622.2 402.3h0M1258.4 401.7h0M1018.2 473.8h0M1316.9 441.2h0M959.2 456.7h0M1012.3 458.8h0M1222.6 412.7h0M1254.5 366.7h0M1623.7 436.5h0M1403.8 407.6h0M1234.5 408.5h0M1262.9 392.9h0M1056.9 456.8h0M1507.3 406.1h0M1159.5 457.1h0M1602.4 418.4h0M1385.2 432.2h0M1492.6 396.2h0M1204.2 452.7h0M1032.1 474.0h0M1158.4 453.1h0M1100.4 459.3h0M1533.6 383.3h0M1286.4 394.1h0M1216.3 445.1h0M1221.8 432.4h0M1508.2 398.5h0M1283.4 390.0h0M1262.7 404.0h0M1464.9 411.0h0M1500.9 395.1h0M1036.4 467.0h0M1013.4 458.7h0M1444.8 427.7h0M1197.7 444.3h0M1146.6 447.6h0M1350.8 417.2h0M1351.8 444.4h0M1252.6 410.7h0M1002.7 472.1h0M1562.6 395.9h0M1148.3 460.4h0M1103.0 466.8h0M1467.7 396.4h0M1090.4 461.1h0M1309.1 436.1h0M1416.4 413.8h0M1421.1 387.1h0M1024.0 475.0h0M1392.8 443.9h0M1545.1 396.5h0M1093.7 476.8h0M1501.5 385.8h0M1585.6 401.2h0M1140.9 457.3h0M1363.9 432.3h0M1580.8 383.9h0M1300.1 420.1h0M1385.1 438.7h0M1626.0 406.2h0M1029.1 465.1h0M967.8 465.4h0M1017.8 466.2h0M1038.4 466.2h0M1299.7 420.3h0M1215.8 444.0h0M1074.2 458.5h0M1026.7 442.5h0M1046.8 474.8h0M1543.9 401.9h0M967.6 465.1h0M1049.0 468.6h0M1581.4 391.8h0M1502.0 404.6h0M1613.0 404.5h0M1020.3 460.3h0M1099.8 449.9h0M1074.2 467.2h0M1400.3 434.9h0M1023.0 450.9h0M1010.1 467.4h0M1090.6 469.6h0M1468.7 393.8h0M993.2 452.6h0M1290.0 400.7h0M1526.2 383.0h0M1002.8 464.5h0M1237.9 403.2h0M1480.8 380.5h0M1273.0 398.5h0M1058.6 453.1h0M1128.9 469.7h0M1536.6 411.4h0M1264.5 381.9h0M978.1 467.3h0M1273.2 396.6h0M1139.2 473.5h0M990.0 465.1h0M1485.4 388.2h0M1451.8 427.3h0M1096.4 459.4h0M1551.9 392.0h0M1065.9 458.3h0M1592.7 393.6h0M1584.7 389.0h0M1076.5 445.9h0M1150.1 471.8h0M1199.7 451.6h0M1385.9 432.5h0M1407.9 435.2h0M1031.5 468.2h0M1360.3 416.4h0M1581.2 387.9h0M1303.5 432.8h0M1151.6 458.7h0M1607.0 406.1h0M970.6 464.8h0M1590.5 406.3h0M972.6 458.9h0M1035.3 471.8h0M1490.6 384.3h0M1096.6 452.5h0M1421.0 415.0h0M1226.4 432.4h0M1276.1 388.7h0M1086.6 458.2h0M1125.2 458.3h0M1528.3 393.9h0M1588.3 414.1h0M960.4 462.3h0M1338.1 453.9h0M1372.3 412.9h0M1086.4 459.3h0M1625.9 413.8h0M1352.3 433.6h0M1184.3 447.1h0M1055.7 472.4h0M957.4 464.7h0M1383.3 421.4h0M1106.1 453.1h0M946.1 462.8h0M1010.4 464.2h0M1084.3 464.3h0M1592.0 400.9h0M970.7 456.6h0M1265.5 396.8h0M1297.9 416.9h0M1320.2 435.2h0M1353.5 431.9h0M1204.3 455.2h0M1426.6 429.1h0M1277.9 403.3h0M1258.5 380.2h0M1063.0 458.3h0M1219.5 430.8h0M1188.3 451.8h0M1168.5 467.7h0M1368.2 450.5h0M1331.2 434.4h0M1122.9 457.5h0M1237.2 408.3h0M1259.1 407.2h0M1224.2 424.7h0M1274.3 392.7h0M971.0 455.8h0M1205.6 453.3h0M1319.1 420.0h0M1098.7 455.5h0M1191.4 451.6h0M1105.9 467.6h0M1450.1 410.7h0M1279.5 391.9h0M1232.5 409.7h0M1475.0 391.6h0M1096.2 464.0h0M1041.1 462.7h0M1429.4 435.4h0M1288.8 413.9h0M1375.1 434.6h0M1103.2 471.6h0M1461.5 408.5h0M1095.6 461.6h0M1084.6 463.4h0M1393.6 434.6h0M1218.4 435.0h0M1342.0 420.6h0M1251.8 388.3h0M1322.4 440.9h0M1565.1 383.9h0M1145.7 471.9h0M1555.6 395.2h0M1581.2 400.5h0M1472.5 390.8h0M1019.8 454.3h0M1003.7 464.8h0M1030.6 458.5h0M1537.8 408.9h0M1194.2 458.9h0M1561.5 398.7h0M1242.7 401.2h0M982.0 466.1h0M1352.5 432.8h0M1060.3 462.4h0M1101.7 463.6h0M1011.7 465.3h0M1481.2 381.1h0M983.0 452.4h0M1619.5 412.3h0M1149.4 458.8h0M1229.8 421.3h0M1447.8 410.1h0M1160.2 460.5h0M1258.8 387.2h0M1613.5 416.4h0M1210.4 454.1h0M1158.2 465.5h0M1308.2 432.0h0M1189.9 449.2h0M1116.3 472.1h0M950.5 464.5h0M1273.1 386.6h0M1575.1 380.9h0M1526.8 399.0h0M1040.9 466.4h0M1306.5 429.7h0M1295.0 412.9h0M1240.8 377.8h0M1115.3 451.4h0M1486.7 423.8h0M1237.2 385.8h0M1623.6 412.2h0M989.4 465.0h0M1014.8 459.7h0M1114.7 447.7h0M1530.7 391.9h0M1248.3 383.6h0M1005.3 443.1h0M960.5 467.6h0M1004.1 463.1h0M1193.9 452.9h0M1570.7 384.5h0M1357.9 418.4h0M1502.2 411.6h0M1557.2 413.7h0M1397.6 438.6h0M1590.5 409.1h0M1222.0 423.2h0M985.9 463.5h0M1227.1 422.6h0M1602.9 406.6h0M1157.4 455.5h0M1309.5 427.2h0M1469.1 387.7h0M1321.5 440.1h0M1249.3 382.1h0M1534.0 414.7h0M1437.9 419.1h0M1067.7 460.3h0M1190.9 464.6h0M1489.8 405.8h0M1426.9 419.3h0M1004.0 464.9h0M1167.7 457.9h0M1489.2 395.9h0M1480.7 389.6h0M1387.9 434.9h0M1073.8 457.8h0M1563.2 382.3h0M1316.0 431.4h0M1175.1 453.2h0M1164.7 454.9h0M1203.6 441.1h0M953.3 473.6h0M1501.2 395.5h0M1386.3 427.5h0M1446.9 403.6h0M1145.1 458.0h0M1150.5 456.8h0M1075.6 460.6h0M1371.1 441.4h0M1223.5 446.8h0M1194.5 438.8h0M1038.4 456.2h0M953.4 460.2h0M1148.8 452.2h0M1402.0 425.1h0M1462.3 402.8h0M1521.7 397.9h0M1291.7 391.6h0M1293.5 387.6h0M1610.8 377.8h0M1326.2 436.8h0M1073.8 470.7h0M1592.1 417.2h0M1208.2 448.1h0M1288.9 383.0h0M1098.1 450.8h0M1554.4 414.3h0M1071.9 462.0h0M1522.2 425.9h0M1607.7 416.9h0M1351.8 430.0h0M1470.7 410.5h0M1062.2 460.3h0M1553.2 403.3h0M978.8 456.3h0M1035.6 468.8h0M1173.9 454.5h0M1230.6 410.7h0M1609.1 400.8h0M1546.9 409.7h0M1539.6 411.5h0M1500.3 393.6h0M1235.5 406.1h0M1372.2 413.4h0M1529.6 392.1h0M1191.9 451.6h0M1305.0 396.6h0M1616.0 391.8h0M1224.4 426.7h0M1321.3 429.9h0M1054.7 463.8h0M1070.7 474.5h0M1521.4 397.8h0M1105.7 471.0h0M1495.4 394.6h0M1414.9 419.7h0M1067.7 461.8h0M1100.9 451.7h0M1476.1 383.2h0M1364.9 422.6h0M1320.9 440.3h0M1199.9 456.2h0M949.3 464.9h0M1178.0 455.3h0M1065.7 462.4h0M1173.6 452.9h0M1374.3 461.9h0M996.0 462.3h0M973.7 447.1h0M1540.3 411.1h0M1346.3 429.3h0M1370.0 439.8h0M1452.4 407.7h0M1011.9 452.4h0M1417.3 430.7h0M1291.3 397.1h0M1069.8 481.1h0M1086.3 473.2h0M985.0 451.8h0M954.8 470.7h0M1316.1 409.1h0M1139.0 459.4h0M1534.4 400.8h0M948.9 468.6h0M1519.7 390.6h0M1426.2 413.4h0M1324.1 424.0h0M1242.3 398.5h0M1016.5 463.6h0M1365.6 435.7h0M1125.3 463.4h0M1315.9 428.3h0M1228.4 433.4h0M1286.3 388.8h0M1016.2 471.6h0M1262.7 396.8h0M1257.9 372.2h0M1046.3 467.3h0M1280.2 399.3h0M1170.4 465.7h0M1442.5 402.0h0M1460.5 415.7h0M1405.7 434.6h0M1108.3 451.5h0M1034.2 462.1h0M1002.8 468.6h0M1385.3 424.2h0M1430.2 424.9h0M960.7 460.4h0M1579.1 386.9h0M947.8 462.6h0M1111.6 465.4h0M1456.2 403.1h0M972.0 451.7h0M1361.8 410.6h0M1174.8 465.5h0M1087.5 465.9h0M1429.2 436.5h0M1440.0 416.8h0M1124.1 470.7h0M1062.2 457.9h0M1059.8 468.7h0M1497.8 376.9h0M1247.9 361.3h0M1300.9 420.5h0M1435.0 408.5h0M1372.2 427.7h0M975.1 459.2h0M1050.8 453.7h0M1459.1 402.2h0M959.7 453.6h0M1470.9 393.9h0M1166.6 453.5h0M1021.7 460.7h0M1620.3 405.1h0M1595.2 420.9h0M1353.7 430.1h0M1148.5 472.2h0M1044.8 459.1h0M1148.0 465.5h0M1600.8 414.5h0M1117.2 459.6h0M1125.2 465.4h0M1408.8 419.8h0M1121.0 459.8h0M1515.3 405.9h0M1342.9 436.9h0M1406.4 403.3h0M1133.0 452.8h0M1042.5 474.8h0M1519.3 403.6h0M1590.5 402.8h0M1178.4 457.7h0M1257.7 379.7h0M982.3 453.0h0M1600.1 414.3h0M1265.9 387.7h0M1401.3 447.0h0M1467.9 412.4h0M1273.1 386.6h0M969.3 461.4h0M974.1 459.6h0M1058.0 465.3h0M1423.4 416.4h0M1364.7 402.6h0M1099.4 457.9h0M1213.2 444.8h0M1317.7 445.3h0M1410.9 419.1h0M976.6 454.7h0M1263.3 377.3h0M1458.7 401.0h0M1569.9 406.9h0M1137.0 446.1h0M964.6 476.9h0M1010.4 465.1h0M1359.3 443.4h0M1449.7 410.3h0M1274.1 392.7h0M1379.0 407.0h0M1120.0 463.0h0M1245.9 387.9h0M1066.8 470.6h0M1487.6 394.5h0M1034.9 467.2h0M1263.3 389.5h0M1311.4 416.2h0M1452.6 416.4h0M1331.0 461.4h0M1588.0 399.4h0M1049.1 472.4h0M1178.4 460.2h0M1188.0 473.6h0M1182.3 474.1h0M1454.1 407.7h0M1500.8 390.5h0M1413.5 430.2h0M1577.3 399.5h0M971.9 457.1h0M1335.1 427.4h0M1069.4 450.6h0M1525.0 390.1h0M1115.9 459.0h0M1225.9 441.0h0M1301.1 427.9h0M977.4 455.8h0M1312.9 428.1h0M1355.2 422.9h0M1058.9 469.4h0M1269.0 408.8h0M1625.1 409.3h0M1554.5 405.8h0M1260.8 394.1h0M1350.4 425.3h0M1178.2 470.6h0M1150.5 464.0h0M1516.7 377.5h0M1551.6 391.7h0M1210.7 446.1h0M1429.4 421.7h0M1343.4 439.7h0M1573.1 399.3h0M1425.7 424.6h0M1470.9 401.4h0M1016.3 463.5h0M1473.1 402.9h0M1132.5 469.9h0M1188.8 464.3h0M1513.3 403.4h0M1381.9 415.4h0M1472.0 393.2h0M1252.2 382.8h0M977.8 466.7h0M1019.8 461.3h0M1065.0 456.5h0M1222.4 440.5h0M1134.1 463.6h0M1183.6 462.9h0M1038.1 454.0h0M1011.8 459.9h0M1283.5 391.2h0M1010.9 459.3h0M1155.8 473.8h0M1230.1 405.5h0M1356.3 403.5h0M1282.1 398.6h0M1083.1 459.8h0M1156.8 464.2h0M1490.9 414.0h0M1202.0 458.8h0M1021.3 445.6h0M1088.0 459.8h0M1110.6 462.0h0M1491.5 393.3h0M1439.7 404.6h0M1065.5 452.6h0M1132.3 470.7h0M1099.0 462.1h0M1577.7 392.9h0M1567.8 413.4h0M1147.3 447.2h0M1070.3 450.7h0M1147.3 466.2h0M1383.0 430.5h0M1182.6 460.5h0M1317.9 441.2h0M1611.7 397.2h0M1336.6 441.8h0M1623.3 417.6h0M1284.5 398.5h0M1370.7 439.9h0M1172.0 459.6h0M1414.7 399.0h0M1538.3 422.4h0M1517.2 402.5h0M1048.9 459.4h0M1499.5 379.9h0M1178.1 451.0h0M1016.4 451.5h0M1376.5 414.9h0M1509.7 405.5h0M1599.1 409.1h0M1080.9 466.7h0M1233.8 412.1h0M1540.5 400.9h0M961.2 467.1h0M1439.0 415.1h0M1442.9 418.5h0M1439.2 427.1h0M1579.4 392.1h0M1187.8 456.1h0M1115.6 465.6h0M1485.3 390.3h0M1333.9 443.6h0M1044.2 462.3h0M1219.3 437.5h0M1166.8 449.7h0M1013.2 458.9h0M1219.0 435.1h0M973.9 462.8h0M1448.1 398.9h0M1503.3 389.9h0M953.9 463.5h0M1026.6 476.9h0M1023.2 463.8h0M1533.3 406.7h0M1281.7 390.9h0M1538.1 403.1h0M1328.4 429.9h0M1110.7 463.9h0M1040.0 477.7h0M1232.0 404.6h0M1592.7 390.2h0M1346.3 421.9h0M1200.7 459.1h0M1593.1 398.7h0M1089.0 462.8h0M1604.7 426.4h0M1252.1 409.1h0M1272.4 393.9h0M1261.7 380.3h0M1523.6 415.2h0M1479.0 394.7h0M1395.5 446.4h0M1162.1 465.3h0M1059.9 459.9h0M1144.9 452.0h0M1129.3 462.0h0M1125.7 460.5h0M1416.2 442.0h0M1032.6 461.9h0M1334.0 434.2h0M999.1 453.1h0M1179.1 455.3h0M1346.3 440.9h0M1530.0 393.8h0M954.6 467.8h0M1555.6 392.1h0M1606.8 405.3h0M1083.4 467.7h0M1579.7 414.8h0M1236.2 397.0h0M1237.9 374.8h0M1003.1 472.5h0M1456.6 416.7h0M962.9 461.1h0M1463.2 426.3h0M1106.0 465.1h0M973.5 463.7h0M1514.9 393.0h0M992.0 460.3h0M1419.6 416.7h0M1111.1 462.4h0M1489.0 409.4h0" stroke="#e7d8da" stroke-width="7.8" stroke-linecap="round" fill="none"/>
<path d="M945.9 464.5 946.9 464.4 947.9 464.2 948.9 464.6 949.9 465.3 950.9 465.5 951.9 465.4 952.9 465.1 953.9 465.5 954.9 465.7 955.9 465.3 956.9 465.2 957.9 465.4 958.9 465.3 959.9 465.1 960.9 464.3 961.9 464.3 962.9 463.8 963.9 464.4 964.9 464.3 965.9 464.9 966.9 464.8 967.9 464.9 968.9 463.6 969.9 463.0 970.9 462.7 971.9 463.2 972.9 462.6 973.9 462.2 974.9 461.7 975.9 461.8 976.9 462.4 977.9 462.5 978.9 462.8 979.9 462.8 980.9 462.9 981.9 463.0 982.9 462.8 983.9 463.2 984.9 462.9 985.9 463.0 986.9 463.6 987.9 463.6 988.9 464.0 989.9 463.7 990.9 464.2 991.9 464.7 992.9 465.0 993.9 464.9 994.9 464.4 995.9 464.4 996.9 464.8 997.9 465.1 998.9 464.9 999.9 465.2 1000.9 465.5 1001.9 465.3 1002.9 465.1 1003.9 464.4 1004.9 464.6 1005.9 464.0 1006.9 463.9 1007.9 463.7 1008.9 464.3 1009.9 464.7 1010.9 464.2 1011.9 463.5 1012.9 463.2 1013.9 462.8 1014.9 462.8 1015.9 462.4 1016.9 463.4 1017.9 463.7 1018.9 463.5 1019.9 462.9 1020.9 462.5 1021.9 463.0 1022.9 462.9 1023.9 462.9 1024.9 462.5 1025.9 462.6 1026.9 462.8 1027.9 462.6 1028.9 463.0 1029.9 463.4 1030.9 464.6 1031.9 465.3 1032.9 466.0 1033.9 466.3 1034.9 466.4 1035.9 467.1 1036.9 467.1 1037.9 467.5 1038.9 466.8 1039.9 466.8 1040.9 466.0 1041.9 465.6 1042.9 465.3 1043.9 465.4 1044.9 465.9 1045.9 466.6 1046.9 466.4 1047.9 465.9 1048.9 465.0 1049.9 465.2 1050.9 465.2 1051.9 464.8 1052.9 464.7 1053.9 464.8 1054.9 464.3 1055.9 464.0 1056.9 463.7 1057.9 463.6 1058.9 463.7 1059.9 463.5 1060.9 464.1 1061.9 464.1 1062.9 464.5 1063.9 464.0 1064.9 463.9 1065.9 463.2 1066.9 463.1 1067.9 463.3 1068.9 463.3 1069.9 464.0 1070.9 463.3 1071.9 464.3 1072.9 463.8 1073.9 464.7 1074.9 464.6 1075.9 464.4 1076.9 464.6 1077.9 465.1 1078.9 465.6 1079.9 465.1 1080.9 464.7 1081.9 464.4 1082.9 464.9 1083.9 464.8 1084.9 465.2 1085.9 464.6 1086.9 464.7 1087.9 464.3 1088.9 465.1 1089.9 465.3 1090.9 466.1 1091.9 465.7 1092.9 465.6 1093.9 465.2 1094.9 465.0 1095.9 465.2 1096.9 465.2 1097.9 465.2 1098.9 464.8 1099.9 464.6 1100.9 465.2 1101.9 465.4 1102.9 465.2 1103.9 464.7 1104.9 465.4 1105.9 465.1 1106.9 464.9 1107.9 464.1 1108.9 463.9 1109.9 464.2 1110.9 464.3 1111.9 464.8 1112.9 464.2 1113.9 464.3 1114.9 463.9 1115.9 464.1 1116.9 463.4 1117.9 463.1 1118.9 463.5 1119.9 463.6 1120.9 464.0 1121.9 463.4 1122.9 463.4 1123.9 463.0 1124.9 463.1 1125.9 463.1 1126.9 463.1 1127.9 462.7 1128.9 463.1 1129.9 463.2 1130.9 463.2 1131.9 462.5 1132.9 461.6 1133.9 461.7 1134.9 462.0 1135.9 462.3 1136.9 462.0 1137.9 461.8 1138.9 461.9 1139.9 461.9 1140.9 461.4 1141.9 461.5 1142.9 460.7 1143.9 461.0 1144.9 460.6 1145.9 461.2 1146.9 461.5 1147.9 461.8 1148.9 461.1 1149.9 460.1 1150.9 460.2 1151.9 460.7 1152.9 461.9 1153.9 462.5 1154.9 462.8 1155.9 462.6 1156.9 462.7 1157.9 463.4 1158.9 464.0 1159.9 463.9 1160.9 463.5 1161.9 463.0 1162.9 462.8 1163.9 462.7 1164.9 462.5 1165.9 462.7 1166.9 462.8 1167.9 463.4 1168.9 462.8 1169.9 462.5 1170.9 461.9 1171.9 461.9 1172.9 462.1 1173.9 462.1 1174.9 462.5 1175.9 462.6 1176.9 463.5 1177.9 462.9 1178.9 463.1 1179.9 462.4 1180.9 462.9 1181.9 462.1 1182.9 462.0 1183.9 462.3 1184.9 462.8 1185.9 462.9 1186.9 462.6 1187.9 463.0 1188.9 463.0 1189.9 462.2 1190.9 461.4 1191.9 460.4 1192.9 459.7 1193.9 459.4 1194.9 460.0 1195.9 460.6 1196.9 459.9 1197.9 458.6 1198.9 458.4 1199.9 458.3 1200.9 458.1 1201.9 457.2 1202.9 456.7 1203.9 456.6 1204.9 456.4 1205.9 456.0 1206.9 455.0 1207.9 454.5 1208.9 453.8 1209.9 454.1 1210.9 453.0 1211.9 452.7 1212.9 451.8 1213.9 451.1 1214.9 451.1 1215.9 450.9 1216.9 450.4 1217.9 449.2 1218.9 447.8 1219.9 445.9 1220.9 444.4 1221.9 442.8 1222.9 442.2 1223.9 440.2 1224.9 438.4 1225.9 436.6 1226.9 435.5 1227.9 433.9 1228.9 431.8 1229.9 429.4 1230.9 426.4 1231.9 423.4 1232.9 419.4 1233.9 417.3 1234.9 415.1 1235.9 413.6 1236.9 411.1 1237.9 408.6 1238.9 406.3 1239.9 403.8 1240.9 401.7 1241.9 399.7 1242.9 398.5 1243.9 397.1 1244.9 395.6 1245.9 393.6 1246.9 392.0 1247.9 391.4 1248.9 390.6 1249.9 389.7 1250.9 388.0 1251.9 386.5 1252.9 385.7 1253.9 385.5 1254.9 385.3 1255.9 385.1 1256.9 384.7 1257.9 384.9 1258.9 384.5 1259.9 384.6 1260.9 384.4 1261.9 385.3 1262.9 385.3 1263.9 385.9 1264.9 386.3 1265.9 386.6 1266.9 386.4 1267.9 386.1 1268.9 386.4 1269.9 386.5 1270.9 386.8 1271.9 387.8 1272.9 388.5 1273.9 388.7 1274.9 388.2 1275.9 388.9 1276.9 389.1 1277.9 389.7 1278.9 390.6 1279.9 391.3 1280.9 392.7 1281.9 393.3 1282.9 394.3 1283.9 394.8 1284.9 395.6 1285.9 396.1 1286.9 396.5 1287.9 396.1 1288.9 397.0 1289.9 398.5 1290.9 400.1 1291.9 400.7 1292.9 400.9 1293.9 401.5 1294.9 403.1 1295.9 404.7 1296.9 406.3 1297.9 407.7 1298.9 409.2 1299.9 410.6 1300.9 412.1 1301.9 413.6 1302.9 415.5 1303.9 417.9 1304.9 420.0 1305.9 421.7 1306.9 422.3 1307.9 423.9 1308.9 424.6 1309.9 425.8 1310.9 426.9 1311.9 428.8 1312.9 430.1 1313.9 430.0 1314.9 430.2 1315.9 430.5 1316.9 431.7 1317.9 432.9 1318.9 433.5 1319.9 433.3 1320.9 432.3 1321.9 432.5 1322.9 432.9 1323.9 433.0 1324.9 433.3 1325.9 433.1 1326.9 434.1 1327.9 434.6 1328.9 435.5 1329.9 435.2 1330.9 435.2 1331.9 435.1 1332.9 435.4 1333.9 435.4 1334.9 435.3 1335.9 435.3 1336.9 436.0 1337.9 436.7 1338.9 437.6 1339.9 438.0 1340.9 437.8 1341.9 437.7 1342.9 437.6 1343.9 438.5 1344.9 438.8 1345.9 439.2 1346.9 439.2 1347.9 438.9 1348.9 438.0 1349.9 438.0 1350.9 438.2 1351.9 437.4 1352.9 437.1 1353.9 436.5 1354.9 437.0 1355.9 435.9 1356.9 435.0 1357.9 433.6 1358.9 434.0 1359.9 433.6 1360.9 434.1 1361.9 432.7 1362.9 432.5 1363.9 431.3 1364.9 431.3 1365.9 431.5 1366.9 431.5 1367.9 431.9 1368.9 431.6 1369.9 431.6 1370.9 430.9 1371.9 430.6 1372.9 430.8 1373.9 430.8 1374.9 430.6 1375.9 430.4 1376.9 430.2 1377.9 430.0 1378.9 430.0 1379.9 430.6 1380.9 430.5 1381.9 430.5 1382.9 430.0 1383.9 430.2 1384.9 430.4 1385.9 430.5 1386.9 431.4 1387.9 431.0 1388.9 431.4 1389.9 431.0 1390.9 431.3 1391.9 431.6 1392.9 431.8 1393.9 432.5 1394.9 432.6 1395.9 432.5 1396.9 432.5 1397.9 432.7 1398.9 433.5 1399.9 433.4 1400.9 433.4 1401.9 432.5 1402.9 432.9 1403.9 432.4 1404.9 432.1 1405.9 431.5 1406.9 431.8 1407.9 431.5 1408.9 430.7 1409.9 429.5 1410.9 429.1 1411.9 429.0 1412.9 428.5 1413.9 428.1 1414.9 427.6 1415.9 427.1 1416.9 427.1 1417.9 426.2 1418.9 425.7 1419.9 424.6 1420.9 425.2 1421.9 425.2 1422.9 425.6 1423.9 424.6 1424.9 424.5 1425.9 424.2 1426.9 424.5 1427.9 423.8 1428.9 423.0 1429.9 421.8 1430.9 421.4 1431.9 421.9 1432.9 422.2 1433.9 422.0 1434.9 421.0 1435.9 420.2 1436.9 420.7 1437.9 419.9 1438.9 419.8 1439.9 418.6 1440.9 419.5 1441.9 418.5 1442.9 418.4 1443.9 417.1 1444.9 416.7 1445.9 416.8 1446.9 417.0 1447.9 416.7 1448.9 415.5 1449.9 414.1 1450.9 413.6 1451.9 413.3 1452.9 413.4 1453.9 412.9 1454.9 412.0 1455.9 411.5 1456.9 411.0 1457.9 411.2 1458.9 411.3 1459.9 410.7 1460.9 409.5 1461.9 408.3 1462.9 407.5 1463.9 406.9 1464.9 406.2 1465.9 405.3 1466.9 405.0 1467.9 404.2 1468.9 403.8 1469.9 402.8 1470.9 401.7 1471.9 400.5 1472.9 399.7 1473.9 399.0 1474.9 398.6 1475.9 398.0 1476.9 397.0 1477.9 396.3 1478.9 395.3 1479.9 395.0 1480.9 394.4 1481.9 393.8 1482.9 393.7 1483.9 393.6 1484.9 394.1 1485.9 393.9 1486.9 393.7 1487.9 393.6 1488.9 393.9 1489.9 394.1 1490.9 394.9 1491.9 394.9 1492.9 395.6 1493.9 396.0 1494.9 396.8 1495.9 396.9 1496.9 397.4 1497.9 397.2 1498.9 397.7 1499.9 397.7 1500.9 398.4 1501.9 398.5 1502.9 398.3 1503.9 398.2 1504.9 398.3 1505.9 398.7 1506.9 398.9 1507.9 398.2 1508.9 398.3 1509.9 398.7 1510.9 399.5 1511.9 399.5 1512.9 398.6 1513.9 398.6 1514.9 398.5 1515.9 398.2 1516.9 398.0 1517.9 397.6 1518.9 398.1 1519.9 397.8 1520.9 398.8 1521.9 399.1 1522.9 399.5 1523.9 399.7 1524.9 400.4 1525.9 400.4 1526.9 399.8 1527.9 399.0 1528.9 399.1 1529.9 399.6 1530.9 400.5 1531.9 401.2 1532.9 401.8 1533.9 401.9 1534.9 402.3 1535.9 402.7 1536.9 403.6 1537.9 404.4 1538.9 404.7 1539.9 404.7 1540.9 404.7 1541.9 404.4 1542.9 404.0 1543.9 404.1 1544.9 404.4 1545.9 405.1 1546.9 404.3 1547.9 404.2 1548.9 403.9 1549.9 404.2 1550.9 403.6 1551.9 403.6 1552.9 404.2 1553.9 405.1 1554.9 405.0 1555.9 404.7 1556.9 404.8 1557.9 404.1 1558.9 404.1 1559.9 404.0 1560.9 405.1 1561.9 405.5 1562.9 405.4 1563.9 404.9 1564.9 404.0 1565.9 403.4 1566.9 402.7 1567.9 402.0 1568.9 401.6 1569.9 402.0 1570.9 401.5 1571.9 400.8 1572.9 399.8 1573.9 400.1 1574.9 400.0 1575.9 400.3 1576.9 399.6 1577.9 399.6 1578.9 399.1 1579.9 399.8 1580.9 400.3 1581.9 400.0 1582.9 399.6 1583.9 399.6 1584.9 400.0 1585.9 400.0 1586.9 400.5 1587.9 401.1 1588.9 402.0 1589.9 401.7 1590.9 402.1 1591.9 402.1 1592.9 402.9 1593.9 402.6 1594.9 402.7 1595.9 402.9 1596.9 403.4 1597.9 404.4 1598.9 404.9 1599.9 405.3 1600.9 405.7 1601.9 406.0 1602.9 407.1 1603.9 407.3 1604.9 407.7 1605.9 408.2 1606.9 409.5 1607.9 410.6 1608.9 410.4 1609.9 409.9 1610.9 410.0 1611.9 410.1 1612.9 409.9 1613.9 409.6 1614.9 410.0 1615.9 410.2 1616.9 409.8 1617.9 409.3 1618.9 410.0 1619.9 410.4 1620.9 411.0 1621.9 410.9 1622.9 411.5 1623.9 411.6 1624.9 411.7 1625.9 411.3 1626.9 411.4 1627.9 410.9 1628.9 411.6 1629.9 411.7" stroke="#821719" stroke-width="6.2" stroke-linejoin="round" stroke-linecap="round" fill="none"/>
<path d="M945.9 457.2 946.9 456.9 947.9 457.2 948.9 457.0 949.9 458.1 950.9 458.5 951.9 459.3 952.9 459.2 953.9 458.9 954.9 458.7 955.9 459.0 956.9 458.8 957.9 458.5 958.9 457.7 959.9 457.9 960.9 456.9 961.9 456.2 962.9 455.2 963.9 455.0 964.9 454.0 965.9 453.7 966.9 453.4 967.9 453.9 968.9 453.9 969.9 454.1 970.9 453.8 971.9 454.6 972.9 454.6 973.9 454.7 974.9 454.5 975.9 455.6 976.9 456.5 977.9 457.3 978.9 457.6 979.9 457.8 980.9 456.6 981.9 455.9 982.9 456.7 983.9 457.3 984.9 457.2 985.9 456.4 986.9 456.8 987.9 457.3 988.9 458.1 989.9 458.5 990.9 458.2 991.9 457.9 992.9 457.2 993.9 457.6 994.9 457.3 995.9 457.3 996.9 458.0 997.9 458.4 998.9 459.1 999.9 459.2 1000.9 459.5 1001.9 459.3 1002.9 458.4 1003.9 457.9 1004.9 458.3 1005.9 458.2 1006.9 459.0 1007.9 458.4 1008.9 458.3 1009.9 457.5 1010.9 457.7 1011.9 457.7 1012.9 458.2 1013.9 457.6 1014.9 457.5 1015.9 457.5 1016.9 457.4 1017.9 457.4 1018.9 457.1 1019.9 457.2 1020.9 456.7 1021.9 455.3 1022.9 455.8 1023.9 456.1 1024.9 457.1 1025.9 456.0 1026.9 456.3 1027.9 455.9 1028.9 456.0 1029.9 455.0 1030.9 454.8 1031.9 454.5 1032.9 454.7 1033.9 453.9 1034.9 453.9 1035.9 454.0 1036.9 454.1 1037.9 454.3 1038.9 454.5 1039.9 454.8 1040.9 454.6 1041.9 454.2 1042.9 454.7 1043.9 454.5 1044.9 454.7 1045.9 454.3 1046.9 455.0 1047.9 455.1 1048.9 455.0 1049.9 455.8 1050.9 456.0 1051.9 456.0 1052.9 455.1 1053.9 455.2 1054.9 456.0 1055.9 456.0 1056.9 456.4 1057.9 456.0 1058.9 456.4 1059.9 456.7 1060.9 458.0 1061.9 458.6 1062.9 458.5 1063.9 458.7 1064.9 458.7 1065.9 459.2 1066.9 459.2 1067.9 460.2 1068.9 460.5 1069.9 460.6 1070.9 460.7 1071.9 460.5 1072.9 461.1 1073.9 460.9 1074.9 461.2 1075.9 461.0 1076.9 461.5 1077.9 462.3 1078.9 462.5 1079.9 463.0 1080.9 463.3 1081.9 463.6 1082.9 463.2 1083.9 463.4 1084.9 463.7 1085.9 463.5 1086.9 463.1 1087.9 463.2 1088.9 463.6 1089.9 463.8 1090.9 463.3 1091.9 464.0 1092.9 464.4 1093.9 465.1 1094.9 465.4 1095.9 465.2 1096.9 464.9 1097.9 464.9 1098.9 464.4 1099.9 464.4 1100.9 462.9 1101.9 463.1 1102.9 463.1 1103.9 463.2 1104.9 462.5 1105.9 462.2 1106.9 461.5 1107.9 461.4 1108.9 460.4 1109.9 459.9 1110.9 460.1 1111.9 460.4 1112.9 460.9 1113.9 460.4 1114.9 459.7 1115.9 459.5 1116.9 458.2 1117.9 458.0 1118.9 457.7 1119.9 457.9 1120.9 457.9 1121.9 457.6 1122.9 458.1 1123.9 457.9 1124.9 458.0 1125.9 458.0 1126.9 457.5 1127.9 457.1 1128.9 456.7 1129.9 456.9 1130.9 456.6 1131.9 456.9 1132.9 457.1 1133.9 457.7 1134.9 457.8 1135.9 457.7 1136.9 456.9 1137.9 455.9 1138.9 455.1 1139.9 455.2 1140.9 455.2 1141.9 455.5 1142.9 455.7 1143.9 455.5 1144.9 455.3 1145.9 454.5 1146.9 454.1 1147.9 453.2 1148.9 453.2 1149.9 452.9 1150.9 453.4 1151.9 454.0 1152.9 454.2 1153.9 454.0 1154.9 454.3 1155.9 455.2 1156.9 456.0 1157.9 456.1 1158.9 457.0 1159.9 457.7 1160.9 457.9 1161.9 457.1 1162.9 456.3 1163.9 457.1 1164.9 458.0 1165.9 459.5 1166.9 459.6 1167.9 459.4 1168.9 459.2 1169.9 459.5 1170.9 459.8 1171.9 459.6 1172.9 459.9 1173.9 459.6 1174.9 459.5 1175.9 459.3 1176.9 460.0 1177.9 459.9 1178.9 459.0 1179.9 458.9 1180.9 459.4 1181.9 459.9 1182.9 459.6 1183.9 459.3 1184.9 458.8 1185.9 458.0 1186.9 457.8 1187.9 456.8 1188.9 456.7 1189.9 455.5 1190.9 456.0 1191.9 455.5 1192.9 455.0 1193.9 453.5 1194.9 453.5 1195.9 453.3 1196.9 453.6 1197.9 452.7 1198.9 452.2 1199.9 451.1 1200.9 450.7 1201.9 450.1 1202.9 450.2 1203.9 449.6 1204.9 449.0 1205.9 447.6 1206.9 446.9 1207.9 445.8 1208.9 445.3 1209.9 444.9 1210.9 443.8 1211.9 443.1 1212.9 441.4 1213.9 440.7 1214.9 439.0 1215.9 437.7 1216.9 435.8 1217.9 434.0 1218.9 431.3 1219.9 428.5 1220.9 424.5 1221.9 420.9 1222.9 417.5 1223.9 413.3 1224.9 409.0 1225.9 404.2 1226.9 401.1 1227.9 396.9 1228.9 392.8 1229.9 388.2 1230.9 383.7 1231.9 378.8 1232.9 374.2 1233.9 369.8 1234.9 365.4 1235.9 361.2 1236.9 357.0 1237.9 353.2 1238.9 347.6 1239.9 339.6 1240.9 330.2 1241.9 322.9 1242.9 318.2 1243.9 314.2 1244.9 309.4 1245.9 304.2 1246.9 297.5 1247.9 291.2 1248.9 283.9 1249.9 277.4 1250.9 271.8 1251.9 267.5 1252.9 263.4 1253.9 258.6 1254.9 252.9 1255.9 244.9 1256.9 238.1 1257.9 234.9 1258.9 232.5 1259.9 230.9 1260.9 229.4 1261.9 228.2 1262.9 227.2 1263.9 225.9 1264.9 225.4 1265.9 222.6 1266.9 220.4 1267.9 216.2 1268.9 214.3 1269.9 212.6 1270.9 212.2 1271.9 212.0 1272.9 211.4 1273.9 210.5 1274.9 209.6 1275.9 208.9 1276.9 209.0 1277.9 209.4 1278.9 210.0 1279.9 210.6 1280.9 210.5 1281.9 210.6 1282.9 210.2 1283.9 210.4 1284.9 210.9 1285.9 212.3 1286.9 213.4 1287.9 214.4 1288.9 214.6 1289.9 215.5 1290.9 216.4 1291.9 217.2 1292.9 217.3 1293.9 217.7 1294.9 218.5 1295.9 219.1 1296.9 219.8 1297.9 220.6 1298.9 221.6 1299.9 221.8 1300.9 222.3 1301.9 223.9 1302.9 225.2 1303.9 227.3 1304.9 228.4 1305.9 230.7 1306.9 232.2 1307.9 234.4 1308.9 236.6 1309.9 239.2 1310.9 241.5 1311.9 244.9 1312.9 248.7 1313.9 252.6 1314.9 256.5 1315.9 260.4 1316.9 264.5 1317.9 267.8 1318.9 270.9 1319.9 274.6 1320.9 278.5 1321.9 283.6 1322.9 288.0 1323.9 292.0 1324.9 295.6 1325.9 299.4 1326.9 302.0 1327.9 303.5 1328.9 304.2 1329.9 306.2 1330.9 307.5 1331.9 308.9 1332.9 309.6 1333.9 310.6 1334.9 312.0 1335.9 312.9 1336.9 314.8 1337.9 316.4 1338.9 318.5 1339.9 319.8 1340.9 321.4 1341.9 322.6 1342.9 323.9 1343.9 325.8 1344.9 328.4 1345.9 331.8 1346.9 333.7 1347.9 336.7 1348.9 339.4 1349.9 342.6 1350.9 344.4 1351.9 345.0 1352.9 346.3 1353.9 346.8 1354.9 347.6 1355.9 346.6 1356.9 346.1 1357.9 346.8 1358.9 348.1 1359.9 349.3 1360.9 348.9 1361.9 348.8 1362.9 348.7 1363.9 348.4 1364.9 348.4 1365.9 347.1 1366.9 346.5 1367.9 344.9 1368.9 344.2 1369.9 343.4 1370.9 342.0 1371.9 340.9 1372.9 339.6 1373.9 339.4 1374.9 338.6 1375.9 337.8 1376.9 337.0 1377.9 336.8 1378.9 336.6 1379.9 335.8 1380.9 335.0 1381.9 333.7 1382.9 333.1 1383.9 332.6 1384.9 332.8 1385.9 332.8 1386.9 332.9 1387.9 333.4 1388.9 334.4 1389.9 334.4 1390.9 334.3 1391.9 334.2 1392.9 334.8 1393.9 335.1 1394.9 335.5 1395.9 335.7 1396.9 336.1 1397.9 335.5 1398.9 335.4 1399.9 335.6 1400.9 335.4 1401.9 336.5 1402.9 336.4 1403.9 336.5 1404.9 335.3 1405.9 335.0 1406.9 335.2 1407.9 335.2 1408.9 334.5 1409.9 333.8 1410.9 332.8 1411.9 333.1 1412.9 332.7 1413.9 332.6 1414.9 331.4 1415.9 330.0 1416.9 328.9 1417.9 328.2 1418.9 327.3 1419.9 326.6 1420.9 325.4 1421.9 324.6 1422.9 323.7 1423.9 323.2 1424.9 322.3 1425.9 321.7 1426.9 320.4 1427.9 319.6 1428.9 318.5 1429.9 318.3 1430.9 317.8 1431.9 317.8 1432.9 316.5 1433.9 316.1 1434.9 314.6 1435.9 314.7 1436.9 313.7 1437.9 313.7 1438.9 312.4 1439.9 311.8 1440.9 311.1 1441.9 310.2 1442.9 309.5 1443.9 309.3 1444.9 309.0 1445.9 309.1 1446.9 307.7 1447.9 306.9 1448.9 305.9 1449.9 305.8 1450.9 305.8 1451.9 305.3 1452.9 304.7 1453.9 303.9 1454.9 303.7 1455.9 303.0 1456.9 302.5 1457.9 302.1 1458.9 301.9 1459.9 301.8 1460.9 301.1 1461.9 300.2 1462.9 299.5 1463.9 299.4 1464.9 298.7 1465.9 298.9 1466.9 298.0 1467.9 297.6 1468.9 297.3 1469.9 297.2 1470.9 297.7 1471.9 297.1 1472.9 296.8 1473.9 295.8 1474.9 295.4 1475.9 295.5 1476.9 295.7 1477.9 295.7 1478.9 294.7 1479.9 294.1 1480.9 293.6 1481.9 293.6 1482.9 292.8 1483.9 292.9 1484.9 293.3 1485.9 293.8 1486.9 293.6 1487.9 293.8 1488.9 294.3 1489.9 294.3 1490.9 292.9 1491.9 292.8 1492.9 293.1 1493.9 294.7 1494.9 294.8 1495.9 294.9 1496.9 295.3 1497.9 295.9 1498.9 296.7 1499.9 297.1 1500.9 297.7 1501.9 297.5 1502.9 297.8 1503.9 297.8 1504.9 298.3 1505.9 298.1 1506.9 297.6 1507.9 297.2 1508.9 296.0 1509.9 295.6 1510.9 295.1 1511.9 294.9 1512.9 294.1 1513.9 293.3 1514.9 292.3 1515.9 290.9 1516.9 290.1 1517.9 289.3 1518.9 289.1 1519.9 287.4 1520.9 285.8 1521.9 283.7 1522.9 281.5 1523.9 279.7 1524.9 278.0 1525.9 277.6 1526.9 275.7 1527.9 274.8 1528.9 273.3 1529.9 273.4 1530.9 273.0 1531.9 272.7 1532.9 272.7 1533.9 271.8 1534.9 271.7 1535.9 271.1 1536.9 271.1 1537.9 270.1 1538.9 269.4 1539.9 269.7 1540.9 269.9 1541.9 270.4 1542.9 270.6 1543.9 271.5 1544.9 272.3 1545.9 272.8 1546.9 273.2 1547.9 274.0 1548.9 274.6 1549.9 275.7 1550.9 276.9 1551.9 278.4 1552.9 278.8 1553.9 279.0 1554.9 279.1 1555.9 280.4 1556.9 281.1 1557.9 282.7 1558.9 282.1 1559.9 282.8 1560.9 282.6 1561.9 283.4 1562.9 283.5 1563.9 283.9 1564.9 283.8 1565.9 283.7 1566.9 282.6 1567.9 282.0 1568.9 281.1 1569.9 281.2 1570.9 281.4 1571.9 281.0 1572.9 280.5 1573.9 280.3 1574.9 280.6 1575.9 280.6 1576.9 279.7 1577.9 279.0 1578.9 278.1 1579.9 278.5 1580.9 279.2 1581.9 279.4 1582.9 279.5 1583.9 279.5 1584.9 279.6 1585.9 279.9 1586.9 279.8 1587.9 280.7 1588.9 281.1 1589.9 281.2 1590.9 280.7 1591.9 281.0 1592.9 281.1 1593.9 281.9 1594.9 281.3 1595.9 281.4 1596.9 281.7 1597.9 282.1 1598.9 282.3 1599.9 281.6 1600.9 281.2 1601.9 281.1 1602.9 280.7 1603.9 280.9 1604.9 280.1 1605.9 279.6 1606.9 277.9 1607.9 277.5 1608.9 275.9 1609.9 275.0 1610.9 273.9 1611.9 273.7 1612.9 273.5 1613.9 272.9 1614.9 271.5 1615.9 270.3 1616.9 270.2 1617.9 269.3 1618.9 268.1 1619.9 265.9 1620.9 264.6 1621.9 263.8 1622.9 263.2 1623.9 261.7 1624.9 261.4 1625.9 260.7 1626.9 260.9 1627.9 260.4 1628.9 259.2 1629.9 258.3 1630.9 257.2 1631.9 257.3 1632.9 257.6 1633.9 257.2 1634.9 257.5" stroke="#447545" stroke-width="6.2" stroke-linejoin="round" stroke-linecap="round" fill="none"/>
<path d="M940.3 11.3V504.8H1630.7" stroke="#404040" stroke-width="3.8" fill="none"/>
<line x1="940.3" y1="504.8" x2="949.3" y2="504.8" stroke="#404040" stroke-width="3.8"/>
<line x1="940.3" y1="422.9" x2="949.3" y2="422.9" stroke="#404040" stroke-width="3.8"/>
<line x1="940.3" y1="341.0" x2="949.3" y2="341.0" stroke="#404040" stroke-width="3.8"/>
<line x1="940.3" y1="259.0" x2="949.3" y2="259.0" stroke="#404040" stroke-width="3.8"/>
<line x1="940.3" y1="177.1" x2="949.3" y2="177.1" stroke="#404040" stroke-width="3.8"/>
<line x1="940.3" y1="95.2" x2="949.3" y2="95.2" stroke="#404040" stroke-width="3.8"/>
<line x1="940.3" y1="13.3" x2="949.3" y2="13.3" stroke="#404040" stroke-width="3.8"/>
<line x1="1055.0" y1="504.8" x2="1055.0" y2="496.3" stroke="#404040" stroke-width="3.6"/>
<line x1="1169.6" y1="504.8" x2="1169.6" y2="496.3" stroke="#404040" stroke-width="3.6"/>
<line x1="1284.2" y1="504.8" x2="1284.2" y2="496.3" stroke="#404040" stroke-width="3.6"/>
<line x1="1398.9" y1="504.8" x2="1398.9" y2="496.3" stroke="#404040" stroke-width="3.6"/>
<line x1="1513.5" y1="504.8" x2="1513.5" y2="496.3" stroke="#404040" stroke-width="3.6"/>
<line x1="1628.2" y1="504.8" x2="1628.2" y2="496.3" stroke="#404040" stroke-width="3.6"/>
<line x1="184.5" y1="839.3" x2="184.5" y2="731.5" stroke="#000" stroke-width="3.2"/>
<line x1="174.5" y1="731.5" x2="194.5" y2="731.5" stroke="#000" stroke-width="3.3" stroke-linecap="round"/>
<rect x="166.3" y="840.6" width="39.6" height="354.0" fill="#447444" stroke="#000" stroke-width="2.6"/>
<line x1="242.4" y1="1030.3" x2="242.4" y2="912.0" stroke="#000" stroke-width="3.2"/>
<line x1="232.4" y1="912.0" x2="252.4" y2="912.0" stroke="#000" stroke-width="3.3" stroke-linecap="round"/>
<rect x="223.3" y="1031.6" width="39.4" height="163.0" fill="#821719" stroke="#000" stroke-width="2.6"/>
<line x1="413.8" y1="952.8" x2="413.8" y2="846.5" stroke="#000" stroke-width="3.2"/>
<line x1="403.8" y1="846.5" x2="423.8" y2="846.5" stroke="#000" stroke-width="3.3" stroke-linecap="round"/>
<rect x="394.7" y="954.1" width="38.6" height="240.5" fill="#447444" stroke="#000" stroke-width="2.6"/>
<line x1="470.4" y1="1106.5" x2="470.4" y2="998.6" stroke="#000" stroke-width="3.2"/>
<line x1="460.4" y1="998.6" x2="480.4" y2="998.6" stroke="#000" stroke-width="3.3" stroke-linecap="round"/>
<rect x="452.1" y="1107.8" width="38.4" height="86.8" fill="#821719" stroke="#000" stroke-width="2.6"/>
<line x1="668.1" y1="899.6" x2="668.1" y2="797.3" stroke="#000" stroke-width="3.2"/>
<line x1="658.1" y1="797.3" x2="678.1" y2="797.3" stroke="#000" stroke-width="3.3" stroke-linecap="round"/>
<rect x="649.9" y="900.9" width="38.6" height="293.7" fill="#447444" stroke="#000" stroke-width="2.6"/>
<line x1="725.6" y1="1058.2" x2="725.6" y2="948.2" stroke="#000" stroke-width="3.2"/>
<line x1="715.6" y1="948.2" x2="735.6" y2="948.2" stroke="#000" stroke-width="3.3" stroke-linecap="round"/>
<rect x="707.3" y="1059.5" width="38.4" height="135.1" fill="#821719" stroke="#000" stroke-width="2.6"/>
<path d="M94.9 707.4H106.4V1194.6H797.5" stroke="#000" stroke-width="4" stroke-linecap="round" stroke-linejoin="round" fill="none"/>
<line x1="94.9" y1="1194.6" x2="106.4" y2="1194.6" stroke="#000" stroke-width="3.8" stroke-linecap="round"/>
<line x1="94.9" y1="1150.3" x2="106.4" y2="1150.3" stroke="#000" stroke-width="3.8" stroke-linecap="round"/>
<line x1="94.9" y1="1106.0" x2="106.4" y2="1106.0" stroke="#000" stroke-width="3.8" stroke-linecap="round"/>
<line x1="94.9" y1="1061.7" x2="106.4" y2="1061.7" stroke="#000" stroke-width="3.8" stroke-linecap="round"/>
<line x1="94.9" y1="1017.4" x2="106.4" y2="1017.4" stroke="#000" stroke-width="3.8" stroke-linecap="round"/>
<line x1="94.9" y1="973.1" x2="106.4" y2="973.1" stroke="#000" stroke-width="3.8" stroke-linecap="round"/>
<line x1="94.9" y1="928.9" x2="106.4" y2="928.9" stroke="#000" stroke-width="3.8" stroke-linecap="round"/>
<line x1="94.9" y1="884.6" x2="106.4" y2="884.6" stroke="#000" stroke-width="3.8" stroke-linecap="round"/>
<line x1="94.9" y1="840.3" x2="106.4" y2="840.3" stroke="#000" stroke-width="3.8" stroke-linecap="round"/>
<line x1="94.9" y1="796.0" x2="106.4" y2="796.0" stroke="#000" stroke-width="3.8" stroke-linecap="round"/>
<line x1="94.9" y1="751.7" x2="106.4" y2="751.7" stroke="#000" stroke-width="3.8" stroke-linecap="round"/>
<line x1="212.9" y1="1194.6" x2="212.9" y2="1207.6" stroke="#000" stroke-width="4"/>
<line x1="441.9" y1="1194.6" x2="441.9" y2="1207.6" stroke="#000" stroke-width="4"/>
<line x1="697.6" y1="1194.6" x2="697.6" y2="1207.6" stroke="#000" stroke-width="4"/>
<line x1="1018.0" y1="933.8" x2="1018.0" y2="836.5" stroke="#000" stroke-width="3.2"/>
<line x1="1008.0" y1="836.5" x2="1028.0" y2="836.5" stroke="#000" stroke-width="3.3" stroke-linecap="round"/>
<rect x="998.9" y="935.1" width="38.6" height="258.1" fill="#447444" stroke="#000" stroke-width="2.6"/>
<line x1="1075.4" y1="1067.5" x2="1075.4" y2="995.7" stroke="#000" stroke-width="3.2"/>
<line x1="1065.4" y1="995.7" x2="1085.4" y2="995.7" stroke="#000" stroke-width="3.3" stroke-linecap="round"/>
<rect x="1055.9" y="1068.8" width="38.4" height="124.4" fill="#821719" stroke="#000" stroke-width="2.6"/>
<line x1="1245.0" y1="1039.0" x2="1245.0" y2="978.1" stroke="#000" stroke-width="3.2"/>
<line x1="1235.0" y1="978.1" x2="1255.0" y2="978.1" stroke="#000" stroke-width="3.3" stroke-linecap="round"/>
<rect x="1225.3" y="1040.3" width="38.8" height="152.9" fill="#447444" stroke="#000" stroke-width="2.6"/>
<line x1="1301.6" y1="1119.3" x2="1301.6" y2="1061.2" stroke="#000" stroke-width="3.2"/>
<line x1="1291.6" y1="1061.2" x2="1311.6" y2="1061.2" stroke="#000" stroke-width="3.3" stroke-linecap="round"/>
<rect x="1282.2" y="1120.6" width="39.0" height="72.6" fill="#821719" stroke="#000" stroke-width="2.6"/>
<line x1="1502.3" y1="977.8" x2="1502.3" y2="912.8" stroke="#000" stroke-width="3.2"/>
<line x1="1492.3" y1="912.8" x2="1512.3" y2="912.8" stroke="#000" stroke-width="3.3" stroke-linecap="round"/>
<rect x="1483.2" y="979.1" width="38.8" height="214.1" fill="#447444" stroke="#000" stroke-width="2.6"/>
<line x1="1559.5" y1="1071.6" x2="1559.5" y2="985.0" stroke="#000" stroke-width="3.2"/>
<line x1="1549.5" y1="985.0" x2="1569.5" y2="985.0" stroke="#000" stroke-width="3.3" stroke-linecap="round"/>
<rect x="1540.3" y="1072.9" width="39.0" height="120.3" fill="#821719" stroke="#000" stroke-width="2.6"/>
<path d="M926.8 706.4H938.3V1193.2H1631.0" stroke="#000" stroke-width="4" stroke-linecap="round" stroke-linejoin="round" fill="none"/>
<line x1="926.8" y1="1193.2" x2="938.3" y2="1193.2" stroke="#000" stroke-width="3.8" stroke-linecap="round"/>
<line x1="926.8" y1="1148.9" x2="938.3" y2="1148.9" stroke="#000" stroke-width="3.8" stroke-linecap="round"/>
<line x1="926.8" y1="1104.7" x2="938.3" y2="1104.7" stroke="#000" stroke-width="3.8" stroke-linecap="round"/>
<line x1="926.8" y1="1060.4" x2="938.3" y2="1060.4" stroke="#000" stroke-width="3.8" stroke-linecap="round"/>
<line x1="926.8" y1="1016.2" x2="938.3" y2="1016.2" stroke="#000" stroke-width="3.8" stroke-linecap="round"/>
<line x1="926.8" y1="971.9" x2="938.3" y2="971.9" stroke="#000" stroke-width="3.8" stroke-linecap="round"/>
<line x1="926.8" y1="927.7" x2="938.3" y2="927.7" stroke="#000" stroke-width="3.8" stroke-linecap="round"/>
<line x1="926.8" y1="883.4" x2="938.3" y2="883.4" stroke="#000" stroke-width="3.8" stroke-linecap="round"/>
<line x1="926.8" y1="839.2" x2="938.3" y2="839.2" stroke="#000" stroke-width="3.8" stroke-linecap="round"/>
<line x1="926.8" y1="794.9" x2="938.3" y2="794.9" stroke="#000" stroke-width="3.8" stroke-linecap="round"/>
<line x1="926.8" y1="750.7" x2="938.3" y2="750.7" stroke="#000" stroke-width="3.8" stroke-linecap="round"/>
<line x1="1044.3" y1="1193.2" x2="1044.3" y2="1206.2" stroke="#000" stroke-width="4"/>
<line x1="1273.5" y1="1193.2" x2="1273.5" y2="1206.2" stroke="#000" stroke-width="4"/>
<line x1="1529.5" y1="1193.2" x2="1529.5" y2="1206.2" stroke="#000" stroke-width="4"/>
<rect x="1366.5" y="35.6" width="45.4" height="23.1" fill="#447444" stroke="#000" stroke-width="2.4"/>
<rect x="1366.5" y="74.4" width="45.1" height="23.2" fill="#821719" stroke="#000" stroke-width="2.4"/>
<text x="8.8" y="34.4" font-size="43" font-weight="bold">A</text>
<text x="845.1" y="34.7" font-size="43" font-weight="bold">B</text>
<text x="13.2" y="674.0" font-size="43" font-weight="bold">C</text>
<text x="847.5" y="671.3" font-size="43" font-weight="bold">D</text>
<text x="44.6" y="28.1" font-size="36" font-weight="bold">1.5</text>
<text x="46.2" y="192.6" font-size="36" font-weight="bold">1.0</text>
<text x="44.6" y="356.4" font-size="36" font-weight="bold">0.5</text>
<text x="65.2" y="520.8" font-size="36" font-weight="bold">0</text>
<text x="880.4" y="28.5" font-size="36" font-weight="bold">1.5</text>
<text x="881.5" y="192.8" font-size="36" font-weight="bold">1.0</text>
<text x="880.0" y="356.6" font-size="36" font-weight="bold">0.5</text>
<text x="900.4" y="520.8" font-size="36" font-weight="bold">0</text>
<text x="209.9" y="541.4" font-size="36" font-weight="bold">5</text>
<text x="314.1" y="541.4" font-size="36" font-weight="bold">10</text>
<text x="428.8" y="541.4" font-size="36" font-weight="bold">15</text>
<text x="543.9" y="541.4" font-size="36" font-weight="bold">20</text>
<text x="658.5" y="541.4" font-size="36" font-weight="bold">25</text>
<text x="772.5" y="541.4" font-size="36" font-weight="bold">30</text>
<text x="1045.0" y="541.4" font-size="36" font-weight="bold">5</text>
<text x="1149.1" y="541.4" font-size="36" font-weight="bold">10</text>
<text x="1263.8" y="541.4" font-size="36" font-weight="bold">15</text>
<text x="1378.9" y="541.4" font-size="36" font-weight="bold">20</text>
<text x="1493.5" y="541.4" font-size="36" font-weight="bold">25</text>
<text x="1607.5" y="541.4" font-size="36" font-weight="bold">30</text>
<text x="368.8" y="585.5" font-size="36" font-weight="bold">Time(min)</text>
<text x="1207.4" y="587.4" font-size="36" font-weight="bold">Time(min)</text>
<text x="0" y="0" font-size="36" font-weight="bold" transform="translate(28.7 321.2) rotate(-90)">PI 420 (a.u.)</text>
<text x="0" y="0" font-size="36" font-weight="bold" transform="translate(867.2 325.4) rotate(-90)">PI 540 (a.u.)</text>
<text x="0" y="0" font-size="36" font-weight="bold" transform="translate(30.3 1148.7) rotate(-90)">Normalized PI 420 (a.u.)</text>
<text x="0" y="0" font-size="36" font-weight="bold" transform="translate(868.8 1144.0) rotate(-90)">Normalized PI 540 (a.u.)</text>
<text x="83.7" y="1202.7" font-size="36" font-weight="bold" text-anchor="end">1</text>
<text x="917.3" y="1199.7" font-size="36" font-weight="bold" text-anchor="end">1</text>
<text x="83.7" y="1158.9" font-size="36" font-weight="bold" text-anchor="end">2</text>
<text x="917.3" y="1155.4" font-size="36" font-weight="bold" text-anchor="end">2</text>
<text x="83.7" y="1115.1" font-size="36" font-weight="bold" text-anchor="end">3</text>
<text x="917.3" y="1111.1" font-size="36" font-weight="bold" text-anchor="end">3</text>
<text x="83.7" y="1071.3" font-size="36" font-weight="bold" text-anchor="end">4</text>
<text x="917.3" y="1066.8" font-size="36" font-weight="bold" text-anchor="end">4</text>
<text x="83.7" y="1027.5" font-size="36" font-weight="bold" text-anchor="end">5</text>
<text x="917.3" y="1022.5" font-size="36" font-weight="bold" text-anchor="end">5</text>
<text x="83.7" y="983.7" font-size="36" font-weight="bold" text-anchor="end">6</text>
<text x="917.3" y="978.2" font-size="36" font-weight="bold" text-anchor="end">6</text>
<text x="83.7" y="939.9" font-size="36" font-weight="bold" text-anchor="end">7</text>
<text x="917.3" y="934.0" font-size="36" font-weight="bold" text-anchor="end">7</text>
<text x="83.7" y="896.1" font-size="36" font-weight="bold" text-anchor="end">8</text>
<text x="917.3" y="889.7" font-size="36" font-weight="bold" text-anchor="end">8</text>
<text x="83.7" y="852.3" font-size="36" font-weight="bold" text-anchor="end">9</text>
<text x="917.3" y="845.4" font-size="36" font-weight="bold" text-anchor="end">9</text>
<text x="48.1" y="808.5" font-size="36" font-weight="bold">10</text>
<text x="877.9" y="801.1" font-size="36" font-weight="bold">10</text>
<text x="49.1" y="764.7" font-size="36" font-weight="bold">11</text>
<text x="878.9" y="756.8" font-size="36" font-weight="bold">11</text>
<text x="48.1" y="720.9" font-size="36" font-weight="bold">12</text>
<text x="877.9" y="712.5" font-size="36" font-weight="bold">12</text>
<text x="199.7" y="1238.8" font-size="36" font-weight="bold">P</text>
<text x="417.7" y="1238.8" font-size="36" font-weight="bold">ND</text>
<text x="674.8" y="1238.8" font-size="36" font-weight="bold">PL</text>
<text x="1029.5" y="1235.2" font-size="36" font-weight="bold">P</text>
<text x="1247.7" y="1235.2" font-size="36" font-weight="bold">ND</text>
<text x="1504.7" y="1235.2" font-size="36" font-weight="bold">PL</text>
<text x="213.9" y="739.3" font-size="36" font-weight="bold">*</text>
<text x="439.6" y="846.1" font-size="36" font-weight="bold">*</text>
<text x="690.9" y="795.2" font-size="36" font-weight="bold">*</text>
<text x="1040.8" y="825.7" font-size="36" font-weight="bold">*</text>
<text x="1269.3" y="972.5" font-size="36" font-weight="bold">*</text>
<text x="1529.0" y="909.1" font-size="36" font-weight="bold">*</text>
<text x="1466.0" y="752.3" font-size="36" font-weight="bold">*</text>
<text x="1481.9" y="753.9" font-size="32" font-weight="bold">p&lt;0.001</text>
<text x="1424.2" y="58.5" font-size="32" font-weight="bold">Control</text>
<text x="1422.7" y="94.4" font-size="32" font-weight="bold">Neuropathy</text></svg></body></html>
